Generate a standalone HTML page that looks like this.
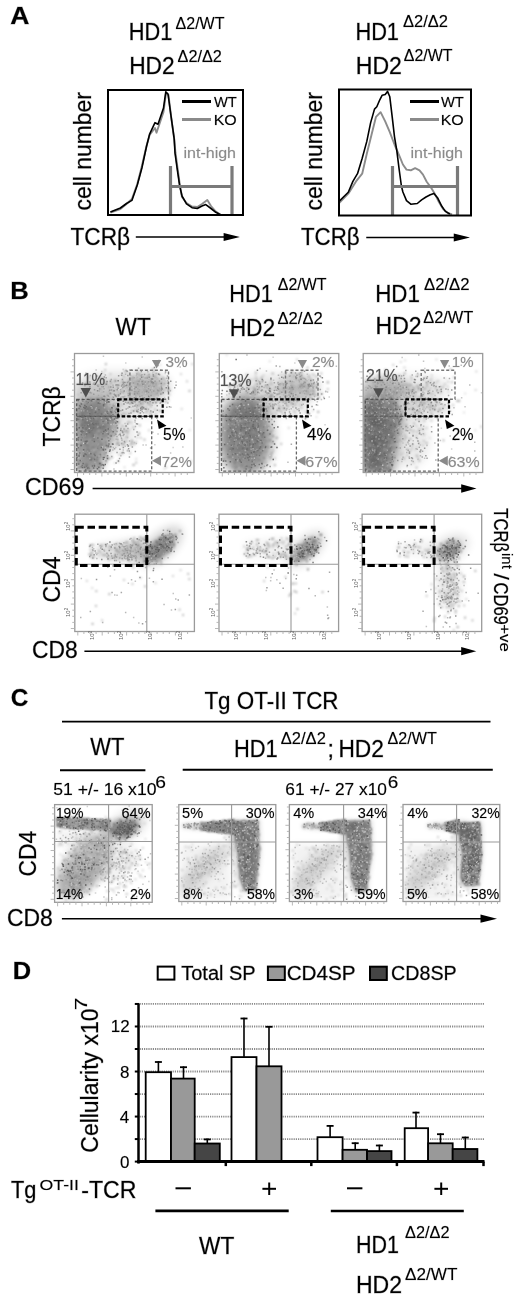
<!DOCTYPE html>
<html><head><meta charset="utf-8"><style>
html,body{margin:0;padding:0;background:#fff;}
svg{display:block;}
text{font-family:"Liberation Sans",sans-serif;stroke-opacity:0.3;stroke-width:0.8px;}
</style></head><body>
<svg width="520" height="1305" viewBox="0 0 520 1305">
<rect width="520" height="1305" fill="#fff"/>
<filter id="gb" x="0" y="0" width="100%" height="100%"><feGaussianBlur stdDeviation="0.35"/></filter>
<g filter="url(#gb)">
<rect width="520" height="1305" fill="#fff"/>
<defs>
<filter id="b0" x="-5%" y="-5%" width="110%" height="110%"><feGaussianBlur stdDeviation="0.8"/></filter>
<filter id="b1" x="-50%" y="-50%" width="200%" height="200%"><feGaussianBlur stdDeviation="1.2"/></filter>
<filter id="b2" x="-50%" y="-50%" width="200%" height="200%"><feGaussianBlur stdDeviation="2.5"/></filter>
<filter id="b3" x="-50%" y="-50%" width="200%" height="200%"><feGaussianBlur stdDeviation="4"/></filter>
<filter id="b4" x="-50%" y="-50%" width="200%" height="200%"><feGaussianBlur stdDeviation="6"/></filter>
</defs>
<clipPath id="c1"><rect x="74.5" y="353.5" width="119.5" height="119"/></clipPath>
<g clip-path="url(#c1)">
<path d="M76 399L106 399L116 410L116 428L108 450L100 472L76 472z" fill="#000" opacity="0.36" filter="url(#b3)"/>
<ellipse cx="95" cy="392" rx="22" ry="9" fill="#000" opacity="0.1" filter="url(#b3)"/>
<ellipse cx="92" cy="418" rx="18" ry="16" fill="#000" opacity="0.2" filter="url(#b3)"/>
<ellipse cx="88" cy="445" rx="12" ry="26" fill="#000" opacity="0.1" filter="url(#b3)"/>
<ellipse cx="120" cy="432" rx="16" ry="22" fill="#000" opacity="0.08" filter="url(#b3)"/>
<ellipse cx="118" cy="389" rx="46" ry="16" fill="#000" opacity="0.14" filter="url(#b4)"/>
<ellipse cx="148" cy="386" rx="22" ry="15" fill="#000" opacity="0.16" filter="url(#b3)"/>
<ellipse cx="140" cy="408" rx="26" ry="9" fill="#000" opacity="0.07" filter="url(#b3)"/>
<g filter="url(#b0)">
<path d="M90.7 391.7h1.7M163.5 468.7h1.7M159.6 364.8h1.7M141.2 405.4h1.7M188.8 430.1h1.7M123.7 467.3h1.7M135.4 458.8h1.7M98.9 383.1h1.7" stroke="#d2d2d2" stroke-width="1.7" fill="none"/>
<path d="M123.9 437.9h1.7M103 453.1h1.7M93 450.1h1.7M190.1 461.1h1.7M110.4 432.4h1.7M137.9 434.4h1.7M113.7 463h1.7M180.8 408.9h1.7M133.6 396.9h1.7M148.1 430.4h1.7M115.7 443.8h1.7M167.8 400.4h1.7" stroke="#c8c8c8" stroke-width="1.7" fill="none"/>
<path d="M120 403.4h1.7M126.8 432.6h1.7M126.4 434.5h1.7M116.1 437h1.7M117.3 441.3h1.7M115.6 411h1.7M128.3 429.8h1.7M111 432.8h1.7M102.5 373.3h1.7M103.3 405.5h1.7M126.8 399.1h1.7M101.1 380.1h1.7M107.8 400.7h1.7M110.6 400.3h1.7M114.7 408.4h1.7M121.1 380.1h1.7M130.2 391.9h1.7M141.3 399.8h1.7M113.8 394.6h1.7M117 380.9h1.7M104.7 389h1.7M87.7 377.6h1.7M84.6 376.3h1.7M109.4 380.8h1.7M132.1 390.3h1.7M111.1 386.7h1.7M110.4 394.6h1.7M121.1 374.1h1.7M85.8 388.3h1.7M123.8 386.5h1.7M131.5 389.8h1.7M154.4 396.9h1.7M113.9 391.7h1.7M122.6 390.2h1.7M89.1 388.9h1.7M126.9 386.5h1.7M134 383.3h1.7M160.2 381.2h1.7M180.2 374.1h1.7M132.2 378.4h1.7M133.5 404.4h1.7M144.2 389.7h1.7M140.3 387.5h1.7M147.9 393.2h1.7M151.6 392.1h1.7M148.4 383.8h1.7M137.4 411.7h1.7M142.3 406.5h1.7" stroke="#c4c4c4" stroke-width="1.7" fill="none"/>
<path d="M104.8 421.4h1.7M127.8 413h1.7M118.7 415.6h1.7M165.4 467.3h1.7M191.4 364.1h1.7M118.6 454.7h1.7M82.2 407.6h1.7M95.2 374.3h1.7" stroke="#bdbdbd" stroke-width="1.7" fill="none"/>
<path d="M125.4 413h1.7M121.6 440.2h1.7M129.4 453.1h1.7M115.2 432.5h1.7M124.9 427.2h1.7M112.7 435.3h1.7M114.7 430.4h1.7M117.8 422h1.7M119.4 430.9h1.7M112.6 434.9h1.7M97.3 431.3h1.7M106.3 391.5h1.7M101.1 383.9h1.7M102.1 401.9h1.7M116.9 393.1h1.7M168.5 394.7h1.7M129.4 396.1h1.7M136.6 404.7h1.7M118 392.2h1.7M129.4 378.5h1.7M118.9 383.5h1.7M169 390.1h1.7M99.8 392.9h1.7M139.9 393.4h1.7M109.6 374.1h1.7M92.1 399.6h1.7M148.4 382.8h1.7M132.3 376.5h1.7M186.2 381.4h1.7M146.5 391.5h1.7M103.7 382.5h1.7M139.3 388.3h1.7M89.6 396.7h1.7M103.6 383.2h1.7M129 391.9h1.7M153.2 397.9h1.7M139.1 383.3h1.7M126.9 391.4h1.7M160.4 381.4h1.7M152 377.4h1.7M160.6 402.1h1.7M133.1 394.5h1.7M140.2 394.8h1.7M151.7 402h1.7M147.7 386h1.7M131.8 384.4h1.7M145.3 389.7h1.7M147.5 381.3h1.7M146.6 388.4h1.7M143 393.5h1.7M156.4 384.6h1.7M128.2 390.5h1.7M149.7 378.4h1.7M148.3 376.9h1.7M148 403.8h1.7M139.6 405.2h1.7M120.9 405.2h1.7M159.4 400.1h1.7M138.6 413.4h1.7" stroke="#b8b8b8" stroke-width="1.7" fill="none"/>
<path d="M135.3 442h1.7M130.7 422.6h1.7M136.4 437.5h1.7M139.9 437.9h1.7M119.4 443.7h1.7M108.6 444.1h1.7M131.2 398.7h1.7M98.9 377.1h1.7M85.4 382.8h1.7M121.1 381.6h1.7M99.1 385.8h1.7M102.6 378.4h1.7M127.2 372.3h1.7M88.9 376.9h1.7M107.4 387.7h1.7M77 394.7h1.7M124 370.7h1.7M126.2 382.4h1.7M135.5 393.4h1.7M134.3 390.4h1.7M138 381.1h1.7M148.8 391.1h1.7M140.8 380.5h1.7M134.4 410h1.7M141.2 404.3h1.7M134.2 409h1.7M133.2 411.6h1.7" stroke="#b5b5b5" stroke-width="1.7" fill="none"/>
<path d="M124.8 415.6h1.7M129.9 443.8h1.7M122 443h1.7M123.7 432.2h1.7M126.3 430.9h1.7M135.4 462.7h1.7M155 401.3h1.7M122.7 393.1h1.7M118.4 393.4h1.7M108 387.3h1.7M143 390.3h1.7M138.6 399.8h1.7M135.2 381.8h1.7M147.4 393.3h1.7M150.7 383.7h1.7M142.1 393.3h1.7M148.3 398.7h1.7M148.4 396.4h1.7M152.8 396.3h1.7M167.6 389.7h1.7M156.7 400.4h1.7M137.2 409.7h1.7M165.6 402.3h1.7M118.1 407h1.7M137.4 405.1h1.7M154 409.6h1.7M139 403.2h1.7" stroke="#aaaaaa" stroke-width="1.7" fill="none"/>
<path d="M77.6 430.7h1.7M82.1 407.6h1.7M95.6 434.3h1.7M108.4 436.1h1.7M101.7 435.9h1.7M95 437.9h1.7M79.8 428.2h1.7M96.1 448.9h1.7M94.9 418.6h1.7M102.5 465.7h1.7M103.1 421.2h1.7M81.4 417.4h1.7M89.1 440.4h1.7M76.2 464.8h1.7M93.8 458.9h1.7M95.4 410.9h1.7M96.6 416.2h1.7M78.8 424.6h1.7M112.7 439.5h1.7M100.4 463.4h1.7M107.2 402.5h1.7M93.1 416.3h1.7M100 421.5h1.7M77.2 402h1.7M80.7 401.5h1.7M76.2 434.8h1.7M87.9 414.7h1.7M108.5 441.3h1.7" stroke="#aaa" stroke-width="1.7" fill="none"/>
<path d="M128 421.8h1.7M121.9 445.1h1.7M109.3 417.2h1.7M116.3 439.1h1.7M117.2 442.1h1.7M121.8 413.7h1.7M130.6 444.8h1.7M127 423h1.7M101.8 439h1.7M120.9 431.9h1.7M131.2 400.7h1.7M143.8 386.4h1.7M90.1 398.2h1.7M98.1 385.7h1.7M114.2 381.8h1.7M122 383h1.7M104.4 370h1.7M149.7 394h1.7M138.2 406.3h1.7M128.9 381.1h1.7M115.2 390.1h1.7M104.9 385.5h1.7M127.5 385h1.7M146.6 403.6h1.7M101.6 396.8h1.7M106.6 394h1.7M122.5 398h1.7M103.9 381.7h1.7M105.2 398.1h1.7M128.4 385.6h1.7M129 386.3h1.7M163.8 390.2h1.7M168 389.8h1.7M145.7 382.6h1.7M160.4 382.5h1.7M128.7 387h1.7M139 385.3h1.7M151.9 379.5h1.7M156.7 373.9h1.7M161.7 378.1h1.7M156.9 394.1h1.7M145 384.9h1.7M153.5 375.1h1.7M139.5 390.7h1.7M154.8 402.2h1.7M153 371.7h1.7M123 413.7h1.7" stroke="#a8a8a8" stroke-width="1.7" fill="none"/>
<path d="M117.4 461.3h1.7M121.8 426.3h1.7M109.8 432.9h1.7M117.4 422.7h1.7M131 440.5h1.7M138.9 425.3h1.7M131.3 442.2h1.7M126.8 432.3h1.7M108.3 458.6h1.7M132.7 427.4h1.7M123.3 443.8h1.7M123.8 430.2h1.7M123.7 431.2h1.7M133.5 443.9h1.7M111.1 457.5h1.7M143.6 439.6h1.7M125.5 441.2h1.7M130.5 379.3h1.7M142.7 382.2h1.7M141.2 381.4h1.7M141.7 386.5h1.7M127.9 396.6h1.7M139.2 374.9h1.7M105.9 401h1.7M164.4 400.8h1.7M110 383.1h1.7M133.3 394.2h1.7M188.6 390.9h1.7M105 364.1h1.7M98.3 378.9h1.7M121.5 390.6h1.7M124.7 371.8h1.7M109.3 393.9h1.7M103.2 384.2h1.7M87.8 388h1.7M136.8 380.3h1.7M108.3 386.8h1.7M146.5 377.3h1.7M122.9 376.3h1.7M109.9 382h1.7M90.2 393h1.7M115.2 395.9h1.7M114 403.1h1.7M112 390.4h1.7M116.9 399.1h1.7M142.2 401.1h1.7M101 378.7h1.7M143.8 389.6h1.7M95.2 402.5h1.7M117.1 385.7h1.7M147.9 375.1h1.7M145.1 399.6h1.7M156.2 382.4h1.7M145.4 392.9h1.7M136.9 380.4h1.7M157.7 393.5h1.7M150.9 388.8h1.7M137.6 385.7h1.7M151.6 393.4h1.7M151.5 383.9h1.7M151.1 385.8h1.7M162.9 378.8h1.7M161 383.7h1.7M155.4 389.2h1.7M137.5 374.1h1.7M156.5 378.9h1.7M128.5 402h1.7M148 383.9h1.7M163.6 384.5h1.7M139.2 384.8h1.7M164.7 381.3h1.7M135 384.1h1.7M136.6 371.5h1.7M154.6 391.2h1.7M158.3 389.2h1.7M154.9 414.6h1.7M149.9 406.7h1.7M131 410.9h1.7M146.8 410.1h1.7M149.4 414.4h1.7" stroke="#9a9a9a" stroke-width="1.7" fill="none"/>
<path d="M82.4 434.7h1.7M95.9 447.5h1.7M79.4 431.8h1.7M90.3 402.8h1.7M101.8 409.8h1.7M79.6 447.2h1.7M90.7 439.1h1.7M110.7 414.4h1.7M98 400.4h1.7M97.5 449.6h1.7M99.5 467.9h1.7M85.2 468.5h1.7M99.3 431.2h1.7M79.5 461.5h1.7M96.8 459.9h1.7M95.9 435.7h1.7M100.6 437.6h1.7M97.2 460h1.7M85.7 401.3h1.7M104.2 449.5h1.7M91.7 468.8h1.7M92.8 431.5h1.7M77.4 450.8h1.7M92.4 466.7h1.7M103.2 454.8h1.7M83.1 399.2h1.7M101.5 422.9h1.7M87.1 405.1h1.7M86.4 416.9h1.7M85.1 425.9h1.7M93 460.8h1.7M114.5 411.1h1.7M91.1 454.8h1.7M94.6 411.9h1.7M77.4 409.9h1.7M99.6 424.6h1.7M99.3 430.8h1.7M109.1 437.2h1.7M79.3 465.5h1.7M102.5 420h1.7M80.2 406.1h1.7M98.6 414.8h1.7M112.2 405.6h1.7M110.4 411.4h1.7M98.3 454.1h1.7M82.5 460.5h1.7M83.1 431h1.7" stroke="#999" stroke-width="1.7" fill="none"/>
<path d="M121.2 453.5h1.7M138.2 433.4h1.7M125.9 437.2h1.7M132.7 464.9h1.7M116.7 416h1.7M116.9 444.4h1.7M106.5 425h1.7M116.4 443.6h1.7M111.2 399.5h1.7M131.9 377.8h1.7M114.2 380.3h1.7M143.7 385.7h1.7M121.6 398.9h1.7M116.5 386.5h1.7M85.4 390.6h1.7M141.9 403.7h1.7M100.3 389h1.7M135.6 392.1h1.7M130.2 403h1.7M144.2 391.5h1.7M154.5 383.4h1.7M145.5 381.9h1.7M143.4 384.7h1.7M160.9 392.4h1.7M154.9 394.2h1.7M152.4 369.4h1.7M155.1 385.6h1.7M128.9 390h1.7M130.1 398.4h1.7M137.6 394.7h1.7M132.8 381.8h1.7M154.5 377.1h1.7M131.1 400.2h1.7M159.2 410.9h1.7M150.2 411.8h1.7M145.4 407.5h1.7M149.1 403.7h1.7M145.5 412.3h1.7M124.2 399.6h1.7" stroke="#8a8a8a" stroke-width="1.7" fill="none"/>
<path d="M103.3 404.3h1.7M98.5 425.7h1.7M89.2 441.7h1.7M112.8 421.9h1.7M78.5 450.2h1.7M85.3 415.6h1.7M84.3 413.9h1.7M81.3 410h1.7M79.1 447.9h1.7M103.7 409.4h1.7M82.3 466.1h1.7M98.1 416.4h1.7M78.1 413.7h1.7M86.3 469.5h1.7M107.5 447h1.7M99.5 444.8h1.7M102.3 448.7h1.7M103.7 403.8h1.7M106.9 417.4h1.7M78.5 418.6h1.7M113.5 413.5h1.7M84.8 468h1.7M81.9 424.1h1.7M92.3 415.3h1.7M107.3 401.3h1.7M90.2 418.9h1.7M92.2 417.3h1.7M89.4 425.4h1.7M89.7 470.6h1.7M102.1 448.2h1.7M111.3 420.4h1.7M100.3 422.8h1.7M77.7 420.4h1.7M78.7 406.4h1.7M93.9 447.1h1.7M95.9 406.8h1.7M78.8 462.3h1.7M80.5 414h1.7M76.1 413.7h1.7M90.6 459.7h1.7M105.3 456.4h1.7M91.9 463.5h1.7" stroke="#858585" stroke-width="1.7" fill="none"/>
<path d="M89.6 410h1.7M81.2 415.3h1.7M110.5 419.8h1.7M77.1 462.8h1.7M77 468.4h1.7M89.8 415.3h1.7M89.7 436.8h1.7M99.3 456.3h1.7M86.4 419.2h1.7M96.1 467.7h1.7M84 433.7h1.7M87.1 469.2h1.7M96.6 399.2h1.7M99.8 399.9h1.7M76.7 432.5h1.7M96.4 400.8h1.7M86.5 418.4h1.7M97.5 412.9h1.7M96.9 415.1h1.7M80.6 410.3h1.7M95.2 439.3h1.7M98 441.6h1.7M116.1 408h1.7M91 459h1.7M99.8 426.2h1.7M81 412.8h1.7M76.6 439.3h1.7M96.3 402.9h1.7M94.8 431h1.7M109.5 418.3h1.7M101.9 430.6h1.7M97.5 464.4h1.7M97.3 445.8h1.7M107.3 433h1.7M105.1 445.3h1.7M76.9 417.7h1.7M77.3 429.1h1.7M107.6 446.2h1.7" stroke="#777" stroke-width="1.7" fill="none"/>
<path d="M78.4 436h1.7M100.2 428h1.7M95 420.9h1.7M98.1 462.9h1.7M105.2 442.4h1.7M76.9 432.7h1.7M84.8 410.8h1.7M80.3 425.5h1.7M86.6 424.4h1.7M98.8 401h1.7M98.2 470.4h1.7M85.5 436.8h1.7M111.3 434h1.7M90 457.5h1.7M86.9 429.6h1.7M90.9 432.4h1.7M92.7 434.6h1.7M84.2 422.3h1.7M87.4 408.5h1.7M99.2 466.6h1.7M87.3 408.4h1.7M88.3 432.5h1.7M106.4 446h1.7M106.8 458.3h1.7M100.5 464.2h1.7M80.4 460h1.7M94.9 421h1.7M84.7 465.1h1.7M99.9 463.8h1.7M97.9 448.8h1.7M88.9 400.6h1.7M97.2 414h1.7M96.8 412.7h1.7M110.5 430.6h1.7M77.5 403.6h1.7M95.9 458.8h1.7M81.9 413.9h1.7M91 429.4h1.7M79.7 444.4h1.7M91.6 435.8h1.7M110.6 410.7h1.7M109 415.2h1.7M97.3 422.3h1.7M80.8 437.7h1.7M102.5 427.8h1.7M89.1 399.1h1.7M76.3 460.6h1.7M107.2 432h1.7M87.1 445.9h1.7M105.3 461.6h1.7M94.4 451.9h1.7M90.5 409.4h1.7M107.8 414h1.7M105.4 435.4h1.7M103.8 453.2h1.7" stroke="#707070" stroke-width="1.7" fill="none"/>
<path d="M92.2 447.8h1.7M87.7 429.3h1.7M104.4 402.9h1.7M76 410h1.7M86.9 449.6h1.7M114.3 431.4h1.7M102.2 436.4h1.7M79 467.5h1.7M89.1 421.3h1.7M81.6 425.3h1.7M104.4 420.2h1.7M97.7 432.9h1.7M85.7 464.5h1.7M114.9 408.3h1.7M100.7 399h1.7M103.9 426.6h1.7M116.5 414.1h1.7M86.9 455.8h1.7M101 444.3h1.7M92.6 439.2h1.7M91.3 413.4h1.7M114.9 427.3h1.7M97.8 427h1.7M110.3 409.5h1.7M80.5 425.1h1.7M86.2 409.9h1.7M113 423h1.7M86 465.3h1.7M95.7 460.3h1.7M84.9 444.5h1.7M91.3 458.7h1.7M87.9 451.3h1.7M113.4 405.3h1.7" stroke="#6a6a6a" stroke-width="1.7" fill="none"/>
</g>
<path d="M147 410h1.5M140 399.5h1.5M164.5 373.5h1.5M125 363h1.5M172.4 447.5h1.5M101.1 371.4h1.5M82.9 443.2h1.5M83.3 398.3h1.5M158.3 360.3h1.5M190.5 418.1h1.5M122.4 369.4h1.5M163.8 397.6h1.5M130.6 407.5h1.5M109.4 419h1.5M154.1 444.7h1.5M145.7 402.6h1.5" stroke="#d2d2d2" stroke-width="1.5" fill="none"/>
<path d="M142.4 445.1h1.5M105.7 420.4h1.5M126.6 451h1.5M95.4 370h1.5M158.8 422.9h1.5M145.3 383.6h1.5M156 378.8h1.5M113.2 469.1h1.5M179.5 367h1.5M114.2 418.1h1.5M157.3 434h1.5M145.3 445h1.5M152 372.9h1.5M141.5 357h1.5M169.9 453.1h1.5M84.8 383.1h1.5M182.1 447h1.5M102.7 356.3h1.5" stroke="#c8c8c8" stroke-width="1.5" fill="none"/>
<path d="M126.8 450.3h1.5M126.8 437.5h1.5M133.5 442.5h1.5M122.5 450.1h1.5M152.1 432.3h1.5M133.7 442.8h1.5M101.6 446.9h1.5M123.4 453.1h1.5M135.6 443.5h1.5M124.3 423.6h1.5M124.5 446.2h1.5M135.7 410.7h1.5M120.6 437.4h1.5M110.3 424.5h1.5M106 432h1.5M115 447.5h1.5M134.3 421.9h1.5M126.2 391.6h1.5M133 387.4h1.5M99.4 384.4h1.5M137.5 396.6h1.5M100.6 387.1h1.5M101.8 379.2h1.5M109.6 397.4h1.5M129.9 382.6h1.5M117.1 391.2h1.5M124.2 396.3h1.5M110.3 379.9h1.5M99.5 380.3h1.5M128.5 399.6h1.5M135 404.6h1.5M126.2 383.1h1.5M148.4 395.7h1.5M127.7 388.3h1.5M141.7 391.4h1.5M142.6 376.4h1.5M97.4 384.4h1.5M109.1 391.7h1.5M129.3 383.7h1.5M170.2 407.3h1.5M100.3 386.5h1.5M100 385.1h1.5M124.9 388.8h1.5M111.3 390.8h1.5M104.8 402.7h1.5M90.4 406.3h1.5M131 399.8h1.5M140.4 408.6h1.5M129.9 386.4h1.5M117.8 396.1h1.5M106 386.8h1.5M113.9 404.1h1.5M129.6 384.8h1.5M121.1 388.8h1.5M151.9 388h1.5M129.8 381.7h1.5M156.7 379.7h1.5M152.5 378h1.5M147.7 400.8h1.5M124.2 386.8h1.5M130.2 375.5h1.5M161.6 391h1.5M129.8 379.4h1.5M144.8 393.3h1.5M175.3 381.9h1.5M126.7 385.8h1.5M136.7 405.6h1.5M136 409.3h1.5M151.3 405.2h1.5" stroke="#c4c4c4" stroke-width="1.5" fill="none"/>
<path d="M107.2 403h1.5M120.1 455.8h1.5M105.3 451.3h1.5M127.7 394h1.5M159.1 398.7h1.5M112.1 450.1h1.5M88.5 428.4h1.5M80 460.3h1.5" stroke="#bdbdbd" stroke-width="1.5" fill="none"/>
<path d="M133 429.5h1.5M134.3 420.3h1.5M123.1 434.6h1.5M125.8 430.8h1.5M113.1 424.2h1.5M121.2 440.2h1.5M115.4 434.3h1.5M116.3 410.5h1.5M104.7 447.5h1.5M112.6 447.6h1.5M128.8 441.1h1.5M118.1 434.9h1.5M150.3 388.5h1.5M140.6 391.5h1.5M122.6 381.4h1.5M103.5 397.1h1.5M112.3 391h1.5M121.5 396.7h1.5M100.6 395.1h1.5M118.5 394.9h1.5M118.7 401.4h1.5M118.4 406.6h1.5M98.9 399.3h1.5M161 393.8h1.5M104.6 375.1h1.5M123.9 396.5h1.5M122.3 392.1h1.5M148.4 383.8h1.5M89.6 375.6h1.5M143 385.4h1.5M108.8 400.4h1.5M130.7 397.4h1.5M101.4 392.3h1.5M103.6 379.7h1.5M156.2 379.1h1.5M111.6 396.9h1.5M141.1 395.3h1.5M128.9 389.6h1.5M137.8 368.3h1.5M98.1 384.8h1.5M110 404.9h1.5M155.4 373.6h1.5M120 397.4h1.5M87.3 389.4h1.5M169.6 390.8h1.5M142.7 387.6h1.5M156.8 391.9h1.5M121 414.8h1.5M165.8 378.3h1.5M106.7 384.4h1.5M149.5 381.9h1.5M145.8 384.1h1.5M139.7 382.7h1.5M126.3 387.5h1.5M153.1 388.2h1.5M144.9 402.2h1.5M146.8 388.8h1.5M134.5 386.2h1.5M132.9 380.9h1.5M135.7 378h1.5M145.3 382h1.5M150.5 391.2h1.5M148.1 375h1.5M163.9 383.5h1.5M152.3 378.6h1.5M158 384.1h1.5M122.2 392.7h1.5M135.7 375.8h1.5M147.2 391.7h1.5M131.1 393.3h1.5M155.2 390.3h1.5M136.8 377.2h1.5M142.1 392.5h1.5M151.5 379.3h1.5M157.5 395.4h1.5M147.1 371.7h1.5M142.8 412.8h1.5M156 418.3h1.5M135.1 404.8h1.5M138 401.9h1.5M143.8 400.8h1.5M167.1 403.1h1.5M127.1 408.3h1.5" stroke="#b8b8b8" stroke-width="1.5" fill="none"/>
<path d="M121.3 452.8h1.5M111.5 429.5h1.5M117 439.6h1.5M134.4 436.7h1.5M124 442.5h1.5M115.5 439.2h1.5M134.7 426.5h1.5M108.2 391.5h1.5M110.8 393.4h1.5M112.3 385.3h1.5M117.3 398.7h1.5M88.4 398.3h1.5M152.1 392.8h1.5M127.4 385.7h1.5M123.5 385.1h1.5M108.7 396.9h1.5M146.4 392h1.5M86.8 394.1h1.5M135.3 393.1h1.5M130.8 401.7h1.5M108 387h1.5M141.8 381.5h1.5M144 388.2h1.5M127.5 400.8h1.5M85.2 373.2h1.5M116.2 403.3h1.5M134.4 402.4h1.5M129.1 403.7h1.5M139 382.3h1.5M157 388.1h1.5M148 376.9h1.5M152.4 381.4h1.5M150.5 385.1h1.5M124.8 374.2h1.5M137.7 398.9h1.5M158.7 387.5h1.5M158.5 383.1h1.5M160.1 370h1.5M153.1 384.7h1.5M166.8 383.3h1.5M167 380.8h1.5M151.5 391.6h1.5M159.1 391.8h1.5M142.4 377h1.5M148.7 379.6h1.5M127.5 399.5h1.5M154.6 389.8h1.5M148.1 379.8h1.5M148.4 374.4h1.5M126.3 403.1h1.5M144.3 408.8h1.5M130.9 403.2h1.5M136.1 407.1h1.5M147.7 409.2h1.5" stroke="#b5b5b5" stroke-width="1.5" fill="none"/>
<path d="M120.1 410.8h1.5M135.1 417.9h1.5M149.9 447.9h1.5M108.3 436.5h1.5M120.8 438.5h1.5M111 456.4h1.5M112.1 435.7h1.5M118.4 445.3h1.5M114.3 433.5h1.5M110.2 433.2h1.5M123.3 429.1h1.5M128.7 456.9h1.5M136 392.2h1.5M125.4 370.4h1.5M133.4 377.8h1.5M106.6 395.2h1.5M120.2 392.1h1.5M118 385.2h1.5M138.4 393.5h1.5M133.6 391.4h1.5M107 402.6h1.5M84.2 385.7h1.5M131.3 390.5h1.5M92.7 384.3h1.5M119.8 389.8h1.5M93.4 382.9h1.5M123.3 391.4h1.5M158.9 388.9h1.5M140.5 375.7h1.5M157.3 365.4h1.5M145.8 387.3h1.5M152.4 384.5h1.5M141.6 392h1.5M150.4 398.8h1.5M141 383.3h1.5M147 383.3h1.5M149.4 385.5h1.5M144.6 389.5h1.5M167.3 385.8h1.5M158.8 374.8h1.5M157.7 373.9h1.5M138.5 380.8h1.5M144.1 390.6h1.5M154.8 384.2h1.5M130.5 370h1.5M136.3 391.7h1.5M132.2 406.4h1.5M159.4 403.2h1.5M124.8 402.2h1.5M140 403.6h1.5M137.6 409.6h1.5" stroke="#aaaaaa" stroke-width="1.5" fill="none"/>
<path d="M89 458.6h1.5M100.7 418.2h1.5M78.6 403.9h1.5M91.3 408h1.5M98.4 455.9h1.5M94.2 462.6h1.5M86.6 420.4h1.5M106.5 439.6h1.5M111.3 409h1.5M82.5 451.3h1.5M76.8 423.2h1.5M80.4 418.4h1.5M80.6 410.8h1.5M106.8 439.2h1.5M87.8 416.7h1.5M95.6 407.7h1.5M82 437.3h1.5M76.1 453.8h1.5M113.9 420.2h1.5M106.8 431.9h1.5M88 402.6h1.5M88.5 452.9h1.5M94.9 409.2h1.5M93.4 437.3h1.5M113.6 433.5h1.5M113.1 433.7h1.5M82 402.8h1.5M91.7 423.2h1.5M89.3 419.1h1.5M76.2 454.2h1.5M108.9 404.8h1.5M85.8 429.4h1.5M103.9 407.8h1.5M115.1 426.2h1.5M86.7 442.8h1.5M76.5 422.9h1.5M104.5 412.5h1.5M106.6 413.9h1.5M97.9 466.6h1.5M115.9 408.9h1.5M84.1 470.7h1.5M107.8 410.6h1.5M84.7 418.2h1.5M105.2 460.7h1.5M78.8 442.1h1.5M79.4 456.5h1.5M102.4 425h1.5M113.9 435.6h1.5M85.8 432.6h1.5" stroke="#aaa" stroke-width="1.5" fill="none"/>
<path d="M128.3 413.4h1.5M127.2 428.5h1.5M116.2 436.5h1.5M115 430.3h1.5M113.8 448.7h1.5M122.4 435.5h1.5M118.8 458.6h1.5M126.9 424h1.5M116.3 452.4h1.5M120.2 428.6h1.5M127.4 446h1.5M123.1 434.4h1.5M137.2 435.3h1.5M120.9 443.5h1.5M131.6 447h1.5M103.3 388.8h1.5M101.1 386.7h1.5M130.1 382.7h1.5M134.1 386.9h1.5M136.5 381.6h1.5M141.5 411.4h1.5M128.7 390.9h1.5M127.7 381.5h1.5M150.8 391.9h1.5M135.1 396.1h1.5M142.2 399.4h1.5M149.6 381.3h1.5M131.1 390.3h1.5M119.4 399.9h1.5M115.1 394.9h1.5M110.6 379.5h1.5M161.6 389.3h1.5M90.6 393.1h1.5M175.3 385.3h1.5M116.1 384.8h1.5M143.7 400.9h1.5M123.3 384.9h1.5M152.4 384.3h1.5M141.2 395.7h1.5M138.7 389.7h1.5M97.8 395.5h1.5M81.8 400.5h1.5M127.6 393.4h1.5M122.8 396.9h1.5M114.7 381h1.5M99.8 402.1h1.5M129.3 387.2h1.5M109.4 392.9h1.5M98.5 391h1.5M96.5 385.3h1.5M102.9 391.7h1.5M106.1 383h1.5M105.4 377.8h1.5M136.7 405.5h1.5M137.1 388.8h1.5M142.3 383.2h1.5M151.2 382.3h1.5M146.9 402.8h1.5M146.1 383.9h1.5M157.1 391.8h1.5M174 387.8h1.5M144.1 387.8h1.5M141.2 374.8h1.5M144.1 387.8h1.5M136.1 374h1.5M160.6 386.3h1.5M144.4 378h1.5M159.9 402.6h1.5M167.4 391.1h1.5M142.4 381.1h1.5M146.9 390.5h1.5M156.4 393.2h1.5M145.5 390.1h1.5M132.1 399.1h1.5M142.2 381.6h1.5M166.7 376.1h1.5M128.7 406.9h1.5M141 409.6h1.5M155.2 402.8h1.5M144.9 409h1.5M150 410.9h1.5M125.5 409h1.5" stroke="#a8a8a8" stroke-width="1.5" fill="none"/>
<path d="M119.9 435.8h1.5M119.2 449.2h1.5M105.7 422h1.5M122 432.4h1.5M115.5 421.3h1.5M114.9 434.2h1.5M100.3 449.8h1.5M128.5 451.1h1.5M136.7 424h1.5M135.8 423.7h1.5M122.6 447.4h1.5M115.3 463.1h1.5M122.3 452.4h1.5M123.7 441.6h1.5M107.8 446.9h1.5M109.1 435.5h1.5M108.9 431.8h1.5M134.6 451.6h1.5M127.6 446.1h1.5M126.7 444.7h1.5M127.9 448.8h1.5M136.3 432.1h1.5M121.7 431.3h1.5M117.3 388.3h1.5M89.1 382h1.5M147.7 388.8h1.5M139.2 401.8h1.5M120.8 385.9h1.5M156.9 390.2h1.5M109.6 393.4h1.5M122.5 382.5h1.5M139.1 396.4h1.5M115.3 385.1h1.5M112.7 406.1h1.5M128.8 406.9h1.5M98.9 389h1.5M119.7 393.7h1.5M103.6 376.9h1.5M104.1 396.5h1.5M109.6 381.3h1.5M161.1 389.1h1.5M112.5 387.2h1.5M150.5 381.3h1.5M126.8 382.5h1.5M110.7 389.9h1.5M144.8 400.1h1.5M80.4 392.7h1.5M112.7 397.3h1.5M93.8 389.7h1.5M117.8 395.8h1.5M130.4 386.5h1.5M97.3 386.2h1.5M140.6 371.5h1.5M127.7 395.5h1.5M122.1 387.6h1.5M108.9 390.2h1.5M89.2 386.8h1.5M117.7 399.5h1.5M102.6 386.8h1.5M145.4 409.3h1.5M81.8 382.9h1.5M120.9 375.3h1.5M147.8 392.3h1.5M121.6 384.8h1.5M117.6 395h1.5M122.6 383.5h1.5M116.5 389.8h1.5M115.4 396.2h1.5M101 398.3h1.5M107.5 395.9h1.5M113.5 394.2h1.5M110 387.1h1.5M121.7 379.5h1.5M139.6 379.1h1.5M148 386.2h1.5M132.7 383.1h1.5M117.9 375.8h1.5M93 394.2h1.5M121.3 373.3h1.5M113.1 399.9h1.5M85.7 389.1h1.5M123.3 386.6h1.5M133.9 388.8h1.5M89.4 392.5h1.5M126.4 371.2h1.5M128.9 389.7h1.5M117.1 384.9h1.5M134.8 401h1.5M164.8 371.9h1.5M127.1 375.6h1.5M150.3 381.1h1.5M137.1 384.4h1.5M143.6 397.8h1.5M152.7 376.2h1.5M123.5 391.1h1.5M145.9 391.1h1.5M134.2 391.8h1.5M151.4 382.3h1.5M136.6 393.6h1.5M150.3 395.6h1.5M158.1 390.8h1.5M146.4 377.9h1.5M150.6 382.5h1.5M133.4 401.4h1.5M156.3 398.3h1.5M144.6 382h1.5M151.9 383.3h1.5M149.6 389.9h1.5M149.4 401.6h1.5M125.1 385.8h1.5M152.9 391h1.5M147.8 381.8h1.5M138.2 381.6h1.5M154.3 381.3h1.5M152.5 374.7h1.5M153.3 386.4h1.5M160 394.1h1.5M137.9 391.6h1.5M158.7 381h1.5M130.8 390.2h1.5M170 381.3h1.5M137 383.8h1.5M143.8 374.5h1.5M148.5 377.3h1.5M132.3 400.6h1.5M160.5 390.1h1.5M144.9 400.7h1.5M168.7 406.8h1.5M142.3 408.5h1.5M156.6 410.3h1.5M140.7 407.2h1.5M128.5 406.7h1.5M140.3 407.7h1.5M141.8 409.1h1.5M127.5 402.7h1.5M144.3 416.2h1.5M156.5 405.8h1.5M134.2 406h1.5M152.2 402.7h1.5M144.5 408.9h1.5M114 411.3h1.5M139.6 413h1.5M166.1 407.3h1.5M136.2 411h1.5M139.9 410.2h1.5M137.1 411.8h1.5M130.2 412.9h1.5M150.9 415.3h1.5M141.5 418.6h1.5M132.9 411h1.5M111.3 409.1h1.5" stroke="#9a9a9a" stroke-width="1.5" fill="none"/>
<path d="M92.4 462.6h1.5M91.1 463.5h1.5M116.2 410h1.5M97.7 444.1h1.5M110.8 410.8h1.5M116.2 431.6h1.5M116.1 425.6h1.5M83.5 456.6h1.5M82.1 459.3h1.5M81.5 400h1.5M97.1 437.8h1.5M82.8 430.5h1.5M100 450.1h1.5M79.8 403.2h1.5M78.8 462h1.5M86.5 400.1h1.5M110.4 430.5h1.5M86.7 410.9h1.5M84.4 435.8h1.5M77.8 460h1.5M79.1 418.4h1.5M106.6 414h1.5M96.7 426.9h1.5M80.3 459.9h1.5M83 410.8h1.5M86 417.9h1.5M97.1 445h1.5M116.8 417.1h1.5M77.7 456.1h1.5M101.2 399.8h1.5M85.9 417h1.5M93.6 417.8h1.5M90.2 429.7h1.5M104.7 413.5h1.5M87.8 424.7h1.5M78.1 433.6h1.5M87 451.3h1.5M94.1 435h1.5M80 435.4h1.5M103.4 413.9h1.5M109.4 439h1.5M88.9 468.6h1.5M93.1 463.4h1.5M111.2 407.6h1.5M97.4 402h1.5M97.2 426.6h1.5M97.1 466.2h1.5M77.5 412.3h1.5M82.8 467.4h1.5M102.7 425.3h1.5M76.1 424.9h1.5M76.5 439.2h1.5M105.3 452.8h1.5M90.6 450.4h1.5M90.6 422.8h1.5M113.2 416.4h1.5" stroke="#999" stroke-width="1.5" fill="none"/>
<path d="M121.8 409.9h1.5M108 427.3h1.5M112.2 444.3h1.5M107.3 437.7h1.5M117.7 460.9h1.5M119.3 434.3h1.5M125.3 426h1.5M120 430.2h1.5M165.5 387.8h1.5M105.5 384.3h1.5M151.7 379.1h1.5M114.5 395.5h1.5M77.1 400.4h1.5M125.8 385.3h1.5M113.3 390.8h1.5M148 396.2h1.5M124.1 382.4h1.5M103.3 396.3h1.5M96.8 390.7h1.5M131.2 402.6h1.5M106.3 381.6h1.5M117.4 380.7h1.5M133.6 397.7h1.5M103.8 403.6h1.5M96 376h1.5M123.2 404.1h1.5M153.7 367.5h1.5M145.9 391.4h1.5M142.1 384.3h1.5M160.8 388h1.5M148.6 398.6h1.5M135.3 387.2h1.5M162.5 392.7h1.5M158 374.3h1.5M135.2 397.9h1.5M141.4 381.6h1.5M160.5 383.5h1.5M151.1 382h1.5M160.7 378.9h1.5M133.9 394h1.5M150.7 379.1h1.5M152.7 382.8h1.5M140.9 377.2h1.5M141.1 399.7h1.5M141.7 407h1.5M132 403.3h1.5M160.6 400.2h1.5M122.6 401.2h1.5M136.2 411.6h1.5M142.9 407.5h1.5M142 398.2h1.5M139.9 408.6h1.5M152.5 412.1h1.5" stroke="#8a8a8a" stroke-width="1.5" fill="none"/>
<path d="M112.1 420.1h1.5M83.6 441.5h1.5M78.5 414h1.5M100.4 432.3h1.5M78.5 455.1h1.5M91.5 440.3h1.5M80.3 445.3h1.5M100.5 465h1.5M83.2 433.6h1.5M99.6 454.5h1.5M77.7 455.9h1.5M110.4 417.9h1.5M97 412h1.5M76.2 418.3h1.5M117.4 409.9h1.5M81.9 437.2h1.5M107.2 421.2h1.5M89.3 460.3h1.5M88 467.3h1.5M103.6 421h1.5M78.6 419.3h1.5M96.9 448.2h1.5M85.5 401.5h1.5M88.4 468.5h1.5M93.3 458.3h1.5M114.6 417.8h1.5M115 412.4h1.5M86.4 403.7h1.5M77.4 439.3h1.5M105.8 431.6h1.5M110 446.7h1.5M77 444.2h1.5M81.4 430.4h1.5M106.8 455.8h1.5M86.4 465h1.5M89 420.9h1.5M85.8 401.8h1.5M116.5 414.8h1.5M82.1 401h1.5M80.5 466.8h1.5M91.5 422.4h1.5M96.6 457.2h1.5M83.7 435.1h1.5" stroke="#858585" stroke-width="1.5" fill="none"/>
<path d="M78.9 405.6h1.5M102.4 468.2h1.5M102.8 426.2h1.5M99 403.6h1.5M104.6 430.2h1.5M86.3 440.9h1.5M93.6 454.3h1.5M77.6 447.8h1.5M108.1 440.8h1.5M81.4 417.1h1.5M85.8 434.4h1.5M92.5 428.1h1.5M90.9 401.1h1.5M107.5 433.9h1.5M106.4 411.4h1.5M81.5 465.4h1.5M97.7 423.8h1.5M106.3 400.4h1.5M107.9 420.2h1.5M92.5 436h1.5M90.4 459.8h1.5M105.7 445.4h1.5M79 453.1h1.5M82.6 431.5h1.5M88.8 416h1.5M92.4 422.8h1.5M104.7 449.6h1.5M91.6 427.7h1.5M91.1 430.2h1.5M87.6 402.5h1.5M106.2 402.6h1.5M99.4 427.8h1.5M112.2 414.8h1.5M87.4 417.1h1.5M85.8 466.2h1.5M110.4 415.8h1.5M84.1 425.6h1.5M85.8 433.7h1.5M97.3 415.9h1.5M93.2 419.7h1.5M85.2 428.2h1.5M77.7 440.1h1.5M79.9 431.3h1.5M80 445.6h1.5M76.5 446.1h1.5M78.5 455.9h1.5M89.4 429.9h1.5M84.7 418.2h1.5M81.3 432.7h1.5" stroke="#777" stroke-width="1.5" fill="none"/>
<path d="M93.8 459.4h1.5M83.4 415.9h1.5M76.2 429.6h1.5M79.6 406.5h1.5M90.4 418.3h1.5M98.2 409.7h1.5M87 425.8h1.5M83 455.4h1.5M77.2 419.4h1.5M102.2 464.7h1.5M116.8 427.9h1.5M92.9 468.1h1.5M86.1 441.8h1.5M80.5 439.9h1.5M115.6 418h1.5M79 416.6h1.5M78.7 470.9h1.5M95.1 423.8h1.5M90.6 400.3h1.5M78.3 408.5h1.5M79.5 460.4h1.5M89 425h1.5M76 426.9h1.5M77.8 400.6h1.5M97.1 438.1h1.5M108.2 444h1.5M82.2 417.5h1.5M84.8 441.4h1.5M110.4 436.1h1.5M107.6 446h1.5M95.8 424.1h1.5M117 418h1.5M90.4 405.6h1.5M102.7 450h1.5M88.7 432.6h1.5M85.3 454.5h1.5M85.4 429.4h1.5M115.1 423h1.5M83.8 467.3h1.5M91.7 466.1h1.5M107 413.5h1.5M112.4 431.8h1.5M102.9 465.4h1.5M82.1 419.7h1.5M80.6 434.8h1.5M110.8 412.4h1.5M81.2 417h1.5M102.3 421.4h1.5M95.2 412.1h1.5M106.7 458.5h1.5M81.5 415.6h1.5M100.7 413.9h1.5M102.2 433.7h1.5M77.8 437.8h1.5M115.5 409.4h1.5M84.4 443.4h1.5M78 463.9h1.5M108.9 451.2h1.5M90.1 453.7h1.5M105.9 418.4h1.5M107.3 422.9h1.5M102.6 459.2h1.5M111.8 444.1h1.5M94.3 455.4h1.5M80.6 445.5h1.5M92.9 427.8h1.5" stroke="#707070" stroke-width="1.5" fill="none"/>
<path d="M109.4 450h1.5M106.6 420h1.5M83.1 407.5h1.5M99.1 463.5h1.5M103.4 457.4h1.5M98.1 467.2h1.5M93.7 466h1.5M94.5 412.4h1.5M76.2 457.3h1.5M81.1 431.3h1.5M93.7 465.5h1.5M104.9 430h1.5M102.6 457.5h1.5M93 424.4h1.5M103 404.7h1.5M116 408.7h1.5M76.2 434.9h1.5M111.2 407.8h1.5M84.1 405.6h1.5M107.5 429.1h1.5M91.8 423.7h1.5M80.7 404.1h1.5M116.7 421.8h1.5M82.1 427.7h1.5M84.9 470.1h1.5M78.5 427.7h1.5M108.2 402h1.5M84.3 454h1.5M82.4 463.5h1.5M89.1 413.8h1.5M102.8 405.7h1.5M82.9 449.8h1.5M84.3 408.2h1.5M107.8 401.8h1.5M101.2 439.2h1.5M93.6 441.5h1.5M102.7 405h1.5M97.5 403h1.5M96.7 468.8h1.5M113.7 419.1h1.5M104.5 464.4h1.5M83.1 456.3h1.5M110.4 417.5h1.5M100.6 447.4h1.5M103.4 400.6h1.5M85.4 441.6h1.5M81.7 467.4h1.5M92.9 418.3h1.5M103.1 431.4h1.5M110.2 411.7h1.5M85.5 406.7h1.5M86.9 416.2h1.5M102.5 449.6h1.5M86.9 467.9h1.5" stroke="#6a6a6a" stroke-width="1.5" fill="none"/>
</g>
<rect x="74.5" y="353.5" width="119.5" height="119" fill="none" stroke="#9a9a9a" stroke-width="1.3"/>
<path d="M74.5 469.5h-4M74.5 463.4h-2.5M74.5 457.3h-2.5M74.5 451.2h-2.5M74.5 445.1h-4M74.5 439h-2.5M74.5 432.9h-2.5M74.5 426.8h-2.5M74.5 420.7h-4M74.5 414.6h-2.5M74.5 408.5h-2.5M74.5 402.4h-2.5M74.5 396.3h-4M74.5 390.2h-2.5M74.5 384.1h-2.5M74.5 378h-2.5M74.5 371.9h-4M74.5 365.8h-2.5M74.5 359.7h-2.5M77.5 472.5v4M83.6 472.5v2.5M89.7 472.5v2.5M95.8 472.5v2.5M101.9 472.5v4M108 472.5v2.5M114.1 472.5v2.5M120.2 472.5v2.5M126.3 472.5v4M132.4 472.5v2.5M138.5 472.5v2.5M144.6 472.5v2.5M150.7 472.5v4M156.8 472.5v2.5M162.9 472.5v2.5M169 472.5v2.5M175.1 472.5v4M181.2 472.5v2.5M187.3 472.5v2.5" stroke="#b0b0b0" stroke-width="0.9" fill="none"/>
<rect x="129.9" y="370.2" width="38.6" height="29.1" fill="none" stroke="#777" stroke-width="1.4" stroke-dasharray="3 2"/>
<rect x="76.7" y="399.3" width="41.5" height="17" fill="none" stroke="#555" stroke-width="1.3" stroke-dasharray="3 2"/>
<rect x="76.7" y="416.3" width="75" height="54.9" fill="none" stroke="#666" stroke-width="1.3" stroke-dasharray="3 2"/>
<rect x="118.2" y="399.3" width="44.5" height="17" fill="none" stroke="#000" stroke-width="2.2" stroke-dasharray="3.5 2"/>
<text x="75.58" y="384.6" font-size="16" style="stroke-width:0.45px" fill="#505050" stroke="#505050" textLength="29.55" lengthAdjust="spacingAndGlyphs">11%</text>
<path d="M80.58 388.05L91.02 388.05L85.8 397.55z" fill="#505050"/>
<text x="165.42" y="366.7" font-size="14" style="stroke-width:0.45px" fill="#8a8a8a" stroke="#8a8a8a" textLength="22.13" lengthAdjust="spacingAndGlyphs">3%</text>
<path d="M151.92 359.95L161.28 359.95L156.6 368.45z" fill="#8a8a8a"/>
<text x="163.08" y="440.3" font-size="16" style="stroke-width:0.45px" fill="#000" stroke="#000" textLength="22.48" lengthAdjust="spacingAndGlyphs">5%</text>
<path d="M157 419.55L158.8 429L166.45 425.85z" fill="#000"/>
<text x="161.73" y="466.5" font-size="14" style="stroke-width:0.45px" fill="#8a8a8a" stroke="#8a8a8a" textLength="30.11" lengthAdjust="spacingAndGlyphs">72%</text>
<path d="M161 455.85L161 465.75L152 460.8z" fill="#8a8a8a"/>
<clipPath id="c2"><rect x="219.3" y="353.5" width="119.5" height="119"/></clipPath>
<g clip-path="url(#c2)">
<ellipse cx="246" cy="436" rx="26" ry="40" fill="#000" opacity="0.44" filter="url(#b4)"/>
<ellipse cx="248" cy="432" rx="15" ry="24" fill="#000" opacity="0.12" filter="url(#b3)"/>
<path d="M221 399L262 399L270 416L221 416z" fill="#000" opacity="0.12" filter="url(#b3)"/>
<ellipse cx="228" cy="440" rx="8" ry="32" fill="#000" opacity="0.08" filter="url(#b3)"/>
<ellipse cx="272" cy="390" rx="44" ry="15" fill="#000" opacity="0.12" filter="url(#b4)"/>
<ellipse cx="300" cy="387" rx="20" ry="14" fill="#000" opacity="0.14" filter="url(#b3)"/>
<ellipse cx="285" cy="408" rx="25" ry="9" fill="#000" opacity="0.07" filter="url(#b3)"/>
<g filter="url(#b0)">
<path d="M225.8 354.9h1.7M275.1 447.2h1.7M268.8 361.3h1.7M315.7 417h1.7M237.2 422.6h1.7M274.9 387.9h1.7M262.9 411.8h1.7M327.2 365.5h1.7M312.1 410.6h1.7M227.5 396.1h1.7M301.2 366.9h1.7M266 394.5h1.7" stroke="#d2d2d2" stroke-width="1.7" fill="none"/>
<path d="M267.5 403.1h1.7M262.8 375.3h1.7M226.5 377.3h1.7M254.8 375.7h1.7M305.1 411.7h1.7M239.8 432.9h1.7M287.9 427.8h1.7M250.1 395.8h1.7M275.1 397h1.7M300.6 374.5h1.7" stroke="#c8c8c8" stroke-width="1.7" fill="none"/>
<path d="M255.1 390.1h1.7M252.9 379.4h1.7M297.9 394.4h1.7M239.3 401.5h1.7M260.1 379.1h1.7M263.1 391.4h1.7M249.3 381.6h1.7M270.3 394.6h1.7M254.3 386h1.7M256.9 391h1.7M255.6 408.5h1.7M236.3 376.7h1.7M245.5 391.8h1.7M295.4 394.8h1.7M275.6 396.9h1.7M261.2 376.9h1.7M268.5 397.1h1.7M269.3 393.2h1.7M267.4 393.5h1.7M289.6 379h1.7M269.9 381.3h1.7M279.8 381.2h1.7M272.6 403.8h1.7M300.3 388.2h1.7M299.8 378.8h1.7M312.7 384.4h1.7M289.9 390.3h1.7M312.3 389h1.7M299.5 380.5h1.7M309.7 381.3h1.7M289.7 415.1h1.7M295.3 416h1.7M290.9 404.3h1.7M306.5 411h1.7M303.7 399.4h1.7M294.3 412.9h1.7M272.8 411.3h1.7M261.3 412.9h1.7M276 410.6h1.7" stroke="#c4c4c4" stroke-width="1.7" fill="none"/>
<path d="M308.9 384h1.7M304 387.4h1.7M327.6 364.8h1.7M238.5 394.3h1.7M258.6 436h1.7M246.4 442.5h1.7M274.2 458.4h1.7M267.2 417h1.7M225.7 457.2h1.7M246 387h1.7M266 429.5h1.7" stroke="#bdbdbd" stroke-width="1.7" fill="none"/>
<path d="M260.5 395.5h1.7M245.4 395.6h1.7M264.8 385.9h1.7M285.1 402.2h1.7M288.8 399.1h1.7M268.3 388.3h1.7M250.4 397.3h1.7M306.8 393.1h1.7M286.7 400h1.7M286.4 377.7h1.7M305.3 383.3h1.7M279.9 392.3h1.7M268.6 390.1h1.7M278.8 385.4h1.7M286 388.3h1.7M265.4 395.8h1.7M261.6 387.5h1.7M260.6 404.4h1.7M270.2 402.1h1.7M270.4 382.8h1.7M261.4 381.9h1.7M295.6 375.4h1.7M256 384h1.7M295 397.7h1.7M280.4 374.7h1.7M254.9 384.3h1.7M286.8 388.2h1.7M281.3 391.2h1.7M249.2 379.8h1.7M256.6 398.4h1.7M291.3 377.1h1.7M309.1 394h1.7M293.1 374.7h1.7M313.1 391h1.7M292.9 386.2h1.7M283.8 386.8h1.7M298.3 396.9h1.7M299.7 387.5h1.7M296.2 359.5h1.7M290.3 390.7h1.7M293.1 376.8h1.7M308.3 375.6h1.7M295.8 380.3h1.7M264.1 407.1h1.7M278.1 399.3h1.7M290.9 404.6h1.7M267.6 397.7h1.7" stroke="#b8b8b8" stroke-width="1.7" fill="none"/>
<path d="M243.6 380.8h1.7M279.7 391.6h1.7M280.4 394.6h1.7M312 394.5h1.7M229 385.4h1.7M229.2 392.3h1.7M306.9 389.1h1.7M270.9 397.9h1.7M307.5 393.3h1.7M301 392.4h1.7M326.8 381.9h1.7M301.8 377.6h1.7M299.1 379.5h1.7M306.1 412.5h1.7M305.2 384.4h1.7M299.4 405.1h1.7M283.9 409.3h1.7M294.6 403.7h1.7M294 405.7h1.7M272 407.8h1.7" stroke="#b5b5b5" stroke-width="1.7" fill="none"/>
<path d="M280.9 384.1h1.7M271.1 384.7h1.7M310.3 383h1.7M268 384.6h1.7M260.8 378.3h1.7M258.3 385.8h1.7M282 401.8h1.7M327 389.2h1.7M270.7 389h1.7M260.9 400.1h1.7M277.9 391.4h1.7M264.6 385.9h1.7M247.1 384h1.7M281.4 397.8h1.7M312.7 390.9h1.7M289.9 382.6h1.7M320.5 373.3h1.7M284.4 409h1.7M305.2 387.4h1.7M290.5 402.8h1.7M291 371.8h1.7M281 388.5h1.7M298.4 385.9h1.7M303.3 385.8h1.7M316 386.8h1.7M287 407h1.7M282.3 414h1.7M283 400.1h1.7M268.5 411.3h1.7M283.2 409.2h1.7M300.5 408h1.7" stroke="#aaaaaa" stroke-width="1.7" fill="none"/>
<path d="M233.4 423.7h1.7M237.8 441.3h1.7M235.5 445.7h1.7M272.4 450.6h1.7M252.7 422.1h1.7M256.1 424.8h1.7M259.5 461.9h1.7M240.2 442h1.7M259 444.5h1.7M264.9 410h1.7M239.8 401.4h1.7M240.1 415.7h1.7M223.7 430.3h1.7M228 454.4h1.7M247.9 406h1.7M246.9 451h1.7M264.5 427.9h1.7M257.7 423.2h1.7M237.7 456.9h1.7M229.7 433.1h1.7M258 451.4h1.7M229.1 444.9h1.7M251.5 441.2h1.7M221 419.8h1.7M242.8 434.4h1.7M261.4 417.8h1.7M227.7 431h1.7M264.8 454.7h1.7M238 418.3h1.7M259.4 455.9h1.7M239.5 420.8h1.7M243.1 434.1h1.7M260.1 438h1.7M261.6 447.3h1.7M246.6 417.6h1.7M252.5 422.2h1.7M246.3 445.4h1.7M257.1 400h1.7M252.2 440.3h1.7M280.4 443.8h1.7M227.3 426.6h1.7M260 428.3h1.7" stroke="#aaa" stroke-width="1.7" fill="none"/>
<path d="M258.9 382.8h1.7M228.7 386.9h1.7M304.8 385.3h1.7M279.8 394h1.7M254.4 389h1.7M315.2 385.7h1.7M293 376.2h1.7M262.4 390.9h1.7M283.5 385.6h1.7M296.6 386.6h1.7M248.5 387.5h1.7M283.2 390.2h1.7M258.9 389.1h1.7M269.3 389.6h1.7M265.9 387.5h1.7M304.1 380.5h1.7M278.7 399.8h1.7M283.8 374.5h1.7M255.3 393.7h1.7M245.9 374.7h1.7M254.9 391h1.7M245.9 393.1h1.7M255.6 378.3h1.7M278.6 400.5h1.7M234 388.4h1.7M250.9 420.6h1.7M305.5 386.9h1.7M307.9 377.2h1.7M299.5 378.5h1.7M292.7 389.5h1.7M290.8 371.4h1.7M306.7 367.6h1.7M295.6 388.8h1.7M293.5 411h1.7M277.7 405h1.7M267.2 398.2h1.7M275 417.1h1.7M264.6 414.1h1.7M265.6 414.4h1.7" stroke="#a8a8a8" stroke-width="1.7" fill="none"/>
<path d="M278.5 388.8h1.7M233.1 385h1.7M271.8 396.2h1.7M283.4 390.7h1.7M301.8 397h1.7M315.5 395.1h1.7M250.6 398.5h1.7M252.4 387.7h1.7M254.4 392.4h1.7M289.5 388.2h1.7M308.1 393.4h1.7M291.3 402.9h1.7M255.2 403.9h1.7M260.2 399.1h1.7M271.1 396.2h1.7M277.3 409.2h1.7M242.6 404.2h1.7M260.3 409.3h1.7M309.6 397.4h1.7M272.4 406.4h1.7M271.1 394.3h1.7M308.7 397.9h1.7M290.1 387.8h1.7M300.6 373.4h1.7M282.5 407.9h1.7M266.4 387.8h1.7M300.6 379.6h1.7M298.5 390.3h1.7M295.9 379.5h1.7M255 372.6h1.7M288.5 400.8h1.7M300.3 378.6h1.7M257.6 398.2h1.7M304.2 382.2h1.7M264.7 394.8h1.7M256.3 380.6h1.7M307.1 393.2h1.7M290.3 392h1.7M313.2 394.9h1.7M305.6 391.6h1.7M320.9 393.8h1.7M309.9 379.5h1.7M290.2 393.6h1.7M290.5 382.5h1.7M305.3 394.9h1.7M300 376.2h1.7M312.7 392.7h1.7M283.2 388.3h1.7M288.7 389.5h1.7M307.5 389.1h1.7M301 391.7h1.7M306.6 391.3h1.7M327 382.6h1.7M315.5 376.3h1.7M299.8 387.2h1.7M287.3 388.4h1.7M284.6 398.5h1.7M312.5 374.5h1.7M267.9 407.9h1.7M280.5 411.7h1.7M279 407.2h1.7M278.6 410.3h1.7M275.2 413.6h1.7M307.9 413.8h1.7M271.3 414.4h1.7M305.5 417.7h1.7M286.7 405.3h1.7M280.9 399.3h1.7" stroke="#9a9a9a" stroke-width="1.7" fill="none"/>
<path d="M237.7 444.5h1.7M267.9 441.1h1.7M248.7 427.6h1.7M253.5 432.6h1.7M264.7 462.5h1.7M236.1 465.5h1.7M240.4 439.1h1.7M263.9 426.2h1.7M234.4 443.3h1.7M248.8 409.6h1.7M250.8 449.6h1.7M243.4 460.5h1.7M265.6 451.1h1.7M232.6 414.9h1.7M235.1 414.3h1.7M242.2 420.4h1.7M244.7 421.9h1.7M238.3 434.8h1.7M250.3 424.7h1.7M241.1 421.9h1.7M256.7 466.9h1.7M249.9 442.7h1.7M262.8 458.3h1.7M234.8 442.4h1.7M258.1 423.6h1.7M245.3 428.7h1.7M243.4 434.1h1.7M243.7 463.8h1.7M269.8 397.5h1.7M235 431.6h1.7M227.9 426.6h1.7M242 411.7h1.7M235.4 418h1.7M267.5 441.5h1.7M249 459.2h1.7M274 465.1h1.7M240.7 400.5h1.7M253.6 400.2h1.7M238.3 453h1.7M252.6 432.1h1.7M271.6 429.8h1.7M247.3 432.9h1.7M238.5 431h1.7M263.9 452.1h1.7M260.9 430.8h1.7M244.3 411.1h1.7M245.3 428.2h1.7" stroke="#999" stroke-width="1.7" fill="none"/>
<path d="M267.5 407.1h1.7M261.8 396.9h1.7M252.7 394.5h1.7M246.2 406.7h1.7M279.3 384.6h1.7M269 395.7h1.7M271.8 373.5h1.7M235.4 382.4h1.7M300.1 384.7h1.7M291 372.8h1.7M274.5 387.9h1.7M254.8 388.5h1.7M302.1 385.4h1.7M318 397.6h1.7M291.4 390h1.7M291.8 385.9h1.7M311.6 390.4h1.7M296.5 396.8h1.7M287.4 392.3h1.7M300.3 384.1h1.7M284.1 393.5h1.7M301.6 386.4h1.7M296.7 374.3h1.7M288.6 375.4h1.7M317.4 411.8h1.7M285.5 401.1h1.7" stroke="#8a8a8a" stroke-width="1.7" fill="none"/>
<path d="M264.3 421.3h1.7M271.8 442.4h1.7M264.5 428.8h1.7M249.7 432.2h1.7M275.8 437.8h1.7M241.7 437.9h1.7M231.5 418h1.7M233.3 438.6h1.7M228.3 419.7h1.7M243.2 426h1.7M247.2 400.1h1.7M237.9 422h1.7M252.7 457.4h1.7M238.9 434.4h1.7M232.2 466.7h1.7M236 457.9h1.7M265.1 441h1.7M261.4 461.9h1.7M254.6 403h1.7M245.4 433.6h1.7M249.3 426.7h1.7M269 398h1.7M224.2 444.9h1.7M270.8 453.2h1.7M249.4 467.7h1.7M246.8 390.1h1.7M238 444.5h1.7M230.7 430.3h1.7M255.1 424.1h1.7M262.1 445.1h1.7M254.6 418.2h1.7M232.4 440h1.7M261 408.4h1.7M269.8 458.5h1.7M249.6 452.2h1.7M259.4 451.4h1.7M237.1 443.1h1.7M235.7 411.3h1.7M259.5 446.9h1.7M256.9 433.8h1.7M245.7 456.6h1.7" stroke="#858585" stroke-width="1.7" fill="none"/>
<path d="M228.3 450.4h1.7M258.5 447.7h1.7M269.8 432.4h1.7M240.9 465.4h1.7M242.2 435.8h1.7M255.9 430.6h1.7M262.3 404.5h1.7M229.3 419.1h1.7M220.4 453.5h1.7M234.1 416.3h1.7M244.3 468.4h1.7M253.1 434.5h1.7M245.5 438.1h1.7M241.8 430h1.7M235 416.2h1.7M239.8 443.3h1.7M234.4 469.6h1.7M240.5 400.3h1.7M231.4 436.3h1.7M259.7 434.5h1.7M220.9 432h1.7M241.9 436.9h1.7M250.1 448.1h1.7M252.8 438.8h1.7M230.4 432.1h1.7M231.1 449.8h1.7M255.7 421.4h1.7M252.7 426.3h1.7M255.2 442.1h1.7M253.3 457h1.7M257.1 417.3h1.7M243.2 422.8h1.7M267.2 447.1h1.7M231.5 413.8h1.7M261.8 467.5h1.7M261 447.2h1.7M235.7 425.8h1.7M256.2 451.6h1.7M239.7 424.9h1.7M231.5 424.4h1.7M267.7 426.9h1.7M242.6 414.2h1.7M269.3 439.9h1.7M234.6 460.4h1.7" stroke="#777" stroke-width="1.7" fill="none"/>
<path d="M221.8 414.5h1.7M238.4 437h1.7M249 444.7h1.7M243.5 422.8h1.7M250.9 441.5h1.7M261.5 436.4h1.7M221.1 448.3h1.7M271.9 436.2h1.7M243.6 442.8h1.7M248.4 466.9h1.7M242.6 448.5h1.7M263 458h1.7M232.8 404.9h1.7M247.7 449.4h1.7M234.3 416.9h1.7M254.5 452.5h1.7M237.2 431.3h1.7M227 456.9h1.7M237.5 470.9h1.7M237.9 440.2h1.7M240 428.7h1.7M242 412.1h1.7M246.5 434.2h1.7M232.1 448.4h1.7M248 421.1h1.7M249.4 429.3h1.7M254.3 430.4h1.7M256.1 419.1h1.7M244.4 455.7h1.7M222.5 399.8h1.7M227.3 430.9h1.7M224.9 419h1.7M268.2 434.5h1.7M250.5 427.5h1.7M247.4 435.9h1.7" stroke="#707070" stroke-width="1.7" fill="none"/>
<path d="M249.4 415.4h1.7M252.4 410.4h1.7M269.7 455.9h1.7M235.1 466.8h1.7M233.9 463.1h1.7M239.3 423h1.7M252.4 459.8h1.7M223 459.2h1.7M252.7 458.1h1.7M244.3 414.6h1.7M258.3 460.4h1.7M242 439.2h1.7M237.6 449.9h1.7M253.6 390.4h1.7M240 416.1h1.7M241.3 458.5h1.7M251.2 415.4h1.7M220.4 416.1h1.7M230.3 448.8h1.7M247.6 432.1h1.7M245.7 442.7h1.7M238.9 439.4h1.7M233.5 410.3h1.7M248.6 450.3h1.7M229.1 456.6h1.7M255.7 418.8h1.7M255.5 436.2h1.7M255.9 441.8h1.7M238.1 438.1h1.7M241.7 448.2h1.7M233.4 415.1h1.7M238 454.7h1.7M260.9 435.8h1.7M259.1 453.2h1.7M256.6 449.8h1.7" stroke="#6a6a6a" stroke-width="1.7" fill="none"/>
</g>
<path d="M270.5 424.9h1.5M226 395h1.5M324.3 424.8h1.5M309.4 399.8h1.5M301.9 461.4h1.5M315.9 384h1.5M272.4 357.2h1.5M294.1 363.1h1.5M272.5 459.1h1.5M316.9 405.2h1.5M269.2 455.4h1.5M329.8 435.9h1.5M328.5 397.1h1.5" stroke="#d2d2d2" stroke-width="1.5" fill="none"/>
<path d="M316.6 401.7h1.5M253.6 458.3h1.5M261.7 413.4h1.5M247.6 404.6h1.5M265.6 420.1h1.5M323.9 361.3h1.5M258 435.6h1.5M304.4 462.1h1.5M251.7 398.9h1.5M322.9 397.2h1.5M284.1 385.6h1.5" stroke="#c8c8c8" stroke-width="1.5" fill="none"/>
<path d="M282.7 377.6h1.5M236.6 386h1.5M277.5 403.3h1.5M320.7 399.4h1.5M287.3 385.1h1.5M288.7 384.9h1.5M247.4 388.4h1.5M270.5 399.5h1.5M272.8 380.3h1.5M239.1 405.7h1.5M250.2 399.3h1.5M277.1 383.7h1.5M249.3 395.2h1.5M257.8 380.7h1.5M326.8 391.9h1.5M259.3 368.4h1.5M262.7 403.2h1.5M320.1 376.9h1.5M262.1 381.6h1.5M281.3 385.7h1.5M275.5 395h1.5M287.6 381.2h1.5M258.5 389.6h1.5M295.4 396.1h1.5M258.8 404h1.5M228.6 393.8h1.5M265.4 385.2h1.5M294.2 382.8h1.5M243 398.1h1.5M260.5 403.5h1.5M262.5 380.6h1.5M240.1 383.4h1.5M246 390.1h1.5M286.8 393.3h1.5M283.4 384.8h1.5M278.7 378.3h1.5M268.3 387.1h1.5M307.9 379.7h1.5M274.9 400.3h1.5M267.3 385.8h1.5M292.5 387.7h1.5M265.7 370.9h1.5M298.7 387.5h1.5M306.6 374.2h1.5M304 395.2h1.5M307.3 387.7h1.5M303 380.4h1.5M301.2 372.1h1.5M296.9 375.3h1.5M325 391.5h1.5M293.4 379.4h1.5M288.9 397.4h1.5M291.2 398.5h1.5M287.6 391.3h1.5M280.9 371.9h1.5M301.3 379.5h1.5M307.6 382.2h1.5M288.6 398.1h1.5M265.2 404.6h1.5M288.5 409.5h1.5M286.2 401.1h1.5" stroke="#c4c4c4" stroke-width="1.5" fill="none"/>
<path d="M246.2 355h1.5M308.7 413.5h1.5M287.4 381.1h1.5M285.5 418.4h1.5M268.2 428h1.5M324.9 391.5h1.5M287.2 462.2h1.5M232.4 429.6h1.5M251.5 439.6h1.5M335.6 366.2h1.5M224.1 430.6h1.5M250.6 416.6h1.5M260.6 419.3h1.5" stroke="#bdbdbd" stroke-width="1.5" fill="none"/>
<path d="M264.7 385.6h1.5M262 380.3h1.5M267.6 400.8h1.5M309.8 390.9h1.5M282.5 402.1h1.5M289.7 375.7h1.5M265.3 385h1.5M279.3 391.2h1.5M261.6 381.4h1.5M276.6 390.2h1.5M249.2 383.4h1.5M279.6 397.6h1.5M237 388.7h1.5M258.4 393.1h1.5M263.3 387.4h1.5M256.6 393.7h1.5M256.5 384h1.5M252.2 391.5h1.5M308.1 399.2h1.5M285.4 395.8h1.5M282.7 395.1h1.5M294.9 392.8h1.5M302.5 404.2h1.5M297.1 400.9h1.5M288.6 390.7h1.5M279.3 392.9h1.5M266.8 394.6h1.5M286.6 390.3h1.5M259.2 382.3h1.5M288.3 387.5h1.5M294 386.4h1.5M300.3 378.3h1.5M300.7 390.1h1.5M295.3 398.6h1.5M302.9 385.1h1.5M313.8 396.6h1.5M292.5 396.5h1.5M283.1 400.5h1.5M298.5 373.3h1.5M293.1 381.9h1.5M306.2 380.8h1.5M316.5 384.6h1.5M295.6 387.3h1.5M288.6 388.4h1.5M293.2 391.9h1.5M288 387h1.5M279.1 366.6h1.5M299.8 387.7h1.5M290.5 408.7h1.5M292.2 406.9h1.5M285.7 410.1h1.5M285.8 405.5h1.5M310.3 415.8h1.5M276.3 410.5h1.5M301.3 417.4h1.5M275.5 404.5h1.5M279 408.7h1.5M292.2 416h1.5M275.1 399.8h1.5M268.3 403.8h1.5" stroke="#b8b8b8" stroke-width="1.5" fill="none"/>
<path d="M311.4 398.6h1.5M265.7 403.3h1.5M237.2 406.5h1.5M304 398.3h1.5M267.9 393.3h1.5M258.2 388h1.5M296.3 401.4h1.5M297.6 399h1.5M238 391.5h1.5M285.4 403h1.5M313 386.2h1.5M229.6 389.3h1.5M286.5 396.1h1.5M285.8 372.2h1.5M305.8 388.9h1.5M292.7 394.5h1.5M289 387.5h1.5M298.8 376.9h1.5M302.1 392.7h1.5M290 381.8h1.5M294.5 387.4h1.5M277.7 375.2h1.5M291.2 393.6h1.5M281.4 383.5h1.5M285 372.7h1.5M285.5 381.9h1.5M299 393.3h1.5M288.7 394h1.5M295 391h1.5M305.2 386.6h1.5M307.1 393.1h1.5M289.4 395.1h1.5M271.9 404.3h1.5M302.9 416.8h1.5M282.4 405.5h1.5M296.4 409.6h1.5M312.9 409.4h1.5M298.1 409.1h1.5M304.7 418.7h1.5M286.1 408.7h1.5M274.8 401.1h1.5M278.7 402.3h1.5M285.6 404h1.5" stroke="#b5b5b5" stroke-width="1.5" fill="none"/>
<path d="M254.5 394.6h1.5M285.6 388.3h1.5M271.7 406.6h1.5M221.1 371.8h1.5M258.6 386.9h1.5M235.1 401.6h1.5M288.9 376.3h1.5M275.5 390.3h1.5M286.6 383.3h1.5M292.8 389.2h1.5M274.4 404h1.5M302.7 391.3h1.5M239.5 390.4h1.5M279.4 383.8h1.5M277.3 382.4h1.5M288.7 388.9h1.5M276.3 394.1h1.5M272.1 400.7h1.5M243 388.9h1.5M269.7 391.8h1.5M315.8 388h1.5M298.2 400.6h1.5M293 387.6h1.5M294.1 397.5h1.5M299.8 372.8h1.5M300.3 387.9h1.5M298.3 380.3h1.5M312.6 388.1h1.5M282.7 385h1.5M291.7 393.9h1.5M298 388h1.5M304.9 379.5h1.5M294 398.5h1.5M298.6 374.4h1.5M298.7 381.7h1.5M302.4 378.2h1.5M284.5 414h1.5M280.5 416.2h1.5M258.5 411.5h1.5M292.3 403.9h1.5M271.9 404.7h1.5M301 405h1.5M288.8 412.1h1.5" stroke="#aaaaaa" stroke-width="1.5" fill="none"/>
<path d="M233.8 440.3h1.5M247.8 429.6h1.5M241.2 438.5h1.5M236.3 420.8h1.5M230.1 437.5h1.5M237.4 448h1.5M231.3 445.8h1.5M223.2 442.5h1.5M255 427.9h1.5M254.5 464.7h1.5M239 443.3h1.5M256.2 449.5h1.5M256.1 421h1.5M290.6 444.3h1.5M243.2 405.3h1.5M232.1 457.3h1.5M234.7 419h1.5M258.2 434.9h1.5M245.6 430.5h1.5M244.5 450.5h1.5M228.2 436.1h1.5M238.4 467.9h1.5M259.7 441.5h1.5M238.4 425.1h1.5M242.8 443h1.5M236.8 454.7h1.5M251.1 458.4h1.5M264.7 425.4h1.5M245 444.3h1.5M236.8 460.7h1.5M252.4 448.4h1.5M260.1 431.8h1.5M258.4 409.3h1.5M244.3 419.5h1.5M231.9 419.3h1.5M256.6 427h1.5M235.6 406.6h1.5M236.7 408.3h1.5M227.7 424.2h1.5M262.9 449.3h1.5M239 421h1.5M252.7 452.6h1.5M252.7 455.5h1.5M245.9 420h1.5M226.9 443.8h1.5M257.2 440.6h1.5M238.9 433.4h1.5M263.7 421.6h1.5M257.4 430.3h1.5M271 419.5h1.5M246.3 387.7h1.5M257.3 438.6h1.5M257.4 428.8h1.5M233 418.2h1.5M248.4 428.4h1.5M253.7 413.6h1.5M263.8 466.3h1.5M230.1 435.5h1.5M252.2 420.5h1.5M237.1 388.6h1.5M225 421.3h1.5M249.7 412.2h1.5M239.8 413.6h1.5M250.4 449h1.5M250.3 446h1.5M233.4 431h1.5M238.7 437.1h1.5M222.4 418.7h1.5" stroke="#aaa" stroke-width="1.5" fill="none"/>
<path d="M319.6 389.5h1.5M282.9 384.1h1.5M288.3 395.2h1.5M275.5 366.1h1.5M282.7 378h1.5M296 377.7h1.5M254.4 418.1h1.5M303.8 393.4h1.5M242.9 397.5h1.5M239.5 384.9h1.5M258.7 382.1h1.5M277 394.6h1.5M291.6 381.4h1.5M256.4 386.6h1.5M288.3 401.4h1.5M229 391.3h1.5M243.6 397.3h1.5M228.4 385.4h1.5M274.9 387h1.5M238.5 384.5h1.5M273.6 382.7h1.5M255.6 406.3h1.5M241.2 389.4h1.5M236.1 392.2h1.5M292.1 397.1h1.5M300.8 375.5h1.5M291.1 386.3h1.5M284.3 403.4h1.5M264.8 382.3h1.5M268.3 390.2h1.5M278.3 393.8h1.5M246.8 392.7h1.5M269.1 404h1.5M289.6 399.6h1.5M292.9 401h1.5M312 393.9h1.5M320.9 394.1h1.5M305.1 397.1h1.5M284.3 396.2h1.5M302.1 387.8h1.5M303.8 390.6h1.5M290.3 385.5h1.5M312.2 387.4h1.5M303.9 378.5h1.5M316.1 382.1h1.5M292.4 393.8h1.5M272.9 392.7h1.5M273.4 404.9h1.5M265.7 413.6h1.5M316.3 399.3h1.5M272.3 408.4h1.5" stroke="#a8a8a8" stroke-width="1.5" fill="none"/>
<path d="M228.9 384.7h1.5M244.2 408h1.5M319.2 376.1h1.5M295 394.8h1.5M296.1 375.2h1.5M267.9 393.2h1.5M241.9 387.4h1.5M289 388.1h1.5M265.1 391.3h1.5M290.5 398.5h1.5M264.8 399.2h1.5M265.8 399.7h1.5M281.1 392.3h1.5M273.6 396.8h1.5M247.1 381.7h1.5M253.8 397.9h1.5M295 400h1.5M311.1 384.1h1.5M315.9 387.2h1.5M250.9 393.7h1.5M285 384.7h1.5M255.4 380.7h1.5M245.5 390.9h1.5M278.1 384.4h1.5M279.4 397.1h1.5M261.3 390.1h1.5M264.8 392h1.5M290.9 387.4h1.5M277.1 386.7h1.5M251.2 400.2h1.5M274.1 393.2h1.5M288.8 391.9h1.5M240.7 388.4h1.5M277.8 389.3h1.5M266.3 393h1.5M270.2 379.4h1.5M295.2 407.9h1.5M238.8 385.9h1.5M243.6 389.3h1.5M273.6 390.6h1.5M303.7 386.4h1.5M266.8 384.7h1.5M233 379.9h1.5M239.5 392.3h1.5M310 394.4h1.5M259.6 406h1.5M303.5 382.3h1.5M257 389.4h1.5M260.5 390.7h1.5M306.5 408.9h1.5M285.1 373.7h1.5M283.6 408.3h1.5M302.8 383.8h1.5M288.1 402.2h1.5M301.1 384.7h1.5M305.4 391h1.5M303 386.2h1.5M313.4 382.4h1.5M313 383.7h1.5M299.6 376.6h1.5M299.3 393h1.5M303.7 371.2h1.5M314 400.1h1.5M299.2 386.9h1.5M292.5 395.8h1.5M315.7 404.7h1.5M307.4 388h1.5M304.3 382.5h1.5M299.4 386.3h1.5M292.3 389.1h1.5M309.3 394.8h1.5M312.6 380.1h1.5M311.2 386h1.5M294.7 373.1h1.5M308.6 386.7h1.5M278.2 408.2h1.5M298.4 410.8h1.5M299.4 413h1.5M311.3 406.6h1.5M269.8 406.1h1.5M272.4 407.4h1.5M288.8 400.2h1.5M284.3 412.6h1.5" stroke="#9a9a9a" stroke-width="1.5" fill="none"/>
<path d="M239.6 420.5h1.5M243.8 457h1.5M228.7 441.3h1.5M241.6 442.5h1.5M237.3 416.3h1.5M256.8 440.6h1.5M242.1 426.2h1.5M247 421.1h1.5M252.9 429.6h1.5M261.5 464.1h1.5M242.2 434.5h1.5M266.7 464.7h1.5M252.6 450.1h1.5M259.3 383.8h1.5M253.6 461.2h1.5M240.6 444.3h1.5M264 421.5h1.5M235.7 417.5h1.5M246.5 438.1h1.5M234.5 436.2h1.5M252.6 442.3h1.5M273.6 421.6h1.5M246.4 428.7h1.5M245.2 438.5h1.5M237.1 421.7h1.5M242.5 458.7h1.5M229.3 450.8h1.5M249.1 421.1h1.5M254.5 450.5h1.5M235.3 427h1.5M251.6 440.4h1.5M235.5 439.7h1.5M235.3 433.2h1.5M240.7 413.5h1.5M269.4 466.4h1.5M263.1 441.9h1.5M233.5 424.8h1.5M232.9 453.7h1.5M234.7 434.3h1.5M262.9 450.9h1.5M238 435.5h1.5M243.6 446.2h1.5M244.4 427.1h1.5M244.2 442.2h1.5M260.1 429.8h1.5M227.7 409.7h1.5M240.2 437.7h1.5M231.3 424.1h1.5M231.8 418.5h1.5M237.4 459.2h1.5M272.2 441.6h1.5M257.8 434.2h1.5M250.3 436.6h1.5M225.9 429.4h1.5M260.4 450.7h1.5M222.7 427.5h1.5M259.2 445.5h1.5M238.7 410.8h1.5M255.2 436.6h1.5M238.8 452.8h1.5M245 453.7h1.5M252.8 458.9h1.5M252.8 461.2h1.5M241.1 424.9h1.5M250.5 455.3h1.5" stroke="#999" stroke-width="1.5" fill="none"/>
<path d="M290.6 393.6h1.5M261.5 379.6h1.5M307.6 385.9h1.5M291.6 387.4h1.5M249.5 393.7h1.5M233 389.3h1.5M282.9 388h1.5M277 388.2h1.5M251.3 401.7h1.5M260.9 400.2h1.5M285.9 383.4h1.5M220.9 393.7h1.5M251 392.6h1.5M281 377.3h1.5M257.1 392.3h1.5M261.2 386.4h1.5M221 396.8h1.5M240.3 386.2h1.5M270.2 378.3h1.5M235.4 390.7h1.5M256.7 370.3h1.5M285.1 384.7h1.5M309.7 386.1h1.5M322.2 382.1h1.5M300.3 379.3h1.5M323.6 398.6h1.5M295.4 378.4h1.5M308.6 384.2h1.5M295 376.9h1.5M307.4 384.4h1.5M290.5 372.7h1.5M289.5 396.4h1.5M291.3 399.4h1.5M309.3 385.6h1.5M321.6 377.7h1.5M310.1 380.6h1.5M289.5 381.3h1.5M289.7 414h1.5M266.1 411.1h1.5" stroke="#8a8a8a" stroke-width="1.5" fill="none"/>
<path d="M242.9 433.7h1.5M245.1 405.9h1.5M229.3 436h1.5M223 460.7h1.5M256.9 432.1h1.5M247.3 429.7h1.5M236.6 405.9h1.5M240 443h1.5M239.4 416.5h1.5M251.9 412.6h1.5M232.4 444.4h1.5M249.3 419.7h1.5M249.6 440.9h1.5M232.5 443.3h1.5M232.3 436.7h1.5M240 441.6h1.5M247.8 453h1.5M256.8 441.8h1.5M254.4 442.6h1.5M250.3 448.1h1.5M241.1 444.5h1.5M249.9 441.7h1.5M246.4 425.3h1.5M249.1 470.5h1.5M244.9 466.6h1.5M266.5 430.5h1.5M249.7 469.6h1.5M242 445.7h1.5M237.9 421.2h1.5M233.1 437.6h1.5M239.6 415.7h1.5M262.8 426.9h1.5M248.6 441.3h1.5M232.2 397.1h1.5M252.7 392.7h1.5M246.7 425.5h1.5M240.8 426.2h1.5M221.6 390.5h1.5M241.1 450.3h1.5M238.3 426.7h1.5M254.1 440.7h1.5M254.9 449.1h1.5M228 399h1.5M228.8 427.1h1.5M225.8 464.7h1.5M260.4 409.7h1.5M251.1 423.6h1.5M252.5 391.6h1.5M261.5 437.3h1.5M252.5 418.2h1.5M230 444.5h1.5M267 418.9h1.5M247.2 409.9h1.5M240.9 400h1.5M237.1 444.4h1.5M237.8 457.6h1.5M241.4 405.1h1.5M235.1 450.9h1.5M240.7 436.3h1.5M222.5 410.9h1.5M252.4 456.2h1.5M245.7 417.2h1.5M228.7 444h1.5M258.1 418.9h1.5M233.8 387h1.5M227 430.8h1.5M255.2 434.4h1.5M266.1 465.5h1.5M247.6 452.8h1.5" stroke="#858585" stroke-width="1.5" fill="none"/>
<path d="M247.1 442.8h1.5M258.8 407.6h1.5M222.7 461.3h1.5M261.4 442.9h1.5M245.4 469h1.5M243.8 413.3h1.5M252.1 408h1.5M240.7 405.9h1.5M251.5 461.4h1.5M245 427.7h1.5M243.6 436h1.5M233.6 444.1h1.5M239.2 425h1.5M239.5 454.9h1.5M244.4 458.3h1.5M258.5 464.6h1.5M231.9 454.5h1.5M227.2 408.8h1.5M253.7 429.4h1.5M243.1 454.9h1.5M257 427.2h1.5M226.2 391.3h1.5M254.5 421.2h1.5M264.9 446.5h1.5M237.7 447.9h1.5M248 422.7h1.5M246.4 432h1.5M228.6 410.3h1.5M237 439.3h1.5M262 434h1.5M223.2 416.3h1.5M247.1 450.3h1.5M254.3 439.7h1.5M227 454.2h1.5M254.8 407.5h1.5M261.8 450.8h1.5M254.2 417.8h1.5M270.3 447.2h1.5M288.2 398.6h1.5M247.3 420.4h1.5M256.9 404.6h1.5M252.8 422.1h1.5M269.2 434.1h1.5M235 453.7h1.5M241.5 449.2h1.5M252.1 437.1h1.5M246.1 466.2h1.5M256.1 436.1h1.5M239 459.4h1.5M263.7 397.7h1.5M269.1 388.4h1.5M236.9 445.5h1.5M231.1 432h1.5M246.8 445.1h1.5M239.7 417.6h1.5M259.1 433.2h1.5M273.5 427.7h1.5M272.6 408.6h1.5M238.3 444.6h1.5M225 461h1.5M220.5 435.9h1.5M251.9 425h1.5M229.2 406.2h1.5M252.6 415.1h1.5M255.8 454.9h1.5M252.1 413.1h1.5" stroke="#777" stroke-width="1.5" fill="none"/>
<path d="M229.9 420.8h1.5M249.1 443.4h1.5M251.1 464.7h1.5M254.5 443.5h1.5M234.8 423.1h1.5M239.7 437.8h1.5M233.2 416.3h1.5M257.8 407.8h1.5M238.4 381.4h1.5M234.5 453.8h1.5M223.1 467.7h1.5M265.3 408.9h1.5M230.7 445.2h1.5M262.5 403h1.5M236.6 413.9h1.5M257.3 424h1.5M241.7 453.9h1.5M231.6 434.9h1.5M272.5 459.6h1.5M233 436.1h1.5M239.3 414.8h1.5M248 460h1.5M230.2 437.2h1.5M254.3 465.8h1.5M259 448.5h1.5M256.3 440.7h1.5M263.9 437.2h1.5M249.1 445h1.5M254.4 428h1.5M250.7 467.4h1.5M235.4 359.6h1.5M242 448.2h1.5M244.7 423.8h1.5M271.5 424.4h1.5M247 427.7h1.5M258.7 455.6h1.5M229.7 427.9h1.5M234.9 412.1h1.5M240.3 427h1.5M241 441.3h1.5M247.6 455.1h1.5M246.7 448.5h1.5M252.8 421.6h1.5M240.2 431h1.5M268.3 421.8h1.5M244.6 444.7h1.5M246.4 417.6h1.5M240.7 425.4h1.5M260.2 467.7h1.5M244.9 434.1h1.5M246.4 441.8h1.5M239.4 461.1h1.5M257.1 450.4h1.5M277.1 427.1h1.5" stroke="#707070" stroke-width="1.5" fill="none"/>
<path d="M231.3 432.7h1.5M250.7 452.7h1.5M270.9 447h1.5M273.8 444h1.5M245.3 412.3h1.5M248.8 440.9h1.5M249.8 436.3h1.5M257 441.5h1.5M248.3 408.6h1.5M224 444.4h1.5M252.9 428.4h1.5M245.1 432.2h1.5M252.4 426.4h1.5M233.6 441.4h1.5M244.2 445.6h1.5M258.2 431.9h1.5M243.5 428h1.5M248 389.2h1.5M229.7 436.1h1.5M252.3 412.3h1.5M240.7 416.2h1.5M235.9 393.5h1.5M225.7 420.8h1.5M257.3 438.4h1.5M254.7 428.2h1.5M246.2 449.2h1.5M259.7 446.9h1.5M234.9 431.7h1.5M264.7 447.6h1.5M252.6 424.6h1.5M241.9 442.9h1.5M256 416.1h1.5M259.6 414.6h1.5M240.9 427.8h1.5M242.1 437.1h1.5M240.5 462.2h1.5M239.1 396.9h1.5M238.8 416.9h1.5M258.7 399.7h1.5M252.5 444.6h1.5M232.4 448.8h1.5M247.8 433.2h1.5M250.9 420.5h1.5M269.1 391.1h1.5M253.3 451.8h1.5M252.9 414.2h1.5M239.9 429.8h1.5M251.9 426.2h1.5M228.9 437.8h1.5M249.5 411.1h1.5M240.3 403.9h1.5M229.1 416.6h1.5M229.6 461.7h1.5M257.9 416.9h1.5M240.8 418.8h1.5M276.2 447.4h1.5M260.2 440.6h1.5M266.9 430.2h1.5M248.9 456.8h1.5M246.8 454.2h1.5M257.6 425.9h1.5M261.1 463.6h1.5M239.5 409h1.5M242.7 417h1.5M235.8 432.9h1.5M244.8 401h1.5M252.6 415.5h1.5M262.9 432.8h1.5M248.9 430.6h1.5M253.3 464.3h1.5M228.8 419.4h1.5M249.2 435.5h1.5M253.1 452.3h1.5M225.4 415.1h1.5M247.2 457.7h1.5M252.1 447.3h1.5M248.7 430.3h1.5M244.9 433.1h1.5M241.5 441.8h1.5M249.7 437.1h1.5M235 459.7h1.5M262.6 419.3h1.5M254.2 408h1.5M231.8 404.5h1.5" stroke="#6a6a6a" stroke-width="1.5" fill="none"/>
</g>
<rect x="219.3" y="353.5" width="119.5" height="119" fill="none" stroke="#9a9a9a" stroke-width="1.3"/>
<path d="M219.3 469.5h-4M219.3 463.4h-2.5M219.3 457.3h-2.5M219.3 451.2h-2.5M219.3 445.1h-4M219.3 439h-2.5M219.3 432.9h-2.5M219.3 426.8h-2.5M219.3 420.7h-4M219.3 414.6h-2.5M219.3 408.5h-2.5M219.3 402.4h-2.5M219.3 396.3h-4M219.3 390.2h-2.5M219.3 384.1h-2.5M219.3 378h-2.5M219.3 371.9h-4M219.3 365.8h-2.5M219.3 359.7h-2.5M222.3 472.5v4M228.4 472.5v2.5M234.5 472.5v2.5M240.6 472.5v2.5M246.7 472.5v4M252.8 472.5v2.5M258.9 472.5v2.5M265 472.5v2.5M271.1 472.5v4M277.2 472.5v2.5M283.3 472.5v2.5M289.4 472.5v2.5M295.5 472.5v4M301.6 472.5v2.5M307.7 472.5v2.5M313.8 472.5v2.5M319.9 472.5v4M326 472.5v2.5M332.1 472.5v2.5" stroke="#b0b0b0" stroke-width="0.9" fill="none"/>
<rect x="285.5" y="370.2" width="32.5" height="29.1" fill="none" stroke="#777" stroke-width="1.4" stroke-dasharray="3 2"/>
<rect x="221.5" y="399.3" width="42.1" height="17" fill="none" stroke="#555" stroke-width="1.3" stroke-dasharray="3 2"/>
<rect x="221.5" y="416.3" width="74.9" height="54.9" fill="none" stroke="#666" stroke-width="1.3" stroke-dasharray="3 2"/>
<rect x="263.6" y="399.3" width="44.2" height="17" fill="none" stroke="#000" stroke-width="2.2" stroke-dasharray="3.5 2"/>
<text x="219.79" y="385.9" font-size="16" style="stroke-width:0.45px" fill="#505050" stroke="#505050" textLength="31.67" lengthAdjust="spacingAndGlyphs">13%</text>
<path d="M228.78 389.25L239.22 389.25L234 398.75z" fill="#505050"/>
<text x="311.91" y="366.7" font-size="14" style="stroke-width:0.45px" fill="#8a8a8a" stroke="#8a8a8a" textLength="22.65" lengthAdjust="spacingAndGlyphs">2%</text>
<path d="M297.72 359.95L307.07 359.95L302.4 368.45z" fill="#8a8a8a"/>
<text x="307.11" y="440.3" font-size="16" style="stroke-width:0.45px" fill="#000" stroke="#000" textLength="24.49" lengthAdjust="spacingAndGlyphs">4%</text>
<path d="M302 419.55L303.8 429L311.45 425.85z" fill="#000"/>
<text x="305.38" y="466.5" font-size="14" style="stroke-width:0.45px" fill="#8a8a8a" stroke="#8a8a8a" textLength="32.19" lengthAdjust="spacingAndGlyphs">67%</text>
<path d="M305.5 455.85L305.5 465.75L296.5 460.8z" fill="#8a8a8a"/>
<clipPath id="c3"><rect x="363.2" y="353.5" width="119.5" height="119"/></clipPath>
<g clip-path="url(#c3)">
<path d="M362 398L394 398L402 416L397 440L392 474L362 474z" fill="#000" opacity="0.55" filter="url(#b4)"/>
<ellipse cx="372" cy="435" rx="10" ry="38" fill="#000" opacity="0.16" filter="url(#b3)"/>
<ellipse cx="384" cy="390" rx="26" ry="13" fill="#000" opacity="0.24" filter="url(#b3)"/>
<ellipse cx="408" cy="388" rx="38" ry="13" fill="#000" opacity="0.09" filter="url(#b4)"/>
<ellipse cx="435" cy="390" rx="18" ry="11" fill="#000" opacity="0.03" filter="url(#b3)"/>
<ellipse cx="425" cy="408" rx="25" ry="9" fill="#000" opacity="0.12" filter="url(#b3)"/>
<ellipse cx="410" cy="440" rx="20" ry="28" fill="#000" opacity="0.08" filter="url(#b3)"/>
<g filter="url(#b0)">
<path d="M404.2 360.3h1.7M464.4 393.5h1.7M399 411.6h1.7M474.5 430.4h1.7M444.7 378.5h1.7M395.2 465.6h1.7M464.9 466h1.7M429.2 438h1.7M406.5 400.8h1.7M458 432.5h1.7M463.3 412.5h1.7M475.6 467.9h1.7" stroke="#d2d2d2" stroke-width="1.7" fill="none"/>
<path d="M435.6 359.5h1.7M415.8 399.7h1.7M367.9 462.2h1.7M402.2 453.2h1.7M399.9 361.8h1.7M458.3 400.7h1.7M412.6 462.7h1.7M412.1 433.3h1.7M393.5 453.9h1.7M380.5 378.3h1.7M428.5 381h1.7" stroke="#c8c8c8" stroke-width="1.7" fill="none"/>
<path d="M401.3 400.6h1.7M371.1 386.8h1.7M391.3 387h1.7M413.8 388h1.7M406.3 405.5h1.7M435.6 388.7h1.7M391.6 388.9h1.7M421.7 386.4h1.7M412.1 398.3h1.7M378.6 398.1h1.7M392.1 397h1.7M378.2 399.3h1.7M447.7 392h1.7M430.9 375.3h1.7M427 390.7h1.7M446.7 386.7h1.7M425.9 386.7h1.7M421.8 392h1.7M432.1 406.6h1.7M422.6 406.9h1.7M431.1 409.6h1.7M427.7 400.6h1.7M419.4 401.9h1.7M406.6 407.4h1.7M440.1 409.8h1.7M427.3 405.8h1.7M414.4 449.7h1.7M415.8 446.8h1.7M420.7 428.5h1.7M397.9 422h1.7M415.5 426.1h1.7M396.7 432.9h1.7M403.6 425.3h1.7M413.6 407.5h1.7M412.4 431.2h1.7" stroke="#c4c4c4" stroke-width="1.7" fill="none"/>
<path d="M403.6 367.5h1.7M447.4 381.6h1.7M480.3 426.6h1.7M383.7 437.4h1.7M452.3 405.2h1.7M392.4 364.8h1.7M475.5 371.5h1.7M474.8 390h1.7" stroke="#bdbdbd" stroke-width="1.7" fill="none"/>
<path d="M390.6 412.6h1.7M382.2 383.1h1.7M425.7 400.3h1.7M431.2 397.5h1.7M389 382.3h1.7M422.9 380h1.7M452.8 377.4h1.7M384.6 397.9h1.7M442.7 406.1h1.7M382.4 397.7h1.7M378.7 412.1h1.7M399.5 375.7h1.7M370.5 393.3h1.7M410.8 379.7h1.7M397.8 389.3h1.7M366.6 386.7h1.7M388 398h1.7M417.9 387.3h1.7M402.5 391.7h1.7M385 384h1.7M437.3 381h1.7M439.4 389.6h1.7M429.4 388.4h1.7M434.2 388h1.7M430 382.6h1.7M424.2 388.4h1.7M435 382.5h1.7M444 384.2h1.7M397.1 407.1h1.7M408.8 404.9h1.7M425.3 417.3h1.7M412.5 408h1.7M422.4 412.2h1.7M427.7 408.2h1.7M411.4 405.5h1.7M422.3 429.7h1.7M421.9 445.1h1.7M415.5 435.9h1.7M406.3 455.4h1.7M409.5 439h1.7M396.5 434.5h1.7M400.2 454.4h1.7M408.3 452.3h1.7M405.7 443.5h1.7M410 450.5h1.7M417.3 457.6h1.7M413.1 430.5h1.7M418.4 442.8h1.7M425.7 428h1.7M411 448.1h1.7" stroke="#b8b8b8" stroke-width="1.7" fill="none"/>
<path d="M383.5 394.3h1.7M394.5 380.1h1.7M402.4 393.7h1.7M385 395.7h1.7M408.9 384.1h1.7M397.3 397.1h1.7M390.7 391.3h1.7M400.3 387.1h1.7M403.1 383h1.7M383.6 405.7h1.7M387.6 384.4h1.7M386.8 405h1.7M420 389.8h1.7M397.9 375.9h1.7M384.7 408.7h1.7M412.9 399.1h1.7M415.5 396.6h1.7M422.9 388.5h1.7M385.4 400.8h1.7M405.3 392h1.7M395.7 379h1.7M434 409.8h1.7M423.5 420.8h1.7M417.3 412.7h1.7M430.6 420.6h1.7M418.3 407.2h1.7M411.1 413h1.7M439.1 404h1.7M405.2 407.4h1.7M416.6 406.1h1.7M432.3 393.7h1.7" stroke="#b5b5b5" stroke-width="1.7" fill="none"/>
<path d="M386.7 392.5h1.7M384.8 391.4h1.7M382 398.2h1.7M390.9 384.7h1.7M387.6 385.4h1.7M411.3 389h1.7M416.2 386h1.7M380.7 386.4h1.7M408.6 391.2h1.7M429.7 393.7h1.7M400.1 415.6h1.7M382.8 380.6h1.7M413.1 390.7h1.7M396.7 398.8h1.7M369.5 396.7h1.7M383.5 394.3h1.7M389 386.9h1.7M379.8 383.1h1.7M418.4 385.7h1.7M407.3 390.3h1.7M406.8 387.3h1.7M420.7 398.2h1.7M375.5 389.5h1.7M421.9 399.6h1.7M381.1 388.8h1.7M415.8 385.5h1.7M420.8 390.1h1.7M416.8 391.1h1.7M430.5 379h1.7M365.9 381.6h1.7M403.7 393.2h1.7M422 403.3h1.7M429.9 412.3h1.7M421.6 398.8h1.7M415.5 411h1.7M386.2 401.7h1.7M438.1 410.9h1.7" stroke="#aaaaaa" stroke-width="1.7" fill="none"/>
<path d="M374.8 429.2h1.7M389.3 455.6h1.7M371.7 433.4h1.7M373.5 407h1.7M383.5 412.5h1.7M396.7 409.5h1.7M378.5 431.4h1.7M369.4 413.4h1.7M373 447.1h1.7M393.6 431.1h1.7M377.2 415.2h1.7M392.9 399.1h1.7M388.9 461h1.7M370.3 412.6h1.7M387 463.3h1.7M378.5 417.6h1.7M381.5 432h1.7M391 399.1h1.7M385.8 441.2h1.7M364.7 410.3h1.7M387.5 463.1h1.7M388.1 438.2h1.7M383.9 448.8h1.7M391.9 444.8h1.7M380.9 458.7h1.7M376.3 433.7h1.7M385.5 467.1h1.7M391.9 441.3h1.7M377.3 446.5h1.7M373.6 408h1.7M373.1 463.2h1.7M376.7 457.7h1.7M391 432.2h1.7M376.9 416.5h1.7M380.8 468.5h1.7M393.2 438.7h1.7M370.8 427.3h1.7M394.7 443.7h1.7M380.6 412.9h1.7M368.8 444.3h1.7M383.1 412h1.7M387.2 416.4h1.7M364.6 399.5h1.7M372.7 428.4h1.7M395.7 431.3h1.7M379.3 443.5h1.7" stroke="#aaa" stroke-width="1.7" fill="none"/>
<path d="M436.7 391.3h1.7M370.4 382.1h1.7M380.4 386.3h1.7M380.3 397.5h1.7M424.4 377.8h1.7M391.8 390.3h1.7M449.8 369.2h1.7M400.9 386.1h1.7M390 396h1.7M374.8 402.5h1.7M377 386.6h1.7M451.2 382.2h1.7M440.1 392.5h1.7M422.4 395.8h1.7M415.1 403.4h1.7M442.2 387.2h1.7M418 388.8h1.7M423.1 417.7h1.7M428.9 405.4h1.7M418.8 411h1.7M410.2 401.4h1.7M433.6 408.1h1.7M417.9 419.3h1.7M413 410.6h1.7M419.4 411.7h1.7M435.7 404.2h1.7M417.1 414.5h1.7M409.4 439.1h1.7M405.2 437.7h1.7M414.6 417.1h1.7M406.8 449.1h1.7M422.9 434.3h1.7M409.6 429.9h1.7M404.2 435.4h1.7M416.4 432h1.7M398.3 432.5h1.7M403.4 439.4h1.7M415.7 467.6h1.7M399 434.3h1.7M422.9 441h1.7" stroke="#a8a8a8" stroke-width="1.7" fill="none"/>
<path d="M380.7 381.7h1.7M408.2 397.4h1.7M435 400.3h1.7M369 400.1h1.7M388.5 392.4h1.7M417.1 388.1h1.7M388.6 388.9h1.7M385.3 393.2h1.7M379.4 416.5h1.7M384.8 369.9h1.7M387.5 399.6h1.7M409.4 398.4h1.7M367 401.4h1.7M422.9 402.4h1.7M398 391.3h1.7M388.8 387.1h1.7M456.4 400.9h1.7M394.2 393.7h1.7M405.3 398.7h1.7M395.8 390.5h1.7M373.8 383.2h1.7M382.1 399h1.7M386.2 378.6h1.7M374 394.2h1.7M428.1 401.5h1.7M391.9 396.9h1.7M419.7 402.4h1.7M414.8 393.2h1.7M408.7 385.6h1.7M387.5 376.6h1.7M410.8 385.5h1.7M386 398.3h1.7M376.3 401.5h1.7M413.4 395.9h1.7M426.3 385.5h1.7M375.8 396.7h1.7M377.8 375.5h1.7M410.5 377h1.7M386.2 389.5h1.7M402.9 386.3h1.7M372.8 386h1.7M409.3 390.7h1.7M424 389h1.7M418.6 397.2h1.7M431 404.9h1.7M438.8 409.1h1.7M431.3 414.6h1.7M438.5 416.4h1.7M458.5 401h1.7M419.2 402.2h1.7M406.5 396.8h1.7M409.8 408.9h1.7M413.2 423.5h1.7M425.7 443.2h1.7M398.9 440.2h1.7M405.5 428.7h1.7M418.3 429.5h1.7M442.6 440.3h1.7M390.2 453.7h1.7M403.3 458.3h1.7M409.5 429.5h1.7M411.5 444.8h1.7M418.5 460.6h1.7M405.6 425.1h1.7M415.9 455.7h1.7" stroke="#9a9a9a" stroke-width="1.7" fill="none"/>
<path d="M365.8 405.8h1.7M384.4 458h1.7M394.3 431.6h1.7M393.4 450.2h1.7M383.9 450.6h1.7M400 413h1.7M370.3 410.7h1.7M382.3 465h1.7M396.7 434.5h1.7M369.6 456.6h1.7M372.1 401.1h1.7M373 469.8h1.7M377.8 415.2h1.7M384.9 461h1.7M388.8 468.8h1.7M390.1 430.6h1.7M395.8 447h1.7M370.4 434.7h1.7M388.2 420.2h1.7M388.6 399.3h1.7M379.2 460.2h1.7M383.4 464.9h1.7M366.4 401.6h1.7M368.4 442.8h1.7M383.9 407.9h1.7M368 423.7h1.7M382.1 464.4h1.7M395.6 413.5h1.7M372.5 417.1h1.7M371.4 446.1h1.7M384.2 445.1h1.7M392.2 410.5h1.7M378.7 452.4h1.7M387.4 446.3h1.7M382.9 434.9h1.7M369.5 452.7h1.7M390.2 419.7h1.7M367.9 414.2h1.7M372.6 433.1h1.7M391.1 441.9h1.7M388.5 444.8h1.7M367.3 410h1.7M366.5 461.2h1.7M383.9 405.3h1.7M366.8 446.7h1.7M386.6 426.1h1.7M381.8 453.1h1.7M378.2 443.9h1.7M378.5 415.6h1.7M375.4 401.8h1.7" stroke="#999" stroke-width="1.7" fill="none"/>
<path d="M403.8 373.4h1.7M412.5 391.7h1.7M393.5 411.3h1.7M378.4 382.2h1.7M391 392.4h1.7M411 394.7h1.7M422.8 407.4h1.7M401.5 411.7h1.7M383.9 388.9h1.7M413.1 388.2h1.7M405.8 384.5h1.7M395.7 404.8h1.7M383.9 395.2h1.7M374.1 379.7h1.7M374.9 391.1h1.7M380.9 380.5h1.7M415.4 400.7h1.7M390.5 399.4h1.7M426.1 382.9h1.7M395.6 388.9h1.7M416.9 375.2h1.7M379.2 390.5h1.7M399.3 408h1.7M424.3 403.3h1.7M403.6 404.5h1.7M435.5 401h1.7M429.7 407.7h1.7M420.4 404.6h1.7" stroke="#8a8a8a" stroke-width="1.7" fill="none"/>
<path d="M386.1 408.2h1.7M390 414.4h1.7M395.8 442.1h1.7M390.5 462.1h1.7M393.2 413.1h1.7M388.5 428.1h1.7M380.5 428.6h1.7M364.8 402.4h1.7M370.2 445.4h1.7M375.6 427.8h1.7M374.9 448.5h1.7M366.4 422.8h1.7M376.6 469.7h1.7M390.6 461.6h1.7M382.3 398.9h1.7M364.6 400.7h1.7M380.2 406.9h1.7M375.8 468.5h1.7M376.4 400.6h1.7M375.1 402.7h1.7M383.5 403.6h1.7M387.4 424h1.7M382.2 398.2h1.7M386.9 449h1.7M387.5 405.5h1.7M367 420.3h1.7M385.2 445.2h1.7M396.5 415.6h1.7M380.9 430.6h1.7M397.6 434.2h1.7M381.2 449.2h1.7M385.9 424.7h1.7M370.3 404h1.7M385 433.9h1.7M366.4 446.6h1.7M390.3 405.7h1.7M396.3 406h1.7M391.4 432.9h1.7M376.3 440.9h1.7M392.5 435.2h1.7M388.1 453.2h1.7M391.2 401.1h1.7M381.3 408.4h1.7M369.8 399.1h1.7M385.9 440.8h1.7M383 465.7h1.7M371.2 426.4h1.7M388.8 429.1h1.7M379.7 470.1h1.7M383.1 400.8h1.7M390.3 407.8h1.7" stroke="#858585" stroke-width="1.7" fill="none"/>
<path d="M376.6 467.4h1.7M372.1 430.7h1.7M389.8 461.9h1.7M375.1 439.7h1.7M368.4 450.7h1.7M370.3 407.1h1.7M376.2 428.8h1.7M377.1 457.8h1.7M372.6 428.9h1.7M373.1 417.7h1.7M379.9 410.5h1.7M365.9 433.5h1.7M390.9 414.6h1.7M373.1 432.6h1.7M373.7 457.4h1.7M388 442.5h1.7M371.1 446.7h1.7M377.5 403.3h1.7M370.7 465.8h1.7M375.5 402h1.7M397.9 421.4h1.7M375.9 413.3h1.7M378.4 457h1.7M384.6 412.4h1.7M376.2 437h1.7M388 417.3h1.7M393.5 447.5h1.7M367.5 464.6h1.7M370.1 403.6h1.7M365.4 408.2h1.7M364.4 430.5h1.7M387.2 412h1.7M381.2 450.3h1.7M388.8 423.9h1.7M368.6 402.7h1.7M386.6 414.7h1.7M376 458.9h1.7M383.3 409.7h1.7M397.4 421.1h1.7M371.3 413h1.7M388.6 422.6h1.7M391.6 436.5h1.7M374.2 467.7h1.7M365.8 469.9h1.7M381.5 429.3h1.7M378.4 407.1h1.7M366.9 402.1h1.7M378.4 418.3h1.7M381.6 436.8h1.7M389.8 469.5h1.7M394.7 413.3h1.7M366 412.7h1.7M369.3 414.6h1.7M370.9 444.4h1.7M389.9 432.5h1.7M385.9 423.2h1.7M385 442.2h1.7M385.8 459.2h1.7M396.3 431.7h1.7" stroke="#777" stroke-width="1.7" fill="none"/>
<path d="M388.8 458.9h1.7M368.2 427h1.7M364.3 399.9h1.7M374.1 434.2h1.7M383.1 417.5h1.7M379.4 452.9h1.7M381 425.3h1.7M375.3 463.4h1.7M383.3 402h1.7M388.8 468h1.7M392.8 437.9h1.7M371.9 411.5h1.7M365.9 404.7h1.7M381.9 460.7h1.7M380.4 418h1.7M391.1 438.6h1.7M388.1 401.6h1.7M367.7 430.7h1.7M369.7 404.8h1.7M382.4 438.1h1.7M365 429.7h1.7M372.5 458.2h1.7M392.7 434h1.7M381.5 406.6h1.7M369.4 413.3h1.7M368.8 424.9h1.7M381.4 461.1h1.7M388.2 407.6h1.7M391.6 456.4h1.7M383.8 453.5h1.7M389.2 427.6h1.7M385 470.9h1.7M375.9 469.8h1.7M394.2 404.7h1.7M372.5 435h1.7M376.2 407.4h1.7M395.7 412.2h1.7M380.3 410.4h1.7M381.6 467.4h1.7M391.4 410.4h1.7M364.8 435.8h1.7M399.8 419.6h1.7M386.2 426.5h1.7M393.2 441.8h1.7M374.8 447.9h1.7M387.7 470.2h1.7M368.1 446h1.7M371.2 414.7h1.7M368.3 447.2h1.7M389.9 446.7h1.7M371.7 427.1h1.7" stroke="#707070" stroke-width="1.7" fill="none"/>
<path d="M369.3 410.8h1.7M389.6 451.1h1.7M377.4 442.5h1.7M373 404.4h1.7M364.9 461.5h1.7M372.5 436.8h1.7M384.9 436.1h1.7M388 410.6h1.7M379.2 449.8h1.7M399.3 418.1h1.7M378.3 470.6h1.7M368.7 442.3h1.7M373.8 464.2h1.7M388.2 451.4h1.7M364.6 401.8h1.7M399.3 416.4h1.7M373 442.3h1.7M383.5 467.1h1.7M394.9 426.2h1.7M383.1 410.7h1.7M388.8 448h1.7M394 403.1h1.7M385 410.2h1.7M387 412.9h1.7M386.4 468.1h1.7M384.3 434.5h1.7M397.9 419.3h1.7M367.9 442.4h1.7M381.6 416.3h1.7M372 456.2h1.7M370.5 432.5h1.7M385.2 415h1.7M379.1 437.1h1.7M390.7 432.5h1.7M385.2 414.5h1.7M382.8 437.1h1.7M376 447.8h1.7M372.9 400.1h1.7M364.4 438.3h1.7M387.6 407.4h1.7M380.2 440.2h1.7M367.6 462.3h1.7M384.6 463.3h1.7M366 410.4h1.7M376 438.6h1.7M370 466.9h1.7M383.7 429.9h1.7M386.4 416.2h1.7M384.9 399.3h1.7M364.5 409.1h1.7M373.1 426.3h1.7M366.3 434.3h1.7M394.3 402.3h1.7M375.4 424.2h1.7M394.5 424.8h1.7M397 407.6h1.7M395.8 412.2h1.7" stroke="#6a6a6a" stroke-width="1.7" fill="none"/>
</g>
<path d="M480.8 392.7h1.5M424.6 409.5h1.5M404.1 387.1h1.5M406.3 466.4h1.5M450.9 449h1.5M414.9 376.6h1.5M444 458.5h1.5M440.7 388.4h1.5M454.1 462h1.5M440.6 428.2h1.5M436.6 418.4h1.5M388.1 403.2h1.5" stroke="#d2d2d2" stroke-width="1.5" fill="none"/>
<path d="M464.3 406.7h1.5M401.4 357.5h1.5M454.3 440.1h1.5M460.9 397.8h1.5M418.6 404.6h1.5M369.1 373.6h1.5M424.1 368.4h1.5M463 463h1.5M466.3 433.8h1.5M386.8 378.7h1.5" stroke="#c8c8c8" stroke-width="1.5" fill="none"/>
<path d="M377 400.3h1.5M370 397.9h1.5M401.8 381.3h1.5M365.9 399.8h1.5M423.7 392.9h1.5M433.3 383h1.5M422.8 394.4h1.5M416.9 373.6h1.5M383.6 376.1h1.5M394 383.9h1.5M412 393.4h1.5M377.9 393.4h1.5M401.5 396.9h1.5M413.9 389.6h1.5M412.7 410h1.5M420.3 390.5h1.5M427.3 393.5h1.5M376.5 393.6h1.5M422.8 361.2h1.5M396.4 390.4h1.5M440 386.4h1.5M434.3 395.4h1.5M432.9 386.2h1.5M423.3 410.1h1.5M434.3 406.6h1.5M453.2 407.7h1.5M435.4 406h1.5M424.8 408.6h1.5M420.2 405h1.5M426.5 401.7h1.5M430.8 402.1h1.5M390.9 455.8h1.5M422.9 426.2h1.5M439.6 440.5h1.5M408.2 440.9h1.5M412.5 440.7h1.5M410.5 464.4h1.5M408 444h1.5M400.9 441.5h1.5M405.8 449.4h1.5M426.3 445.2h1.5M401.6 436.3h1.5M417.3 459.3h1.5M402.4 424.4h1.5M388 434.8h1.5M423.9 458.3h1.5M401.6 432.3h1.5M426.1 445.5h1.5M394.3 412.5h1.5M401.1 461.6h1.5M407.2 441.9h1.5M402.2 443.1h1.5M419.6 445h1.5" stroke="#c4c4c4" stroke-width="1.5" fill="none"/>
<path d="M379.1 376.5h1.5M460.5 365.3h1.5M449.4 435.9h1.5M430.8 426.7h1.5M420 425.8h1.5M429.8 399.9h1.5M474 442.2h1.5M474 451h1.5M469 384.9h1.5M448.5 366h1.5M418 354.9h1.5M403.1 403.4h1.5M396.4 444h1.5M381.9 465.3h1.5M450.4 456.9h1.5M413.7 412.8h1.5M434.1 443.1h1.5" stroke="#bdbdbd" stroke-width="1.5" fill="none"/>
<path d="M398.6 396.8h1.5M394.5 376.4h1.5M377.4 394.6h1.5M400.8 386.4h1.5M370.9 396.9h1.5M369.4 391.5h1.5M388.1 379.7h1.5M387.6 386.4h1.5M399.4 418.9h1.5M383.6 385.8h1.5M389.8 392.6h1.5M369.3 387.1h1.5M438.8 402.5h1.5M436.4 389.8h1.5M430.3 403.1h1.5M425.6 382.5h1.5M422.2 392.2h1.5M432.1 391.3h1.5M438 399.4h1.5M447.4 389.4h1.5M428.8 390.6h1.5M436.1 390.8h1.5M422.1 409.3h1.5M412 407.9h1.5M429.4 409.8h1.5M418.1 411.4h1.5M434.7 400.9h1.5M414.9 419.8h1.5M429.3 410.1h1.5M449.7 411.3h1.5M411.4 401.8h1.5M407.2 415.8h1.5M425.5 419.1h1.5M422.6 433.8h1.5M410.9 460.7h1.5M421.3 413.8h1.5M402.3 457.3h1.5M419.7 455.8h1.5M397.5 427.9h1.5M416.7 438.5h1.5M405.5 445h1.5M408.5 457.1h1.5M397.2 448.3h1.5M405.9 419.7h1.5M416.5 449.3h1.5M407.1 442.6h1.5M412.6 414.8h1.5M391.3 452.5h1.5M400.5 433.8h1.5M406 452.6h1.5M415.4 448.8h1.5M400.1 432h1.5M412.5 461.6h1.5M419.8 452h1.5M393.3 421h1.5M409.7 425.7h1.5M407 427.5h1.5" stroke="#b8b8b8" stroke-width="1.5" fill="none"/>
<path d="M403.1 396.3h1.5M396.5 411.3h1.5M369 377.8h1.5M389.3 386.4h1.5M398.6 390.8h1.5M386 398.3h1.5M394 396.9h1.5M388.5 391h1.5M390.3 383.1h1.5M389.5 381h1.5M392 384.4h1.5M391.5 393.9h1.5M403.9 397.6h1.5M390.4 411.1h1.5M391.9 380.1h1.5M372.7 384.7h1.5M398.7 386.3h1.5M366.8 382h1.5M370.6 388.7h1.5M369.3 392.5h1.5M376 403.8h1.5M386.6 393.4h1.5M417.9 388.5h1.5M373.5 392.2h1.5M413.4 402.2h1.5M405.1 370.5h1.5M401.6 388.5h1.5M375.7 395.4h1.5M411.5 375.1h1.5M365.3 387.6h1.5M419.1 408.8h1.5M382.8 389.4h1.5M396.2 393.9h1.5M408.2 403.6h1.5M412.6 404.3h1.5M426.1 407.1h1.5M440 404.2h1.5M444.2 404.7h1.5M424.6 398.1h1.5" stroke="#b5b5b5" stroke-width="1.5" fill="none"/>
<path d="M399.3 389.4h1.5M365.4 390.3h1.5M397.8 382.7h1.5M367.7 394.7h1.5M436.2 402.5h1.5M415.1 392h1.5M389.8 415.4h1.5M448.7 378.5h1.5M378.8 395.2h1.5M400.3 393.5h1.5M394.1 396.1h1.5M405 395h1.5M364.3 397.6h1.5M370.7 397.4h1.5M407.5 402.4h1.5M406.9 397.8h1.5M399.6 397.7h1.5M382.1 401.2h1.5M372.6 392.6h1.5M413.2 382.3h1.5M371.6 387.4h1.5M402 391.9h1.5M386.5 382.9h1.5M390.8 388.6h1.5M368 385.7h1.5M409.4 395.7h1.5M394.6 383.3h1.5M372.4 382.4h1.5M382.7 389.2h1.5M396.2 380.1h1.5M414.6 379.7h1.5M398.7 391.9h1.5M427.5 381.6h1.5M379.2 396.1h1.5M365.9 403h1.5M378.6 407.9h1.5M412.6 389.8h1.5M388.2 389.3h1.5M382.2 391.8h1.5M374.3 391.5h1.5M400.9 376h1.5M381.5 393.2h1.5M379.2 397.8h1.5M383.8 374.3h1.5M374.6 385.3h1.5M365.4 396h1.5M405.4 393.1h1.5M390.9 390.8h1.5M420.2 402.4h1.5M447.4 403.5h1.5M408.2 408.9h1.5M411 392.7h1.5M426.9 412.2h1.5M427.5 417.7h1.5M437.4 411.6h1.5" stroke="#aaaaaa" stroke-width="1.5" fill="none"/>
<path d="M394.1 399h1.5M395.9 443.9h1.5M383.8 414.7h1.5M395.4 429.4h1.5M382.7 402.3h1.5M381.4 417.3h1.5M378.6 432.1h1.5M376.6 407.7h1.5M381.8 407.5h1.5M366.9 459.5h1.5M391 466.7h1.5M380.2 421.8h1.5M389.5 461.9h1.5M371.2 426.6h1.5M377.4 458.9h1.5M381.3 468.4h1.5M366.5 413.2h1.5M394.2 411.2h1.5M367 470.5h1.5M364.5 409.2h1.5M386.4 450.3h1.5M396.2 416.2h1.5M368.4 453.3h1.5M378.8 454.3h1.5M389.4 410.8h1.5M379.6 452.8h1.5M385.9 417.7h1.5M368.4 433.1h1.5M385.4 454.7h1.5M386.9 465.2h1.5M371.3 440.7h1.5M371.1 404.8h1.5M375.4 437h1.5M382.5 402h1.5M378.4 419.5h1.5M394.2 407.6h1.5M391.1 467.1h1.5M371.8 407.8h1.5M381.8 438.5h1.5M392 461.5h1.5M394.3 440.3h1.5M372.3 463h1.5M367.7 403.1h1.5M393 454.8h1.5M392.7 419.8h1.5M372.1 450.6h1.5M384.3 407.5h1.5M384.4 458.6h1.5M397.1 434.1h1.5M394.3 456.1h1.5M367.7 454.9h1.5M366.6 453.4h1.5M376.2 412.2h1.5M371.1 413.6h1.5M386.2 427.9h1.5M375.4 420.5h1.5M386.4 400.9h1.5M400.4 416.8h1.5M382.4 401.4h1.5" stroke="#aaa" stroke-width="1.5" fill="none"/>
<path d="M419.1 404.4h1.5M382.9 382.8h1.5M385.4 391.5h1.5M368.1 395.8h1.5M385.9 386.2h1.5M416.6 376.5h1.5M402.9 375.6h1.5M374 379.1h1.5M399 406.8h1.5M392.2 409.7h1.5M376.4 384.1h1.5M447.8 395.6h1.5M389.5 382.3h1.5M415 371.2h1.5M405.7 389.2h1.5M407.7 389.5h1.5M373.5 398.1h1.5M391.5 380.8h1.5M398.5 396.7h1.5M427.5 391.2h1.5M445.2 389h1.5M433.3 382.6h1.5M432.5 383.8h1.5M426.7 376.7h1.5M443.4 378.1h1.5M453.9 387.5h1.5M422.2 387.3h1.5M413.6 409.3h1.5M451.5 414.5h1.5M441.1 404h1.5M441.4 412.8h1.5M434.9 405h1.5M432 408.8h1.5M399.1 407.4h1.5M427.7 404.4h1.5M413.7 403.3h1.5M439.2 400.5h1.5M399.5 447.9h1.5M408.7 432.9h1.5M418.6 447.2h1.5M415.7 437.7h1.5M405.4 430.5h1.5M392.3 451.5h1.5M401.6 459.3h1.5M421.8 451.3h1.5M384 425.3h1.5M406.9 430.7h1.5M412.2 436.1h1.5M408.7 458.3h1.5M435.1 459.9h1.5M418.7 430.8h1.5M407.4 450.3h1.5M422.3 429.2h1.5M426.3 458.2h1.5M403.9 447.2h1.5M420.4 434.5h1.5M421.5 457.1h1.5M393.5 437.2h1.5M414.7 414.2h1.5M418.7 433.7h1.5M423.4 410.9h1.5M414.4 412.5h1.5" stroke="#a8a8a8" stroke-width="1.5" fill="none"/>
<path d="M377.3 396.4h1.5M376.4 386.6h1.5M403.7 378.5h1.5M377.3 383.4h1.5M397.4 387.7h1.5M375.2 387.2h1.5M385.6 401.5h1.5M396.8 397.6h1.5M400.4 378.4h1.5M367.2 388.2h1.5M403.5 404.8h1.5M402.4 387.7h1.5M365.2 400.9h1.5M423.2 378.2h1.5M384.3 391.6h1.5M393.7 392.4h1.5M424.5 372.4h1.5M429.7 382.8h1.5M386.9 377h1.5M389.5 378.8h1.5M423.9 371.5h1.5M421.4 396.1h1.5M374.7 386.3h1.5M383.8 392.8h1.5M413.4 399.6h1.5M440.6 391.5h1.5M415.3 399.6h1.5M422.3 379.7h1.5M365.1 381.7h1.5M410.4 414.4h1.5M376.8 382.5h1.5M400.4 395.3h1.5M395.8 393.7h1.5M404.8 402.1h1.5M398.5 375.7h1.5M430.9 385h1.5M380.7 385.1h1.5M393.3 398.2h1.5M393 391.6h1.5M389.3 397.2h1.5M392.6 383h1.5M400.8 381.9h1.5M400.1 389.3h1.5M411.8 389.7h1.5M382.3 382.4h1.5M375 394.7h1.5M374.6 395.3h1.5M369.2 386.4h1.5M370.4 387.9h1.5M399.6 386.3h1.5M379.4 377.3h1.5M393.8 387.6h1.5M385.7 387.1h1.5M413.3 392.9h1.5M385.2 395.2h1.5M392.8 398.5h1.5M451 390.1h1.5M422.2 394.4h1.5M435.3 386.4h1.5M433.3 385.4h1.5M440.4 389.6h1.5M426 378.2h1.5M437.4 392.8h1.5M435.7 402.1h1.5M405.9 398.2h1.5M420.9 400.5h1.5M434 409.6h1.5M433.9 409.7h1.5M438 416.5h1.5M420.3 396.6h1.5M448 405h1.5M394.6 406.1h1.5M406.9 403.4h1.5M421.7 405.1h1.5M420.5 412.7h1.5M416.1 410.8h1.5M428.7 393h1.5M439.4 399.6h1.5M418.5 405.9h1.5M402.1 438.7h1.5M418.9 433.1h1.5M412.3 435.6h1.5M409.4 446.1h1.5M419.3 451.4h1.5M423.9 448.3h1.5M410.9 427.2h1.5M411.7 458.4h1.5M417.2 441h1.5M402.3 428.8h1.5M406.6 465.6h1.5M405.3 426.5h1.5M408.7 453.3h1.5M420.3 424.8h1.5M420.1 450h1.5M412.6 426.2h1.5M418.3 421.5h1.5M392.5 461.3h1.5M412 444h1.5M406.8 416.6h1.5M417.9 443.5h1.5M400.7 426.7h1.5M425.1 455.8h1.5M410.9 457.7h1.5M397 460.4h1.5M408.7 451.9h1.5M408.1 440.6h1.5M430.9 431.7h1.5" stroke="#9a9a9a" stroke-width="1.5" fill="none"/>
<path d="M373.7 451.5h1.5M371.3 441.6h1.5M368.5 429h1.5M397.9 429.1h1.5M383.1 459.6h1.5M398.7 416.1h1.5M391.6 444.9h1.5M390.1 445.3h1.5M374.3 415.3h1.5M365.3 423.3h1.5M385 440.5h1.5M380.8 403.3h1.5M387.4 412.8h1.5M387.3 462.5h1.5M394.2 457.8h1.5M377.1 403.9h1.5M378.3 408.6h1.5M375.7 466.6h1.5M376.9 401.5h1.5M370.5 430.3h1.5M367.4 460.1h1.5M381.9 439.3h1.5M368.6 424.8h1.5M381.3 414.4h1.5M382.9 445.1h1.5M371.6 434.7h1.5M365.5 469.9h1.5M399.6 411.6h1.5M371.1 426.4h1.5M392.7 457.4h1.5M374.1 450.1h1.5M377.1 446.1h1.5M400.8 414.4h1.5M364.8 449.9h1.5M389.4 409.2h1.5M396.3 426.2h1.5M378.2 439.1h1.5M387.8 463h1.5M383.8 444.6h1.5M374 415.4h1.5M364.6 458.5h1.5M375.4 402.1h1.5M386.1 462.3h1.5M371.7 449.3h1.5M366.4 450.4h1.5M386.7 466.5h1.5M393.7 421.9h1.5M389.3 446.5h1.5M376.5 416.7h1.5M387.6 404.1h1.5M366 448.1h1.5M387.9 411.7h1.5M388 408.6h1.5M386.5 417.8h1.5M366.7 425.3h1.5" stroke="#999" stroke-width="1.5" fill="none"/>
<path d="M419.3 384.9h1.5M393.4 410.7h1.5M412.6 396.4h1.5M427.7 398.1h1.5M408.2 393.9h1.5M383.8 384.5h1.5M374.3 382h1.5M414.1 382.5h1.5M403.8 381.3h1.5M377.7 390.1h1.5M396.1 392.8h1.5M385.4 387.2h1.5M384.8 390h1.5M388.2 394.6h1.5M374.9 392.5h1.5M405.7 387.3h1.5M411.5 391.2h1.5M398.2 384.3h1.5M395.9 366.4h1.5M391.9 383.5h1.5M438.7 386.7h1.5M406.1 392.9h1.5M368.4 405h1.5M408.2 392.4h1.5M400.4 405.9h1.5M396.5 380.6h1.5M366.3 376.3h1.5M375.2 399.4h1.5M390.2 397.3h1.5M385.4 395.5h1.5M413.8 379.4h1.5M427.2 393.5h1.5M389.7 389.7h1.5M416.7 409.9h1.5M442.2 408.6h1.5M411.8 409.5h1.5M396.4 412.3h1.5M432 405.7h1.5M405.1 406.3h1.5M430.6 402.5h1.5M412.5 408.5h1.5" stroke="#8a8a8a" stroke-width="1.5" fill="none"/>
<path d="M382.9 398.4h1.5M395.5 417.9h1.5M372.4 413.1h1.5M378.2 423.5h1.5M397.9 424.1h1.5M368.3 455.8h1.5M384.3 419h1.5M385.7 450.9h1.5M383.6 427.6h1.5M394.1 427.2h1.5M389.2 420h1.5M383.4 449.3h1.5M375.1 404.2h1.5M370.8 464h1.5M396.1 416.4h1.5M365.8 399.6h1.5M374.4 411.3h1.5M399.7 424.1h1.5M391 398.5h1.5M386.5 455.4h1.5M391.3 465.8h1.5M371 429.2h1.5M381 461h1.5M388.7 447.5h1.5M390 469.8h1.5M379.8 446.7h1.5M384.6 457h1.5M400.3 414.2h1.5M398.2 421.4h1.5M372.7 444.5h1.5M379.9 421.9h1.5M391 454.9h1.5M369.8 413.2h1.5M384.7 463.8h1.5M375.8 405.9h1.5M375.8 406.3h1.5M382.9 418.8h1.5M389.9 403.2h1.5M376.4 457.9h1.5M364.4 414.2h1.5M375.3 437.5h1.5M366.5 443.4h1.5M386.9 426.4h1.5M390.3 413.3h1.5M367.3 462.4h1.5M371 453h1.5M371.7 421.3h1.5M386.7 405h1.5M380 430.9h1.5M376.8 406.8h1.5M388.1 413.2h1.5M379.2 436.1h1.5M384.1 450.7h1.5M369.8 451h1.5M382.1 416.4h1.5M372.6 430.6h1.5M373.9 452.5h1.5M393.6 404.8h1.5M392.2 440.1h1.5M384.1 437.6h1.5M369.3 446.1h1.5M377.6 454.7h1.5M385.1 440.2h1.5M388.8 407.6h1.5M384.9 406.6h1.5M385.4 467.9h1.5M391.6 409.1h1.5M368.1 398.7h1.5M370 467.1h1.5M381.7 428.8h1.5M382.5 432.4h1.5M388.8 398.1h1.5M383.4 458.4h1.5M384.6 442.2h1.5" stroke="#858585" stroke-width="1.5" fill="none"/>
<path d="M393.8 431.4h1.5M391.5 459.3h1.5M372.1 454.8h1.5M389.2 427.6h1.5M371.5 402.8h1.5M373.3 405.1h1.5M393.4 423.8h1.5M364.7 416.8h1.5M376.5 405.6h1.5M379.4 457.5h1.5M396.5 430.3h1.5M385.9 460.4h1.5M366 409.6h1.5M369.4 413.4h1.5M376.6 405.6h1.5M382.9 452.8h1.5M382.3 459h1.5M380.8 449h1.5M390.3 430.5h1.5M386.2 443.5h1.5M374.6 440.5h1.5M365.3 456.1h1.5M368.5 423.3h1.5M382.5 425.5h1.5M386.3 427.9h1.5M376.3 423.7h1.5M398.5 424.4h1.5M385.8 443.7h1.5M374.8 432h1.5M383.7 423.5h1.5M398 422.7h1.5M400.7 418.9h1.5M381.5 424.5h1.5M366.1 453.9h1.5M381 400.1h1.5M368.3 441.5h1.5M384.1 419.7h1.5M377.9 414.7h1.5M380.7 430.2h1.5M376.4 410.9h1.5M371.6 403.7h1.5M391.6 435.9h1.5M393.1 452.3h1.5M370.7 464.5h1.5M389.1 437.5h1.5M372.9 453.4h1.5M384.4 429.3h1.5M389.6 432.6h1.5M379.2 427.4h1.5M370.1 417.8h1.5M385.2 447.3h1.5M375.3 461.8h1.5M380.4 451.2h1.5M374.9 469.7h1.5M368.3 408.4h1.5M369.4 402.3h1.5M395 405.7h1.5M389.4 448.6h1.5M386.7 463.8h1.5M381.7 439h1.5M379.4 400.5h1.5M384 452h1.5M395.8 447.5h1.5M370.1 420.6h1.5" stroke="#777" stroke-width="1.5" fill="none"/>
<path d="M377.8 456.8h1.5M373.9 456.8h1.5M390.6 437.3h1.5M376.5 409.1h1.5M394.8 408.2h1.5M385.7 423.7h1.5M382.4 431.3h1.5M369 411h1.5M387.8 420.4h1.5M387.2 410.9h1.5M393.8 441.7h1.5M366.1 460.6h1.5M374.3 408.1h1.5M372.6 407.7h1.5M375.5 427.3h1.5M375.5 428.9h1.5M382 409h1.5M378.7 401.7h1.5M372.6 463.6h1.5M380.1 468.9h1.5M398.9 409.4h1.5M373.8 405.3h1.5M376.2 420.1h1.5M379.1 448.7h1.5M400.4 416.5h1.5M389.6 413.5h1.5M366.5 398.7h1.5M367.2 452.8h1.5M365.9 450h1.5M377.1 412.9h1.5M386 428.4h1.5M391.5 457.1h1.5M379.6 412h1.5M375.2 428.9h1.5M383 433.1h1.5M396.5 418.1h1.5M389.4 470h1.5M385.7 445.9h1.5M378.7 469.2h1.5M368.8 467.1h1.5M374 409.4h1.5M373.1 423.2h1.5M392.3 413.3h1.5M377.2 400.5h1.5M384 442.8h1.5M377.1 451.1h1.5M389.8 417.1h1.5M394.1 426.5h1.5M371.1 437.3h1.5M397.5 413.6h1.5M378.8 403.6h1.5M368.4 417.8h1.5M377.7 406.1h1.5M372.5 463.3h1.5M364.3 435.2h1.5M367.6 409.1h1.5M378.2 427.1h1.5M392.6 403.5h1.5M365.3 469.3h1.5M374.9 408.7h1.5M365.4 450.1h1.5M368.7 426h1.5M390.4 425.3h1.5M384.2 409.3h1.5M375.5 426.2h1.5M380.2 412.6h1.5M386.2 416.8h1.5M374.4 433.8h1.5M392.6 410h1.5M395.2 402.7h1.5M372.6 447.5h1.5M375.6 408.2h1.5M397.1 433.2h1.5M385.3 442.8h1.5M389.4 462.6h1.5M394.7 409.6h1.5" stroke="#707070" stroke-width="1.5" fill="none"/>
<path d="M371.4 403.1h1.5M376.8 444.4h1.5M394.7 415.3h1.5M384.2 409.9h1.5M382.3 429.4h1.5M375.6 417.1h1.5M391 464.8h1.5M371.7 415.6h1.5M390.3 425.2h1.5M371.5 435.5h1.5M383.8 457.9h1.5M378 448h1.5M368.1 408.5h1.5M372.7 418.7h1.5M386.5 408.8h1.5M374.5 464.3h1.5M399.9 419.8h1.5M373.2 461.6h1.5M395.7 409.4h1.5M383 413.1h1.5M371.7 410.3h1.5M369.6 456.4h1.5M368.5 407.8h1.5M380.4 464.5h1.5M372.4 437.3h1.5M390 409.7h1.5M398.8 421.4h1.5M372.1 439.3h1.5M381 425.9h1.5M384.6 436.8h1.5M377.3 432.7h1.5M386.3 441.8h1.5M364.4 424.9h1.5M364.3 440.6h1.5M367.9 420.1h1.5M383.5 453.5h1.5M384.3 420.2h1.5M375.6 403.5h1.5M382.3 422.4h1.5M384.5 455.3h1.5M366.3 429.6h1.5M390.6 399.1h1.5M364.7 449.7h1.5M396.3 409.6h1.5M385.7 457.9h1.5M364.7 443.5h1.5M368.2 412.8h1.5M394.4 441.4h1.5M391.8 465.1h1.5M365.8 428.1h1.5M374.1 431.4h1.5M384.8 438.2h1.5M393.8 438.4h1.5M388.5 429.6h1.5M380.2 445.7h1.5M375.4 460.4h1.5M370.3 424.1h1.5M381.1 408.5h1.5" stroke="#6a6a6a" stroke-width="1.5" fill="none"/>
</g>
<rect x="363.2" y="353.5" width="119.5" height="119" fill="none" stroke="#9a9a9a" stroke-width="1.3"/>
<path d="M363.2 469.5h-4M363.2 463.4h-2.5M363.2 457.3h-2.5M363.2 451.2h-2.5M363.2 445.1h-4M363.2 439h-2.5M363.2 432.9h-2.5M363.2 426.8h-2.5M363.2 420.7h-4M363.2 414.6h-2.5M363.2 408.5h-2.5M363.2 402.4h-2.5M363.2 396.3h-4M363.2 390.2h-2.5M363.2 384.1h-2.5M363.2 378h-2.5M363.2 371.9h-4M363.2 365.8h-2.5M363.2 359.7h-2.5M366.2 472.5v4M372.3 472.5v2.5M378.4 472.5v2.5M384.5 472.5v2.5M390.6 472.5v4M396.7 472.5v2.5M402.8 472.5v2.5M408.9 472.5v2.5M415 472.5v4M421.1 472.5v2.5M427.2 472.5v2.5M433.3 472.5v2.5M439.4 472.5v4M445.5 472.5v2.5M451.6 472.5v2.5M457.7 472.5v2.5M463.8 472.5v4M469.9 472.5v2.5M476 472.5v2.5" stroke="#b0b0b0" stroke-width="0.9" fill="none"/>
<rect x="421.2" y="370.2" width="33.8" height="29.1" fill="none" stroke="#777" stroke-width="1.4" stroke-dasharray="3 2"/>
<rect x="365.4" y="399.3" width="40.1" height="17" fill="none" stroke="#555" stroke-width="1.3" stroke-dasharray="3 2"/>
<rect x="365.4" y="416.3" width="72.8" height="54.9" fill="none" stroke="#666" stroke-width="1.3" stroke-dasharray="3 2"/>
<rect x="405.5" y="399.3" width="43.5" height="17" fill="none" stroke="#000" stroke-width="2.2" stroke-dasharray="3.5 2"/>
<text x="365.9" y="381.4" font-size="16" style="stroke-width:0.45px" fill="#505050" stroke="#505050" textLength="31.87" lengthAdjust="spacingAndGlyphs">21%</text>
<path d="M373.17 388.25L383.62 388.25L378.4 397.75z" fill="#505050"/>
<text x="451.86" y="366.7" font-size="14" style="stroke-width:0.45px" fill="#8a8a8a" stroke="#8a8a8a" textLength="21.68" lengthAdjust="spacingAndGlyphs">1%</text>
<path d="M439.93 359.95L449.28 359.95L444.6 368.45z" fill="#8a8a8a"/>
<text x="451.64" y="440.3" font-size="16" style="stroke-width:0.45px" fill="#000" stroke="#000" textLength="21.9" lengthAdjust="spacingAndGlyphs">2%</text>
<path d="M445 419.55L446.8 429L454.45 425.85z" fill="#000"/>
<text x="447.69" y="466.5" font-size="14" style="stroke-width:0.45px" fill="#8a8a8a" stroke="#8a8a8a" textLength="31.88" lengthAdjust="spacingAndGlyphs">63%</text>
<path d="M447.8 455.85L447.8 465.75L438.8 460.8z" fill="#8a8a8a"/>
<g transform="translate(494.1 0)"><g transform="scale(1 1)"></g></g>
<clipPath id="c4"><rect x="74.8" y="514.2" width="119.6" height="117.3"/></clipPath>
<g clip-path="url(#c4)">
<ellipse cx="159" cy="549" rx="17" ry="8" transform="rotate(-40 159 549)" fill="#000" opacity="0.45" filter="url(#b2)"/>
<ellipse cx="161" cy="546" rx="27" ry="13" transform="rotate(-42 161 546)" fill="#000" opacity="0.16" filter="url(#b3)"/>
<path d="M95 546L146 538L146 562L95 559z" fill="#000" opacity="0.12" filter="url(#b3)"/>
<ellipse cx="132" cy="551" rx="14" ry="9" fill="#000" opacity="0.1" filter="url(#b3)"/>
<g filter="url(#b0)">
<path d="M114.7 559.6h1.7M88.9 554.9h1.7M132 558.2h1.7M137.7 539.6h1.7M98.2 555.5h1.7M138.1 542.8h1.7M103.9 549.3h1.7M144.7 537.5h1.7M111.2 559h1.7M122.3 545.9h1.7M144.9 536.7h1.7M135.8 552h1.7M138.9 540.7h1.7M102.9 544.6h1.7M133.5 554.4h1.7M114.3 548.2h1.7M124.3 556.6h1.7M139.3 540.1h1.7M140.7 544.1h1.7M117.3 549.4h1.7M132.5 555.2h1.7M128.9 549.4h1.7M123.2 555.3h1.7M130.4 552.2h1.7M91.4 588h1.7M139.8 577.9h1.7M86 580.9h1.7M179.8 570.2h1.7M154.7 583.1h1.7" stroke="#c4c4c4" stroke-width="1.7" fill="none"/>
<path d="M135.1 561.1h1.7M132.3 546.2h1.7M90 557.3h1.7M133.8 548.9h1.7M134 555.2h1.7M109 548.9h1.7M119.4 546.4h1.7M132.9 556.9h1.7M142.8 559.4h1.7M131.3 556.9h1.7M135.3 549h1.7M123.1 579.8h1.7M101.3 620.4h1.7M132.4 568h1.7M172.2 576h1.7" stroke="#b8b8b8" stroke-width="1.7" fill="none"/>
<path d="M158.8 553.4h1.7M164.3 538.6h1.7M153.6 548.3h1.7M167.5 542h1.7M153.2 554.1h1.7M167.7 530h1.7M173.3 539.4h1.7M168.1 536.3h1.7M149.6 557.1h1.7M168.6 540h1.7M132.3 557.3h1.7M151.7 552.2h1.7M163.4 553.5h1.7M134.4 557.3h1.7M161 543h1.7M162.2 551.9h1.7M157.6 542.1h1.7M173 547.7h1.7M157.3 551.7h1.7M137.9 554.4h1.7M136.4 544.9h1.7M108.2 547.7h1.7M139.9 555.1h1.7M130 547.9h1.7M103.3 555.1h1.7M99.7 552.7h1.7M93.2 556.5h1.7M134.7 560.6h1.7M136.9 541.3h1.7M107.7 545.6h1.7M110.4 548.9h1.7M119.7 547.5h1.7M114.3 545h1.7" stroke="#b5b5b5" stroke-width="1.7" fill="none"/>
<path d="M156.4 549.5h1.7M163.5 541.7h1.7M144.8 564.4h1.7M142.7 563.2h1.7M160 549.8h1.7M152.4 558.2h1.7M167.5 547h1.7M152.6 542.2h1.7M154.5 543.9h1.7M152.7 550.7h1.7M174.8 537.8h1.7M148.1 548.8h1.7M163.6 539.7h1.7M165.4 551.3h1.7M116 556.6h1.7M100.5 546.1h1.7M142.6 561.7h1.7M92.3 555.3h1.7M91.1 552.5h1.7M125.1 554.2h1.7M128.6 561.2h1.7M138.8 546.4h1.7M135.2 554.5h1.7M122 559.6h1.7M91.6 552.3h1.7M134.4 542.5h1.7M128.3 550.6h1.7M138.5 559.2h1.7M125.8 554.6h1.7M118.4 553.6h1.7M119.4 551.5h1.7M134.2 544h1.7M144.1 548.9h1.7" stroke="#aaaaaa" stroke-width="1.7" fill="none"/>
<path d="M111.2 557.8h1.7M118.1 551.6h1.7M138.3 551.5h1.7M138.4 549.3h1.7M131.9 540h1.7M140.2 552.6h1.7M133.4 538.2h1.7M111.8 557h1.7M108 556.6h1.7M145.4 547h1.7M88.5 554.4h1.7M102.2 554.9h1.7M137.5 542h1.7M141.7 538.1h1.7M138.8 563.4h1.7M135.9 550.6h1.7M127.8 545.4h1.7M95.5 591.2h1.7M95.1 605.9h1.7M131.6 584h1.7M178.7 609.7h1.7M188.5 579.2h1.7M187.4 573.9h1.7" stroke="#a8a8a8" stroke-width="1.7" fill="none"/>
<path d="M145.5 554.7h1.7M157 551.8h1.7M172.3 538.1h1.7M153.2 549.6h1.7M164.7 536.1h1.7M159.2 549.1h1.7M167 552.6h1.7M159.7 544.2h1.7M148.1 547h1.7M165.5 542h1.7M149.9 549.2h1.7M162.5 543.6h1.7M143.6 562.1h1.7M153.7 544.5h1.7M137.5 546.6h1.7M163.6 539.7h1.7M168.8 541.3h1.7M141.8 539.7h1.7M90.2 553.4h1.7M145 553.5h1.7M134.1 548.4h1.7M108.2 559.5h1.7M89.6 549.5h1.7M144.1 538.7h1.7M126.3 542.1h1.7M134.7 542.7h1.7M105.3 555.2h1.7M145.6 539.5h1.7M100 545h1.7M92.4 557.8h1.7M117.3 552.1h1.7M92.2 544.8h1.7M116 543.8h1.7M132.5 543.7h1.7M100.6 546.4h1.7M127.7 560.4h1.7M117.9 559.6h1.7M124.9 552.3h1.7M131.4 550.7h1.7M129.1 549.5h1.7M118.9 556.8h1.7M114.1 554.9h1.7M129.4 551.8h1.7M114.3 548.1h1.7M126.4 549.6h1.7M121.4 555.3h1.7M124.7 543h1.7M121.5 550h1.7M134 552.5h1.7M129.1 548.2h1.7M138 544.9h1.7M91.7 623.9h1.7M108.5 594.2h1.7M144.4 586.4h1.7M182.3 615h1.7" stroke="#9a9a9a" stroke-width="1.7" fill="none"/>
<path d="M172.3 536.8h1.7M152.3 552.4h1.7M167.7 544.7h1.7M164.2 551.5h1.7M170.9 537.9h1.7M156.3 561.8h1.7M159.6 537.8h1.7M162.8 540.7h1.7M157.8 553h1.7M146.9 550.3h1.7M163.2 539.4h1.7M162.6 537.1h1.7M156.4 543.9h1.7M161.2 552.7h1.7M155.5 546h1.7M153.1 556.9h1.7M144 559.6h1.7M150.6 545.4h1.7M162.1 551.1h1.7M157.5 550.3h1.7M147.5 564.6h1.7M170.9 546.7h1.7M163.1 539.5h1.7M169.4 551.3h1.7M164.8 542.6h1.7M167 547h1.7M170.2 540.3h1.7M132.1 565.2h1.7M165.2 545.2h1.7M179.2 530.9h1.7M166.4 540.7h1.7M141.4 554.8h1.7M155.2 553h1.7M142.7 551h1.7M146.6 560.9h1.7M171.1 535.6h1.7M98.1 551h1.7M146 541.7h1.7M89.8 545.2h1.7M114.1 557.6h1.7M136.8 545h1.7M139.5 537.4h1.7M132.4 541.2h1.7M115.1 551h1.7M124.5 548.9h1.7M145.3 537.7h1.7M139.3 552.5h1.7M136.7 548.3h1.7M121.4 553.6h1.7M150.9 547.4h1.7M116 549.6h1.7M148.4 546.8h1.7" stroke="#8a8a8a" stroke-width="1.7" fill="none"/>
<path d="M159.6 560.3h1.7M160.4 563.3h1.7M152.1 554.3h1.7M153 554.8h1.7M161 538.2h1.7M152.5 552.8h1.7M173.2 545.3h1.7M162.8 539.7h1.7M156.1 543.5h1.7M165.5 539.3h1.7M153.8 554.7h1.7M155.2 541.4h1.7M155.4 548.6h1.7M168.8 543h1.7M166.7 538.6h1.7M148.3 552.8h1.7" stroke="#7a7a7a" stroke-width="1.7" fill="none"/>
<path d="M152.6 551.5h1.7M171.9 540.6h1.7M150.6 546.9h1.7M146.7 547.5h1.7M166.4 538.4h1.7M155.7 561.4h1.7M159.1 556.5h1.7M170.9 538.1h1.7M165.6 540.4h1.7M159 538.5h1.7M158.5 543.1h1.7M172.9 543.8h1.7M167.7 535.5h1.7" stroke="#6a6a6a" stroke-width="1.7" fill="none"/>
<path d="M146.8 546.6h1.7M150.9 554.8h1.7M166.3 549h1.7M163.6 541.9h1.7M154.3 546.7h1.7M165.4 545.2h1.7M148.7 549.2h1.7M152.3 555.3h1.7M162.1 547.8h1.7M165.2 548.1h1.7M156.1 541.9h1.7M174.5 534.8h1.7M153.9 552h1.7" stroke="#5a5a5a" stroke-width="1.7" fill="none"/>
</g>
<path d="M131.3 540.7h1.5M140 539.9h1.5M120.2 552.8h1.5M128.1 550.9h1.5M97.1 553.3h1.5M142.3 551.6h1.5M138.6 547.9h1.5M109 542.3h1.5M124.5 542.8h1.5M120.6 543.7h1.5M144.7 536.6h1.5M109.1 546.3h1.5M93 548.7h1.5M128.3 552.5h1.5M125.3 551.6h1.5M128.8 548.7h1.5M123.2 555.6h1.5M141.2 544.4h1.5M131.1 549.9h1.5M135.8 549h1.5M131.2 549.9h1.5M132.9 617.5h1.5M134.6 581.3h1.5M114 595.1h1.5M109.6 576.1h1.5M80.6 578.6h1.5M116.3 595.2h1.5M138.1 623.1h1.5M127.6 583.2h1.5M172.5 593.5h1.5M148.7 578.3h1.5M170.7 609.9h1.5" stroke="#c4c4c4" stroke-width="1.5" fill="none"/>
<path d="M107.2 554.4h1.5M127.9 553.5h1.5M126.1 556.3h1.5M95.1 553.1h1.5M123.9 558.2h1.5M137.5 545.4h1.5M142.6 539.4h1.5M91.7 547.5h1.5M113.6 544.3h1.5M96.1 558.4h1.5M126.9 546.3h1.5M140.4 556.6h1.5M127.6 554.5h1.5M103.7 551.1h1.5M123.1 542.7h1.5M89.3 546h1.5M142.7 543.2h1.5M136.2 557.8h1.5M136.9 550.5h1.5M127.8 559.5h1.5M121.6 546.2h1.5M129.8 550h1.5M100.8 546.5h1.5M124.5 553.3h1.5M126.9 547.5h1.5M80 617.6h1.5M130.8 579.7h1.5M124.9 612.4h1.5M145.1 621.7h1.5M101.9 622.4h1.5M112 566.1h1.5M113.8 569.8h1.5M144.9 567.6h1.5M175 599h1.5M163.3 604.4h1.5" stroke="#b8b8b8" stroke-width="1.5" fill="none"/>
<path d="M170.6 539.6h1.5M171.8 538.7h1.5M166.2 548.8h1.5M151.1 552.9h1.5M149 555.4h1.5M164.7 546.4h1.5M155.9 552.7h1.5M167.3 548h1.5M167.8 542.5h1.5M163.4 553.4h1.5M159.5 543.9h1.5M147.9 559.3h1.5M167.1 536.7h1.5M143.7 554.1h1.5M150.7 558.2h1.5M148.9 562h1.5M146.4 552.6h1.5M169.2 546.9h1.5M174.7 536.8h1.5M167.3 557.7h1.5M158.5 546.5h1.5M160.6 544.3h1.5M152.7 555.5h1.5M151.4 547.7h1.5M146.7 558.8h1.5M151.7 556.1h1.5M132.1 545.3h1.5M96 554.6h1.5M124.6 552h1.5M115.4 543.8h1.5M91.8 549.4h1.5M129.1 539.2h1.5M89.9 555.2h1.5M144.6 552.1h1.5M106.4 557.1h1.5M106.5 543.8h1.5M116.6 554.5h1.5M103.1 550h1.5M121.5 550.6h1.5M118.8 543.2h1.5M142 549.3h1.5M144.8 536.9h1.5M135.4 559.2h1.5M137.3 547h1.5M90.2 555h1.5M124.3 551.3h1.5M99.5 545.7h1.5M137.8 550.4h1.5M124.8 558.8h1.5M126.2 558.7h1.5M118.9 549h1.5M126 545.7h1.5M139.1 548.5h1.5M130.1 550.7h1.5M121.8 545.1h1.5M153.4 555.7h1.5M129.4 547.5h1.5" stroke="#b5b5b5" stroke-width="1.5" fill="none"/>
<path d="M163.6 549.3h1.5M161 548.4h1.5M149.1 549.7h1.5M165.9 542.4h1.5M158.3 548.2h1.5M147.4 553.4h1.5M154.8 546.8h1.5M177.3 542.5h1.5M144.9 546.2h1.5M162.7 530.3h1.5M153.5 564h1.5M166.8 530.4h1.5M149.4 561.9h1.5M147 548.7h1.5M169 533.9h1.5M165.6 541.7h1.5M144.6 555.6h1.5M176.4 538.2h1.5M137.7 551.8h1.5M114.5 554.5h1.5M134.6 550h1.5M115.6 560.5h1.5M119 558.1h1.5M135.4 560.7h1.5M88.8 546.6h1.5M130.2 538.5h1.5M135.5 544.8h1.5M138.5 539.8h1.5M124.8 546.3h1.5M113.6 557.8h1.5M128.6 556.9h1.5M107.8 555.7h1.5M100 547.9h1.5M89.7 545.3h1.5M136.7 539.3h1.5M127.2 550.3h1.5M126.4 548.2h1.5M122 550.5h1.5M129.8 544.7h1.5M146.2 549.8h1.5M123.7 557.8h1.5M130.4 548.8h1.5M136.4 563.6h1.5" stroke="#aaaaaa" stroke-width="1.5" fill="none"/>
<path d="M145.2 539h1.5M128.1 557.1h1.5M144.4 543h1.5M92.2 550.4h1.5M135.6 556.4h1.5M140.4 541h1.5M130.6 556.3h1.5M92.1 558.1h1.5M141.9 550.6h1.5M105.2 546.4h1.5M145.4 549h1.5M123.1 553.9h1.5M107.4 558.6h1.5M144 552h1.5M105.3 544.9h1.5M124.4 556.1h1.5M97.1 544.3h1.5M106.2 553.3h1.5M131.6 545.2h1.5M110.9 556h1.5M132.3 551.2h1.5M119 562.3h1.5M123.1 551h1.5M129.6 546.2h1.5M134.8 555.8h1.5M131.5 555.5h1.5M146.9 546.1h1.5M128.8 550.8h1.5M147.2 555.6h1.5M132.5 556.1h1.5M89.6 611.6h1.5M120.6 592.4h1.5M111.3 592.6h1.5M152.6 581.7h1.5M177.5 599.9h1.5M188.6 595.1h1.5" stroke="#a8a8a8" stroke-width="1.5" fill="none"/>
<path d="M152.6 555.7h1.5M161.1 539.6h1.5M166.6 541.6h1.5M168.9 550.5h1.5M154.5 555.1h1.5M152.4 546.3h1.5M154.9 559.1h1.5M165.9 541.2h1.5M170.9 538.4h1.5M144.8 562.4h1.5M157.9 548.3h1.5M161 541h1.5M151.6 552.9h1.5M164.6 537.3h1.5M169 533.7h1.5M156.7 546.7h1.5M163.4 553.7h1.5M181.5 534.1h1.5M168.9 543.6h1.5M155.5 563.8h1.5M166.8 544.5h1.5M162.8 535.5h1.5M151.3 561.3h1.5M149.1 548.5h1.5M155.8 553.1h1.5M152.2 549.1h1.5M150.2 554.6h1.5M170.9 533.9h1.5M169.3 543.5h1.5M172 535.5h1.5M175.8 537.4h1.5M169 538.9h1.5M181.8 534.3h1.5M154.5 544.6h1.5M167.2 551.8h1.5M121.7 555.3h1.5M114.1 548h1.5M133.3 556.3h1.5M127.2 560.1h1.5M137.3 545.5h1.5M109.2 541.9h1.5M145.5 537.4h1.5M131.3 545.7h1.5M107.2 558.9h1.5M145.2 549.6h1.5M123.3 546.7h1.5M123.4 553.4h1.5M126.7 557.4h1.5M89 556.5h1.5M119.6 543.7h1.5M111.7 558.3h1.5M93.4 554.8h1.5M129.8 551h1.5M121.4 558.4h1.5M111.4 545.1h1.5M127 558.4h1.5M114.5 555.9h1.5M126.7 552.7h1.5M143.4 555.8h1.5M139.6 549.2h1.5M129.9 557.2h1.5M142.9 543.6h1.5M115.8 556.9h1.5M120.5 544h1.5M140.3 547.3h1.5M94.4 550.9h1.5M108.5 550.6h1.5M113.9 560.5h1.5M127.4 559.6h1.5M131.2 559.7h1.5M130.1 555h1.5M128.6 559.4h1.5M134.9 557.9h1.5M143.7 550h1.5M128.2 554.5h1.5M129.5 553.3h1.5M124.3 556h1.5M135.6 552.5h1.5M125.4 550.6h1.5M126.6 550.7h1.5M124.5 548.9h1.5M131 557.7h1.5M110.3 553.6h1.5M118.4 546.5h1.5M136.7 571.6h1.5M141.8 623.7h1.5M107.1 566.9h1.5M139.2 577.5h1.5M95.8 579.5h1.5M161.3 579.3h1.5M174.6 609.6h1.5M152.9 568.5h1.5" stroke="#9a9a9a" stroke-width="1.5" fill="none"/>
<path d="M170.3 550.2h1.5M169.1 548.4h1.5M157.3 557.3h1.5M143.7 560.9h1.5M160.4 551.5h1.5M158.4 549h1.5M166.4 548.6h1.5M162.2 533.7h1.5M163 543.2h1.5M170.5 548.6h1.5M163.5 542.7h1.5M150.9 549.4h1.5M151.7 550.8h1.5M140.1 554.2h1.5M167.1 548.9h1.5M152.1 559h1.5M164.6 536.3h1.5M159.1 547.7h1.5M140.2 556.5h1.5M157.7 550.6h1.5M153.2 548.6h1.5M148.9 545.7h1.5M160.6 544.3h1.5M161.2 549.4h1.5M151.4 555.8h1.5M163.8 552.1h1.5M173.4 551.5h1.5M163.7 549.7h1.5M152.9 551.7h1.5M159.3 543.8h1.5M163.7 545h1.5M164.5 546.1h1.5M167.8 543.6h1.5M158.1 542h1.5M164.1 540.4h1.5M170.5 537.1h1.5M157.8 550.8h1.5M157.2 555.8h1.5M168.2 548.2h1.5M149.1 557.1h1.5M154.9 545.1h1.5M175.5 539.5h1.5M162.3 551.5h1.5M150.8 552.8h1.5M145.5 547.2h1.5M158.9 545.1h1.5M158.3 551.4h1.5M148 545.7h1.5M154.3 549.9h1.5M154.4 559.2h1.5M159.5 544.9h1.5M145.6 561.9h1.5M167.7 543.4h1.5M156.8 547.1h1.5M159.4 546.1h1.5M152.6 570.4h1.5M170.8 549.8h1.5M169.4 549.2h1.5M144.4 539.9h1.5M101 559.4h1.5M144.1 560.9h1.5M101.5 549.2h1.5M144.9 543.2h1.5M104.8 544.4h1.5M110.5 547h1.5M136.5 538.7h1.5M139.7 548h1.5M127.4 555.7h1.5M119 547.4h1.5M135.3 544.5h1.5M137.5 551.4h1.5M130.3 547.5h1.5" stroke="#8a8a8a" stroke-width="1.5" fill="none"/>
<path d="M151.8 553.2h1.5M138.4 562.5h1.5M170.2 551.2h1.5M169.2 537.9h1.5M160 545.4h1.5M156.9 552.7h1.5M161.5 558.6h1.5M158.9 545.1h1.5M164.8 538.5h1.5M148.3 563.6h1.5M165.1 547.9h1.5M161.3 534.9h1.5M157.4 547.9h1.5M171.1 547.6h1.5M155.2 547h1.5M152 546.7h1.5M146.4 548.7h1.5M163.2 536.9h1.5M163.3 548.2h1.5M150.8 556.3h1.5M160.6 548.3h1.5" stroke="#7a7a7a" stroke-width="1.5" fill="none"/>
<path d="M151.1 547.5h1.5M155.8 552.4h1.5M166.1 550.4h1.5M167.6 539.3h1.5M171.4 542h1.5M154.2 546.4h1.5M148.1 550.6h1.5M175.2 536.6h1.5M144.8 549.2h1.5M160.4 539.7h1.5M161.9 546.3h1.5M149.3 552h1.5M168.9 531.6h1.5M150.2 541.9h1.5M157.1 549.8h1.5" stroke="#6a6a6a" stroke-width="1.5" fill="none"/>
<path d="M156.4 547.6h1.5M147.3 561h1.5M168.9 541.8h1.5M159.2 544.2h1.5M151.4 548.5h1.5M151.4 553.7h1.5M158.3 549.8h1.5M164.9 537.8h1.5M157.6 551.2h1.5M155.2 556.1h1.5M160.7 544.6h1.5M149.8 544.5h1.5M149.7 546.3h1.5M149.1 554h1.5M158.7 539.4h1.5M169.6 542.5h1.5M168.1 547.5h1.5M166.3 546.5h1.5M155.2 549.4h1.5" stroke="#5a5a5a" stroke-width="1.5" fill="none"/>
</g>
<line x1="146.8" y1="514.2" x2="146.8" y2="631.5" stroke="#999" stroke-width="1.1"/>
<line x1="74.8" y1="564.3" x2="194.4" y2="564.3" stroke="#999" stroke-width="1.1"/>
<rect x="74.8" y="514.2" width="119.6" height="117.3" fill="none" stroke="#9a9a9a" stroke-width="1.3"/>
<path d="M74.8 628.5h-4M74.8 622.4h-2.5M74.8 616.3h-2.5M74.8 610.2h-2.5M74.8 604.1h-4M74.8 598h-2.5M74.8 591.9h-2.5M74.8 585.8h-2.5M74.8 579.7h-4M74.8 573.6h-2.5M74.8 567.5h-2.5M74.8 561.4h-2.5M74.8 555.3h-4M74.8 549.2h-2.5M74.8 543.1h-2.5M74.8 537h-2.5M74.8 530.9h-4M74.8 524.8h-2.5M74.8 518.7h-2.5M77.8 631.5v4M83.9 631.5v2.5M90 631.5v2.5M96.1 631.5v2.5M102.2 631.5v4M108.3 631.5v2.5M114.4 631.5v2.5M120.5 631.5v2.5M126.6 631.5v4M132.7 631.5v2.5M138.8 631.5v2.5M144.9 631.5v2.5M151 631.5v4M157.1 631.5v2.5M163.2 631.5v2.5M169.3 631.5v2.5M175.4 631.5v4M181.5 631.5v2.5M187.6 631.5v2.5" stroke="#b0b0b0" stroke-width="0.9" fill="none"/>
<rect x="76.3" y="527.2" width="70.5" height="38.2" fill="none" stroke="#000" stroke-width="3" stroke-dasharray="7.5 3.7"/>
<text transform="translate(93.8 640) rotate(-90)" font-size="6" fill="#666" stroke="none">10<tspan font-size="4.5" dy="-2">2</tspan></text>
<text transform="translate(123.4 640) rotate(-90)" font-size="6" fill="#666" stroke="none">10<tspan font-size="4.5" dy="-2">2</tspan></text>
<text transform="translate(152.2 640) rotate(-90)" font-size="6" fill="#666" stroke="none">10<tspan font-size="4.5" dy="-2">2</tspan></text>
<text transform="translate(181.8 640) rotate(-90)" font-size="6" fill="#666" stroke="none">10<tspan font-size="4.5" dy="-2">2</tspan></text>
<text transform="translate(70.3 531) rotate(-90)" font-size="6" fill="#666" stroke="none">10<tspan font-size="4.5" dy="-2">2</tspan></text>
<text transform="translate(70.3 560) rotate(-90)" font-size="6" fill="#666" stroke="none">10<tspan font-size="4.5" dy="-2">2</tspan></text>
<text transform="translate(70.3 588) rotate(-90)" font-size="6" fill="#666" stroke="none">10<tspan font-size="4.5" dy="-2">2</tspan></text>
<text transform="translate(70.3 617) rotate(-90)" font-size="6" fill="#666" stroke="none">10<tspan font-size="4.5" dy="-2">2</tspan></text>
<clipPath id="c5"><rect x="219" y="514.2" width="119.6" height="117.3"/></clipPath>
<g clip-path="url(#c5)">
<ellipse cx="306" cy="550" rx="15" ry="7.5" transform="rotate(-42 306 550)" fill="#000" opacity="0.32" filter="url(#b2)"/>
<ellipse cx="306" cy="549" rx="24" ry="12" transform="rotate(-42 306 549)" fill="#000" opacity="0.13" filter="url(#b3)"/>
<path d="M245 542L291 538L291 559L245 556z" fill="#000" opacity="0.06" filter="url(#b3)"/>
<g filter="url(#b0)">
<path d="M272.2 546.8h1.7M265.2 546h1.7M260.5 551.2h1.7M289.9 539.7h1.7M285.8 537.9h1.7M288.5 559h1.7M272.6 553.7h1.7M256.7 549.2h1.7M286.1 556.1h1.7M250.4 556.7h1.7" stroke="#c4c4c4" stroke-width="1.7" fill="none"/>
<path d="M283.3 541.7h1.7M282.2 554.6h1.7M250.4 555.3h1.7M280.6 538.4h1.7M271.2 558.1h1.7M248 549h1.7M282.3 543.5h1.7M262.6 551.6h1.7M267.5 544.1h1.7M267 567.5h1.7M284.7 576.9h1.7M263.3 581.2h1.7M294.3 613.5h1.7" stroke="#b8b8b8" stroke-width="1.7" fill="none"/>
<path d="M308.2 550h1.7M298.6 560.8h1.7M311.9 550.9h1.7M319.8 539.4h1.7M297.1 547h1.7M298 550.3h1.7M302.9 545.1h1.7M309.7 540.2h1.7M305.2 553.1h1.7M318.9 540.6h1.7M306.4 551.1h1.7M315.3 540.9h1.7M298.7 555.8h1.7M305.3 550h1.7M243.9 554.5h1.7M256.1 545h1.7M273.6 544.1h1.7M265.5 550.7h1.7M246.3 550.4h1.7M263.3 551.9h1.7M243.4 546.5h1.7M248.2 556h1.7" stroke="#b5b5b5" stroke-width="1.7" fill="none"/>
<path d="M309.6 552.1h1.7M299.3 554.9h1.7M313.9 547.4h1.7M311.9 551.2h1.7M310.1 553.4h1.7M309.2 542.2h1.7M306.1 540.8h1.7M314.7 545h1.7M310.2 546.1h1.7M314.3 545.4h1.7M308.2 537.8h1.7M304.3 551h1.7M309.2 548.1h1.7M298.1 554.9h1.7M313.1 540.5h1.7M300.7 551.6h1.7M247.5 547.4h1.7M268.8 557.1h1.7M280.4 541.8h1.7M244.4 553.5h1.7M257.4 539.8h1.7M279.8 554h1.7M256.4 543.9h1.7M277.1 542.2h1.7M282.8 553.7h1.7" stroke="#aaaaaa" stroke-width="1.7" fill="none"/>
<path d="M261.9 551.1h1.7M258.1 551.1h1.7M289.7 540.7h1.7M246.9 548.7h1.7M285.3 546.6h1.7M284.6 554.1h1.7M276.6 553h1.7M268.6 546.3h1.7M265.9 549.5h1.7M252.3 547.7h1.7M290.7 557.7h1.7M288.6 542.6h1.7M293.5 591.1h1.7M292.1 583.6h1.7" stroke="#a8a8a8" stroke-width="1.7" fill="none"/>
<path d="M306 543h1.7M301.5 556.4h1.7M294.5 551.1h1.7M295.5 559.4h1.7M305.2 558.5h1.7M314.3 539.6h1.7M315.8 545.2h1.7M294.3 563.5h1.7M305.7 548.3h1.7M303.3 547.8h1.7M311.8 552h1.7M299.3 553.8h1.7M304 545h1.7M311.9 549.8h1.7M295.6 564.9h1.7M310.6 552.7h1.7M303.5 545.5h1.7M305.3 545.2h1.7M310.8 546.2h1.7M310.5 548.6h1.7M303.1 553.2h1.7M286.6 539.1h1.7M272.5 538.6h1.7M266 542.7h1.7M270.8 538.8h1.7M288.6 544.7h1.7M267.5 544.1h1.7M279.5 557.2h1.7M255.9 540.2h1.7M274.5 556.6h1.7M247 556.9h1.7M265.9 549.5h1.7M284.3 556.1h1.7M274.7 542.1h1.7M276.8 545.4h1.7M290.9 545.9h1.7M272.2 544.8h1.7M267.8 546.5h1.7M272.1 557.8h1.7M266.5 556.3h1.7M287.6 545h1.7M253.7 554.8h1.7M289.8 593.7h1.7M291.7 583.7h1.7M295.5 592.2h1.7M288.6 595.7h1.7M295 583.5h1.7M321.7 592.2h1.7M296.6 609.2h1.7" stroke="#9a9a9a" stroke-width="1.7" fill="none"/>
<path d="M312.1 541.9h1.7M315.9 550.9h1.7M301.4 555.7h1.7M313.4 548h1.7M298.7 558.5h1.7M298.2 548.7h1.7M304.4 558.9h1.7M306.3 556.1h1.7M312.1 539.9h1.7M307.6 550.2h1.7M306.6 545.6h1.7M293.9 557.7h1.7M305.5 546.2h1.7M303.4 555.7h1.7M295.6 555.1h1.7M302.6 544.9h1.7M315.7 540.5h1.7M308.6 552.2h1.7M289.3 557.9h1.7M311.6 543h1.7M267.8 557.1h1.7M279.8 554.9h1.7M264.8 552.2h1.7M285.1 557.3h1.7M259.1 547.8h1.7M246.5 548.9h1.7M250.8 542.4h1.7" stroke="#8a8a8a" stroke-width="1.7" fill="none"/>
<path d="M312.6 552.4h1.7M300.9 552.5h1.7M316.1 549.5h1.7M313.4 544.5h1.7M310.2 548.4h1.7M301.6 553.2h1.7" stroke="#7a7a7a" stroke-width="1.7" fill="none"/>
<path d="M299.7 554.6h1.7M290 558.6h1.7M295.4 560.9h1.7M307.1 569.4h1.7M297.2 545.1h1.7M308.2 552.7h1.7M309.8 546.7h1.7M299.9 545.8h1.7M311.5 537.5h1.7M306.1 561.5h1.7M320.4 534.9h1.7M313.1 552.2h1.7" stroke="#6a6a6a" stroke-width="1.7" fill="none"/>
<path d="M301.5 557.3h1.7M304.6 542.2h1.7M299.5 546.1h1.7M291.7 556.1h1.7M319.7 534.6h1.7M311.2 555.7h1.7M306.6 550h1.7M298.6 551.8h1.7M311.4 545.8h1.7M308.2 553.3h1.7M312.2 548.1h1.7M306.5 549.9h1.7M312.3 553h1.7M301.5 546.7h1.7M313.7 541.7h1.7M296.9 560.1h1.7M303.1 548h1.7M298 556h1.7" stroke="#5a5a5a" stroke-width="1.7" fill="none"/>
</g>
<path d="M256.9 547.3h1.5M266.3 555.3h1.5M262.6 549.6h1.5M253.1 549.4h1.5M243.5 553.9h1.5M259.5 546.7h1.5M287.8 567.9h1.5M265 577.4h1.5M265.6 590.4h1.5M270.2 577.6h1.5M273.3 569.9h1.5M269.9 580.7h1.5M276.1 579.7h1.5M285 578.6h1.5M293.1 574.6h1.5M326.6 606.9h1.5" stroke="#c4c4c4" stroke-width="1.5" fill="none"/>
<path d="M250.4 543.9h1.5M264.8 558.2h1.5M247.4 553.6h1.5M265.8 548.4h1.5M251.3 548.8h1.5M268.6 539.4h1.5M252.5 553.5h1.5M314.5 595.8h1.5M327.9 617.8h1.5" stroke="#b8b8b8" stroke-width="1.5" fill="none"/>
<path d="M300 546.3h1.5M314.9 548.5h1.5M304.6 551.9h1.5M303.7 546.3h1.5M308.4 541.3h1.5M308.8 546.5h1.5M295.7 554.5h1.5M306.1 552h1.5M298.1 557.3h1.5M302.2 556.1h1.5M301 547.4h1.5M310.4 545.8h1.5M312.7 556.2h1.5M303.5 546.7h1.5M303.6 541.4h1.5M312.6 543.4h1.5M297.3 548.8h1.5M299.2 557.6h1.5M310.4 543.4h1.5M304.2 555.8h1.5M301.2 548.9h1.5M308.8 553.6h1.5M296 556.2h1.5M293.9 557.4h1.5M313.7 546.7h1.5M313 552.1h1.5M304.7 557.1h1.5M294 552h1.5M297.8 546.2h1.5M309 543.7h1.5M296.6 564.4h1.5M284.5 552.4h1.5M272.4 555.6h1.5M277.4 547.6h1.5M255.8 551.9h1.5M256.4 548.8h1.5" stroke="#b5b5b5" stroke-width="1.5" fill="none"/>
<path d="M310.3 543.7h1.5M323.9 537.4h1.5M314.7 551h1.5M310.6 547.4h1.5M309.2 559.5h1.5M293.4 551.4h1.5M309.7 550.4h1.5M312.6 552.7h1.5M319.6 543.5h1.5M315.4 544.3h1.5M310 538.8h1.5M310.4 540.1h1.5M302 547.9h1.5M317.9 539.2h1.5M317 538.4h1.5M303.5 552.3h1.5M298.8 545.3h1.5M299.7 550.8h1.5M314.2 543.5h1.5M304.6 547.5h1.5M318.2 542.8h1.5M307.1 550.3h1.5M311.9 550.6h1.5M294 549.3h1.5M246.2 545.2h1.5M245.5 555.9h1.5M285.6 548.9h1.5M250.9 541.6h1.5M259.5 553.8h1.5M285.7 559.3h1.5M259.2 550.6h1.5M258.1 543.2h1.5M256.7 548.9h1.5M246.8 553.2h1.5M255.6 550.4h1.5" stroke="#aaaaaa" stroke-width="1.5" fill="none"/>
<path d="M264.1 545.6h1.5M259.7 556.4h1.5M247.4 550.6h1.5M255.4 553.1h1.5M249.2 543.4h1.5M268.7 552.2h1.5M276.7 542.7h1.5M246.8 549.7h1.5M279.9 557h1.5M261.5 551.1h1.5M295.9 575.3h1.5M279.2 583.3h1.5M282.4 588.2h1.5M327.6 591.4h1.5M328.8 572.2h1.5M326.9 615.2h1.5" stroke="#a8a8a8" stroke-width="1.5" fill="none"/>
<path d="M305.1 550.4h1.5M316.5 548.1h1.5M296.1 559.8h1.5M314.1 543.2h1.5M307.2 543.3h1.5M303.7 543.9h1.5M306.9 548.1h1.5M304.6 553.4h1.5M303.9 545.6h1.5M307 544.9h1.5M313 544.2h1.5M304.2 535.4h1.5M318.1 531.8h1.5M294.2 560.4h1.5M309.5 553.9h1.5M294.1 545.1h1.5M304 552.1h1.5M286.4 549.8h1.5M280.8 548h1.5M274.4 550.1h1.5M263.4 544.4h1.5M282.5 551.6h1.5M256.8 553.2h1.5M265.3 550.9h1.5M282.5 557.2h1.5M290.2 537.8h1.5M266.2 554.2h1.5M253.4 554.5h1.5M277.7 552.2h1.5M278.2 553.6h1.5M289 547.2h1.5M266.2 587.7h1.5M271.5 573.7h1.5M295.5 578.8h1.5M308.2 588.5h1.5M327.3 618.4h1.5" stroke="#9a9a9a" stroke-width="1.5" fill="none"/>
<path d="M320.1 546.2h1.5M298.4 548.7h1.5M308.4 549.9h1.5M315.3 547.4h1.5M307.4 547.2h1.5M311.9 545.2h1.5M293.7 561.6h1.5M311.9 544.4h1.5M302.6 551.2h1.5M302 547.8h1.5M296.6 555.5h1.5M317.9 553.1h1.5M312.8 544.5h1.5M302.2 552.2h1.5M302.8 551.7h1.5M303.2 552h1.5M311.8 542.5h1.5M307.2 552.9h1.5M302.7 557.9h1.5M306.5 543.5h1.5M309 546h1.5M306.3 549.3h1.5M304.3 546.5h1.5M309.7 539.2h1.5M313.6 553.8h1.5M312.2 546.8h1.5M316 552h1.5M277 558.1h1.5M245.6 541.8h1.5M262.7 557.2h1.5M248.9 554.7h1.5M276.3 559h1.5M287.2 549.2h1.5M249.5 548.5h1.5M278.1 554h1.5M278.1 546.3h1.5M248.8 545.9h1.5M279 540h1.5" stroke="#8a8a8a" stroke-width="1.5" fill="none"/>
<path d="M316.8 545.6h1.5M300.8 553h1.5M308.6 549.5h1.5M314.4 550.7h1.5M298.5 556.5h1.5M297.4 553.5h1.5M307.5 551.7h1.5M315.2 548.9h1.5M304.1 556.7h1.5M310.8 554.2h1.5M296 548.8h1.5M305.9 550h1.5M312.3 562.4h1.5M305.5 546.9h1.5M302.5 556.2h1.5M307.2 549.6h1.5M317.8 547.6h1.5M302.6 552.2h1.5M287.4 573.1h1.5" stroke="#7a7a7a" stroke-width="1.5" fill="none"/>
<path d="M306.2 546.8h1.5M303.8 550.6h1.5M308.6 544.2h1.5M290.3 558.4h1.5M312 547.1h1.5M298.5 554.3h1.5M308.2 550.8h1.5M300.5 552.1h1.5M298.1 561.3h1.5M313.7 549.5h1.5M301.3 556h1.5M306.3 550.4h1.5M304.5 539.5h1.5M306.5 542.7h1.5M325.8 540.7h1.5M301.5 550.8h1.5M295.8 546.6h1.5M291.7 559.6h1.5M308 539.1h1.5" stroke="#6a6a6a" stroke-width="1.5" fill="none"/>
<path d="M306.9 549.4h1.5M299.7 548.1h1.5M300.1 548.3h1.5M315.4 550h1.5M308.9 549.4h1.5M296.4 549.3h1.5M301.9 556.5h1.5M309.5 552h1.5M310 547.6h1.5M301.9 553.7h1.5M299.5 557h1.5M314.1 537.3h1.5M313.1 555.7h1.5M311.7 544.5h1.5M317 547.4h1.5M302.8 553.7h1.5" stroke="#5a5a5a" stroke-width="1.5" fill="none"/>
</g>
<line x1="291" y1="514.2" x2="291" y2="631.5" stroke="#999" stroke-width="1.1"/>
<line x1="219" y1="564.3" x2="338.6" y2="564.3" stroke="#999" stroke-width="1.1"/>
<rect x="219" y="514.2" width="119.6" height="117.3" fill="none" stroke="#9a9a9a" stroke-width="1.3"/>
<path d="M219 628.5h-4M219 622.4h-2.5M219 616.3h-2.5M219 610.2h-2.5M219 604.1h-4M219 598h-2.5M219 591.9h-2.5M219 585.8h-2.5M219 579.7h-4M219 573.6h-2.5M219 567.5h-2.5M219 561.4h-2.5M219 555.3h-4M219 549.2h-2.5M219 543.1h-2.5M219 537h-2.5M219 530.9h-4M219 524.8h-2.5M219 518.7h-2.5M222 631.5v4M228.1 631.5v2.5M234.2 631.5v2.5M240.3 631.5v2.5M246.4 631.5v4M252.5 631.5v2.5M258.6 631.5v2.5M264.7 631.5v2.5M270.8 631.5v4M276.9 631.5v2.5M283 631.5v2.5M289.1 631.5v2.5M295.2 631.5v4M301.3 631.5v2.5M307.4 631.5v2.5M313.5 631.5v2.5M319.6 631.5v4M325.7 631.5v2.5M331.8 631.5v2.5" stroke="#b0b0b0" stroke-width="0.9" fill="none"/>
<rect x="220.5" y="527.2" width="70.5" height="38.2" fill="none" stroke="#000" stroke-width="3" stroke-dasharray="7.5 3.7"/>
<text transform="translate(238 640) rotate(-90)" font-size="6" fill="#666" stroke="none">10<tspan font-size="4.5" dy="-2">2</tspan></text>
<text transform="translate(267.6 640) rotate(-90)" font-size="6" fill="#666" stroke="none">10<tspan font-size="4.5" dy="-2">2</tspan></text>
<text transform="translate(296.4 640) rotate(-90)" font-size="6" fill="#666" stroke="none">10<tspan font-size="4.5" dy="-2">2</tspan></text>
<text transform="translate(326 640) rotate(-90)" font-size="6" fill="#666" stroke="none">10<tspan font-size="4.5" dy="-2">2</tspan></text>
<text transform="translate(214.5 531) rotate(-90)" font-size="6" fill="#666" stroke="none">10<tspan font-size="4.5" dy="-2">2</tspan></text>
<text transform="translate(214.5 560) rotate(-90)" font-size="6" fill="#666" stroke="none">10<tspan font-size="4.5" dy="-2">2</tspan></text>
<text transform="translate(214.5 588) rotate(-90)" font-size="6" fill="#666" stroke="none">10<tspan font-size="4.5" dy="-2">2</tspan></text>
<text transform="translate(214.5 617) rotate(-90)" font-size="6" fill="#666" stroke="none">10<tspan font-size="4.5" dy="-2">2</tspan></text>
<clipPath id="c6"><rect x="362.1" y="514.2" width="119.6" height="117.3"/></clipPath>
<g clip-path="url(#c6)">
<ellipse cx="449" cy="550" rx="13" ry="8" transform="rotate(-30 449 550)" fill="#000" opacity="0.28" filter="url(#b2)"/>
<ellipse cx="449" cy="549" rx="22" ry="13" transform="rotate(-30 449 549)" fill="#000" opacity="0.1" filter="url(#b3)"/>
<ellipse cx="449" cy="585" rx="12" ry="24" fill="#000" opacity="0.09" filter="url(#b3)"/>
<path d="M398 543L434 540L434 557L398 555z" fill="#000" opacity="0.05" filter="url(#b3)"/>
<g filter="url(#b0)">
<path d="M430.7 584.4h1.7M453.3 583.9h1.7M455.5 592.8h1.7M454.8 613.5h1.7M449.7 607.9h1.7M447.1 572.6h1.7M439.9 579.5h1.7M442.4 575.9h1.7M452.1 568.9h1.7M406.6 546.1h1.7M412.8 551.4h1.7M409.6 547.5h1.7M425.7 566.1h1.7M465.5 599.2h1.7M434.5 588.4h1.7M440.6 595.7h1.7M457.3 595.6h1.7" stroke="#c4c4c4" stroke-width="1.7" fill="none"/>
<path d="M446.5 571.3h1.7M447.5 612.6h1.7M435.5 579h1.7M460.8 590.8h1.7M446.4 574.4h1.7M460 573.7h1.7M448.8 568.4h1.7M446.3 577.2h1.7M442.1 585.2h1.7M453.7 588.7h1.7M407.9 552.3h1.7M425.8 595.9h1.7" stroke="#b8b8b8" stroke-width="1.7" fill="none"/>
<path d="M456.9 551.1h1.7M444.4 562.8h1.7M458 544.6h1.7M453.1 545h1.7M453.9 544.1h1.7M458.1 558.8h1.7M444.2 596.5h1.7M452.9 630h1.7M451.1 598.7h1.7M443.4 571.5h1.7M459.6 601.5h1.7M443.3 591.6h1.7M447.2 581.4h1.7M450.8 580.1h1.7M438.6 592.5h1.7M454 575.9h1.7M420.6 552.4h1.7M423.1 557h1.7M421.7 553.1h1.7M398.8 556.1h1.7M423.5 556.8h1.7" stroke="#b5b5b5" stroke-width="1.7" fill="none"/>
<path d="M445 548.4h1.7M447.3 552.2h1.7M444.5 555.9h1.7M456.8 551.1h1.7M437.3 548.9h1.7M446.2 556.6h1.7M440.1 554.7h1.7M437.3 548.6h1.7M456.4 544h1.7M445.7 554.1h1.7M445.3 548.2h1.7M436.6 553.3h1.7M448.9 552h1.7M445.5 551.3h1.7M457.9 557.4h1.7M455.4 565.2h1.7M440.8 607.1h1.7M444.3 616.6h1.7M449.6 595.9h1.7M447.8 589.9h1.7M456.4 594.6h1.7M445.8 567.3h1.7M457.5 565.9h1.7M438.5 604.4h1.7M457.9 589h1.7M406.7 552.5h1.7" stroke="#aaaaaa" stroke-width="1.7" fill="none"/>
<path d="M444.8 594.5h1.7M446.7 578.2h1.7M450 598.9h1.7M445.2 568.5h1.7M450.7 597.2h1.7M446.7 550.6h1.7M439.3 591.1h1.7M446.4 607.2h1.7M445.5 593.9h1.7M424.6 549.9h1.7M407 556.6h1.7M420.4 541.4h1.7M414.3 543.9h1.7M398.2 547h1.7M402.9 550.9h1.7M419.2 547.5h1.7M463.4 605.5h1.7M471.6 620.3h1.7M462.9 577h1.7" stroke="#a8a8a8" stroke-width="1.7" fill="none"/>
<path d="M437.5 555.4h1.7M442.3 552.4h1.7M444.9 551.3h1.7M441.7 546.5h1.7M452.3 551.1h1.7M448.2 545.5h1.7M459.8 551.8h1.7M452.2 605.9h1.7M451.2 582.5h1.7M446.5 568.6h1.7M452.3 593.8h1.7M463.1 581.8h1.7M460.2 550.8h1.7M447.2 601.1h1.7M450.5 577.7h1.7M450.1 580.4h1.7M449.7 575.1h1.7M449 606h1.7M454.2 589.2h1.7M453.8 603.2h1.7M450.2 603.5h1.7M453.8 577.9h1.7M449.6 568.6h1.7M463.1 576.2h1.7M447 563.9h1.7M444.5 598.4h1.7M441.7 571.2h1.7M427.9 549.9h1.7M426.4 551.5h1.7M420.5 541.1h1.7M420.6 540.3h1.7M404.4 556.2h1.7M416.9 547h1.7M397.5 547.6h1.7M443.3 601.9h1.7M433.7 618.1h1.7M464.3 617.6h1.7M457 601.2h1.7M474.5 570.8h1.7" stroke="#9a9a9a" stroke-width="1.7" fill="none"/>
<path d="M445.7 552h1.7M451.8 549.1h1.7M451.2 553.2h1.7M448.5 557h1.7M445.9 542.1h1.7M448 550.4h1.7M450.7 544.9h1.7M451.6 546.3h1.7M451.9 548.5h1.7M452.6 547.1h1.7M450.8 554.6h1.7M451.7 550.2h1.7M455.2 548.1h1.7M442.8 556.3h1.7M436.9 555.5h1.7M442.6 550.9h1.7M444.7 553.1h1.7M457.4 545.1h1.7M457.8 550.9h1.7M448.5 550.4h1.7M454.8 546.7h1.7M454.4 551.4h1.7M443.4 559.5h1.7M448.5 543h1.7M441.9 551.9h1.7M457.9 606h1.7M447.2 597.4h1.7M454.3 584.4h1.7M454.8 611.2h1.7M454.1 592.4h1.7M433.3 620.8h1.7M453.4 574.1h1.7M445.3 580.3h1.7M444.4 554.4h1.7M456.8 627.2h1.7M413.4 547.1h1.7" stroke="#8a8a8a" stroke-width="1.7" fill="none"/>
<path d="M449 556.2h1.7M453.8 549.7h1.7M447.5 552.2h1.7M445.9 564.6h1.7M440.3 543.9h1.7M447.6 541.6h1.7" stroke="#7a7a7a" stroke-width="1.7" fill="none"/>
<path d="M455.2 546.9h1.7M449 547.7h1.7M452.7 555.8h1.7M452.8 559.5h1.7M454.9 562.2h1.7M440.3 552.5h1.7M452.9 553h1.7M452.2 540.2h1.7M449 555h1.7M450.3 553h1.7M441.2 567.9h1.7" stroke="#6a6a6a" stroke-width="1.7" fill="none"/>
<path d="M433 559.3h1.7M448.5 550.6h1.7M451.4 541h1.7M445.1 549.5h1.7M439.3 549.9h1.7M445.2 558.4h1.7M439.8 560.3h1.7M455.5 546.1h1.7M450.7 555.6h1.7M453.9 548.5h1.7" stroke="#5a5a5a" stroke-width="1.7" fill="none"/>
</g>
<path d="M436.4 598.9h1.5M437.9 596.4h1.5M452.8 583.3h1.5M457.4 587.1h1.5M456.8 583.5h1.5M442.9 579.6h1.5M449.7 591h1.5M448 574.5h1.5M443.6 557.7h1.5M438.7 580.5h1.5M446.6 583.6h1.5M457.5 588.1h1.5M450.4 570.8h1.5M458.2 592.2h1.5M448.7 597.2h1.5M430.2 589.6h1.5M424.7 553.9h1.5M414.8 546.8h1.5M400.2 543.4h1.5M397.8 541.9h1.5M412.6 549.6h1.5M413.8 540h1.5M456.1 602.3h1.5M468 600.8h1.5M463.3 585.5h1.5M442.5 627.1h1.5M456.7 587.1h1.5M425.6 626.6h1.5" stroke="#c4c4c4" stroke-width="1.5" fill="none"/>
<path d="M445.3 602.3h1.5M453.1 587.4h1.5M456.2 574.2h1.5M447.9 603.2h1.5M455.8 573.5h1.5M440.2 601.4h1.5M456.8 591h1.5M450.3 578.5h1.5M449 626.8h1.5M446.9 617.7h1.5M446.5 585.5h1.5M448.7 597.6h1.5M445.9 596.3h1.5M450.4 609.6h1.5M447.5 582.7h1.5M445.2 554.3h1.5M444 596.8h1.5M440.2 564.7h1.5M442.7 580.1h1.5M439.3 563.3h1.5M433.7 574.1h1.5M440.1 569h1.5M431.9 542.4h1.5M429.5 542.3h1.5M403.7 547.4h1.5M426.1 557.6h1.5M465.4 592.5h1.5" stroke="#b8b8b8" stroke-width="1.5" fill="none"/>
<path d="M441.8 554h1.5M452.4 545.2h1.5M442.7 557.2h1.5M464.2 546.6h1.5M453.4 561.5h1.5M454.2 543.8h1.5M455.6 559.6h1.5M454.8 542.7h1.5M450 558.1h1.5M439.4 559.3h1.5M442.2 550h1.5M462 548.6h1.5M446.7 548.5h1.5M446.9 549.3h1.5M448.6 545.7h1.5M449.7 543.2h1.5M445.5 554.1h1.5M437.1 554.7h1.5M441.7 547.7h1.5M456.8 594h1.5M456.3 598.2h1.5M456.5 578.6h1.5M461.5 601h1.5M448.6 573.2h1.5M441.8 588.9h1.5M446.1 595.5h1.5M446.9 582.5h1.5M455.8 588.1h1.5M455.3 623.4h1.5M450.9 599.4h1.5M441.2 591.2h1.5M446.7 604.3h1.5M448 552.3h1.5M455 602.5h1.5M464.4 579h1.5M452.8 589.6h1.5M453.2 569.3h1.5M458 580.5h1.5M458.5 573h1.5M437.6 586.1h1.5M430 555.1h1.5M412.7 553.5h1.5M421.2 555.6h1.5M431.5 555.7h1.5" stroke="#b5b5b5" stroke-width="1.5" fill="none"/>
<path d="M446.7 556.5h1.5M452.7 557.4h1.5M448.3 544.7h1.5M455.3 550.2h1.5M438.4 559h1.5M450.9 553.9h1.5M455.1 545.7h1.5M447 562.2h1.5M449.5 546.6h1.5M453.3 555.8h1.5M463 548.6h1.5M447.5 550.5h1.5M453 546.3h1.5M459.5 547.8h1.5M451 548.3h1.5M442.8 547.8h1.5M449.8 547.6h1.5M434.9 593.3h1.5M440 607.8h1.5M447.3 586.3h1.5M449.6 616.9h1.5M456.1 574.9h1.5M439.1 603.9h1.5M442.9 582.2h1.5M450.9 589.1h1.5M448 596.9h1.5M446.6 583.4h1.5M450.2 591.2h1.5M449.4 584.7h1.5M449.2 617.7h1.5M450.4 601.8h1.5M441.9 584.4h1.5M451.2 597.8h1.5M441.1 595.7h1.5M449.1 592.5h1.5M453.8 599h1.5M410.7 549.6h1.5M396.2 550.2h1.5M430.1 557.6h1.5M412.7 545.7h1.5M404.3 541.7h1.5M417.1 550.3h1.5M403.3 555.2h1.5" stroke="#aaaaaa" stroke-width="1.5" fill="none"/>
<path d="M441.3 591.1h1.5M447.1 575.1h1.5M450.9 598h1.5M448.1 587.9h1.5M443.7 581.9h1.5M439.2 615.5h1.5M453.2 601.3h1.5M450.1 590.1h1.5M448.8 566.9h1.5M447.4 593.1h1.5M456.5 584.6h1.5M442.3 599.4h1.5M447.3 611.5h1.5M449.5 602h1.5M432.4 546.4h1.5M429.7 545.4h1.5M427.1 553.3h1.5M409.2 545.6h1.5M399.4 553.7h1.5M444.6 622.3h1.5M436 576.1h1.5M448.7 573.3h1.5M477.4 593.2h1.5M433.5 603.9h1.5M422.3 611.2h1.5" stroke="#a8a8a8" stroke-width="1.5" fill="none"/>
<path d="M452.3 537.9h1.5M446.1 548.5h1.5M465.4 540.5h1.5M450.6 548.4h1.5M451.6 540h1.5M447.3 546.4h1.5M447.9 538.8h1.5M447.5 549.5h1.5M442.2 554.1h1.5M450.6 560.3h1.5M457.1 549.7h1.5M451.1 550.3h1.5M448.6 549.7h1.5M457.3 546.3h1.5M446.1 559.8h1.5M437.4 551.4h1.5M447.6 593.6h1.5M449 586.3h1.5M443.7 576h1.5M448.2 606.1h1.5M446.2 587.3h1.5M450.2 610.7h1.5M452.1 589.6h1.5M446.1 574.1h1.5M457 598.6h1.5M454 569.8h1.5M448.1 578.4h1.5M455.7 582.7h1.5M456.6 568.2h1.5M455 615.9h1.5M440.8 597.6h1.5M446.7 568.7h1.5M455.6 584.9h1.5M452.7 580h1.5M450.2 586.3h1.5M440.3 573.2h1.5M453.7 562.2h1.5M447.8 574.5h1.5M450.6 556.1h1.5M448.9 574.2h1.5M452.8 608.5h1.5M446.9 578h1.5M445.8 623.1h1.5M447.7 598.4h1.5M446.9 581.5h1.5M445.4 599.1h1.5M451.7 584.9h1.5M443.5 592.7h1.5M451.8 567.8h1.5M455.4 599.1h1.5M448.9 602.5h1.5M446.5 603.9h1.5M438.1 616.5h1.5M450.7 596.6h1.5M444.3 599.6h1.5M417.7 553.4h1.5M433.2 549.2h1.5M408.2 544.8h1.5M420 539.4h1.5M429.1 551.8h1.5M410 547.3h1.5M403.6 552.5h1.5M419.4 541.8h1.5M413.5 544.6h1.5M433.5 555.6h1.5M428.3 553.3h1.5M405.2 547.7h1.5M418.5 551.5h1.5M399.4 553.1h1.5M397.8 543.8h1.5M469.9 568.3h1.5M440.3 579.1h1.5M425.2 591.7h1.5" stroke="#9a9a9a" stroke-width="1.5" fill="none"/>
<path d="M453.1 543.2h1.5M450.2 545.9h1.5M455.5 551.4h1.5M445.9 554.8h1.5M451.4 545.3h1.5M456.6 546.8h1.5M442.1 553.2h1.5M445.3 548.6h1.5M451.4 552.4h1.5M464.6 546.4h1.5M457.6 547.2h1.5M456.6 544.3h1.5M437 550.4h1.5M443.5 560.7h1.5M446.3 543.3h1.5M453 541h1.5M444.4 548.1h1.5M454 551.6h1.5M448.4 550.6h1.5M458.4 545.6h1.5M440.7 556h1.5M453.6 552.9h1.5M446.7 552.2h1.5M447.7 565.3h1.5M444.1 560.1h1.5M459.3 543.8h1.5M442.1 545.6h1.5M457.8 552.3h1.5M448.9 553.1h1.5M446.7 545.9h1.5M452 552.4h1.5M447.6 550.1h1.5M452.7 541.6h1.5M448.9 546.3h1.5M449.9 598.1h1.5M450.2 579.8h1.5M449.3 586.4h1.5M452.5 594.5h1.5M446.7 597.8h1.5M441.3 597.5h1.5M456.5 562.1h1.5M443.3 581.9h1.5M458.5 569.6h1.5M439.6 600.7h1.5M441.9 599.7h1.5M427.5 552.2h1.5M430.9 556.7h1.5M396.4 551.6h1.5M418.8 551.4h1.5" stroke="#8a8a8a" stroke-width="1.5" fill="none"/>
<path d="M445.8 546.8h1.5M444.9 552h1.5M458.4 552.3h1.5M456.3 556.9h1.5M467.9 554.9h1.5M441.6 548h1.5M455.3 553.3h1.5M438.7 551.5h1.5M458.4 542.4h1.5M446.7 549.3h1.5M451.9 539.1h1.5M453.1 558.6h1.5M439.2 560.6h1.5M452 555.5h1.5M453.3 547.6h1.5" stroke="#7a7a7a" stroke-width="1.5" fill="none"/>
<path d="M443.3 545.2h1.5M452.5 557.5h1.5M444.5 545.9h1.5M446.8 549.7h1.5M449.8 559.1h1.5M447.1 552.8h1.5M443 552.2h1.5M450.9 547.3h1.5M439.6 549h1.5M448.6 553.9h1.5M458.5 547.4h1.5M455.4 548.1h1.5M457.4 540.9h1.5M446.9 558h1.5M445.5 554.5h1.5M451.5 548.4h1.5M446.9 548.9h1.5M455.9 553.5h1.5M450.6 551.3h1.5M449.8 556h1.5M449.2 540.2h1.5M439 554.3h1.5M455.6 549.9h1.5M455.2 553.4h1.5" stroke="#6a6a6a" stroke-width="1.5" fill="none"/>
<path d="M449.5 554.5h1.5M449.2 548.9h1.5M448.3 552.8h1.5M446.1 547.4h1.5M457.5 554.7h1.5M451.5 545.8h1.5M445.3 546.9h1.5M446.5 555h1.5M455.2 548.1h1.5M459.7 545.3h1.5M442.5 557.8h1.5M446.9 548h1.5M444 551.4h1.5M446 556h1.5M447.7 560.8h1.5" stroke="#5a5a5a" stroke-width="1.5" fill="none"/>
</g>
<line x1="434.1" y1="514.2" x2="434.1" y2="631.5" stroke="#999" stroke-width="1.1"/>
<line x1="362.1" y1="564.3" x2="481.7" y2="564.3" stroke="#999" stroke-width="1.1"/>
<rect x="362.1" y="514.2" width="119.6" height="117.3" fill="none" stroke="#9a9a9a" stroke-width="1.3"/>
<path d="M362.1 628.5h-4M362.1 622.4h-2.5M362.1 616.3h-2.5M362.1 610.2h-2.5M362.1 604.1h-4M362.1 598h-2.5M362.1 591.9h-2.5M362.1 585.8h-2.5M362.1 579.7h-4M362.1 573.6h-2.5M362.1 567.5h-2.5M362.1 561.4h-2.5M362.1 555.3h-4M362.1 549.2h-2.5M362.1 543.1h-2.5M362.1 537h-2.5M362.1 530.9h-4M362.1 524.8h-2.5M362.1 518.7h-2.5M365.1 631.5v4M371.2 631.5v2.5M377.3 631.5v2.5M383.4 631.5v2.5M389.5 631.5v4M395.6 631.5v2.5M401.7 631.5v2.5M407.8 631.5v2.5M413.9 631.5v4M420 631.5v2.5M426.1 631.5v2.5M432.2 631.5v2.5M438.3 631.5v4M444.4 631.5v2.5M450.5 631.5v2.5M456.6 631.5v2.5M462.7 631.5v4M468.8 631.5v2.5M474.9 631.5v2.5" stroke="#b0b0b0" stroke-width="0.9" fill="none"/>
<rect x="363.6" y="527.2" width="70.5" height="38.2" fill="none" stroke="#000" stroke-width="3" stroke-dasharray="7.5 3.7"/>
<text transform="translate(381.1 640) rotate(-90)" font-size="6" fill="#666" stroke="none">10<tspan font-size="4.5" dy="-2">2</tspan></text>
<text transform="translate(410.7 640) rotate(-90)" font-size="6" fill="#666" stroke="none">10<tspan font-size="4.5" dy="-2">2</tspan></text>
<text transform="translate(439.5 640) rotate(-90)" font-size="6" fill="#666" stroke="none">10<tspan font-size="4.5" dy="-2">2</tspan></text>
<text transform="translate(469.1 640) rotate(-90)" font-size="6" fill="#666" stroke="none">10<tspan font-size="4.5" dy="-2">2</tspan></text>
<text transform="translate(357.6 531) rotate(-90)" font-size="6" fill="#666" stroke="none">10<tspan font-size="4.5" dy="-2">2</tspan></text>
<text transform="translate(357.6 560) rotate(-90)" font-size="6" fill="#666" stroke="none">10<tspan font-size="4.5" dy="-2">2</tspan></text>
<text transform="translate(357.6 588) rotate(-90)" font-size="6" fill="#666" stroke="none">10<tspan font-size="4.5" dy="-2">2</tspan></text>
<text transform="translate(357.6 617) rotate(-90)" font-size="6" fill="#666" stroke="none">10<tspan font-size="4.5" dy="-2">2</tspan></text>
<text transform="translate(494.1 508.22) rotate(90)" font-size="21" fill="#000" stroke="#000" textLength="43.94" lengthAdjust="spacingAndGlyphs">TCRβ</text>
<text transform="translate(502.3 553) rotate(90)" font-size="14" style="stroke-width:0.45px" fill="#000" stroke="#000" textLength="15.81" lengthAdjust="spacingAndGlyphs">int</text>
<text transform="translate(494.1 573.6) rotate(90)" font-size="21" fill="#000" stroke="#000" textLength="6.2" lengthAdjust="spacingAndGlyphs">/</text>
<text transform="translate(494.1 582.56) rotate(90)" font-size="21" fill="#000" stroke="#000" textLength="42.22" lengthAdjust="spacingAndGlyphs">CD69</text>
<text transform="translate(500.2 624.18) rotate(90)" font-size="14" style="stroke-width:0.45px" fill="#000" stroke="#000" textLength="27.57" lengthAdjust="spacingAndGlyphs">+ve</text>
<clipPath id="c7"><rect x="54.6" y="804.6" width="97.6" height="97.7"/></clipPath>
<g clip-path="url(#c7)">
<ellipse cx="125" cy="829" rx="8" ry="5" transform="rotate(-15 125 829)" fill="#000" opacity="0.55" filter="url(#b1)"/>
<ellipse cx="125" cy="828" rx="15" ry="9.5" transform="rotate(-25 125 828)" fill="#000" opacity="0.3" filter="url(#b2)"/>
<ellipse cx="128" cy="825" rx="22" ry="14" transform="rotate(-35 128 825)" fill="#000" opacity="0.1" filter="url(#b3)"/>
<rect x="58" y="831" width="50" height="15" fill="#000" opacity="0.06" filter="url(#b3)"/>
<path d="M56 817L110 819.5L110 831L56 827z" fill="#000" opacity="0.38" filter="url(#b1)"/>
<path d="M100 822L120 818L128 838L105 840z" fill="#000" opacity="0.15" filter="url(#b2)"/>
<ellipse cx="84" cy="866" rx="38" ry="19" transform="rotate(-52 84 866)" fill="#000" opacity="0.25" filter="url(#b3)"/>
<ellipse cx="78" cy="880" rx="20" ry="14" transform="rotate(-30 78 880)" fill="#000" opacity="0.1" filter="url(#b3)"/>
<ellipse cx="115" cy="862" rx="25" ry="18" transform="rotate(-30 115 862)" fill="#000" opacity="0.05" filter="url(#b3)"/>
<g filter="url(#b0)">
<path d="M115.1 858.8h1.7M137.5 858.9h1.7M99.6 864.7h1.7M111.2 842.6h1.7M97.6 880.6h1.7M144.8 862h1.7M112.5 852.3h1.7M125 866.2h1.7M103.3 866.6h1.7M131 864.9h1.7M126.2 855.9h1.7M137.3 872.9h1.7M128.3 858.2h1.7M119.2 868.6h1.7M67.3 843.6h1.7M70.9 835.2h1.7M88.5 841.4h1.7M89 843.4h1.7M59.2 877.2h1.7M144.6 838.9h1.7M86.3 865.2h1.7M101 860.5h1.7M122.1 815.4h1.7M125.3 882.2h1.7M137.1 864.8h1.7M139.4 876.9h1.7M112.6 836.6h1.7M148.7 867.9h1.7M66.2 865.3h1.7M142.3 877.4h1.7M113.4 892.2h1.7M103 862h1.7M60.9 845h1.7M59.4 854.4h1.7" stroke="#d2d2d2" stroke-width="1.7" fill="none"/>
<path d="M126.6 854.1h1.7M128.7 860.4h1.7M119.5 883.6h1.7M141.9 870.4h1.7M129.1 866.4h1.7M109.4 888.9h1.7M107.2 856.2h1.7M115.9 878.2h1.7M142 847.9h1.7M135.7 833.6h1.7M107.2 869.3h1.7M107.8 860.7h1.7M115.1 865.9h1.7M118.2 860.9h1.7M60.8 844.7h1.7M83.9 844.9h1.7M103.9 845.3h1.7M58.7 832.3h1.7M100.1 831.2h1.7M75 837.6h1.7M88.5 839.4h1.7M130.9 812h1.7M73.8 840.6h1.7M62.3 856.3h1.7M138.4 855.3h1.7M121.8 826.2h1.7M59.1 808h1.7M94.4 875.3h1.7M104.8 817.2h1.7M108.8 844.6h1.7M106.4 899.2h1.7M57.7 845.3h1.7M74.2 850.8h1.7M142.7 894.6h1.7M59.8 831.4h1.7" stroke="#c8c8c8" stroke-width="1.7" fill="none"/>
<path d="M66.5 885.4h1.7M86.8 855.7h1.7M82.3 865.5h1.7M91 863.4h1.7M67.4 888.3h1.7M90.9 843.4h1.7M77.3 886.1h1.7M56.9 880.7h1.7M89.4 844.7h1.7M77.6 870.3h1.7M110.8 867.4h1.7M111.2 855.5h1.7M73.9 874.2h1.7M71.4 863.4h1.7M125.4 853.4h1.7M115.3 887.9h1.7M105.5 877.4h1.7M138.9 855.9h1.7M108.7 868.4h1.7M119.8 877.5h1.7M113.7 841.9h1.7M127.5 856.5h1.7M134.6 879.3h1.7M119.2 864.7h1.7M124.8 849.4h1.7M123.2 852.2h1.7M135.3 850.6h1.7M120.4 868.2h1.7M100.3 858.8h1.7M111.2 862.7h1.7M112.4 867.9h1.7M119.2 852.8h1.7M130.1 862.9h1.7M102.6 832.1h1.7M80.2 836.6h1.7" stroke="#c4c4c4" stroke-width="1.7" fill="none"/>
<path d="M110.5 864.9h1.7M139.5 875.1h1.7M147.7 864.1h1.7M123.2 867.5h1.7M111 866.7h1.7M121.7 853.9h1.7M87.5 871.7h1.7M136 864.7h1.7M125.3 886.4h1.7M130.7 844.1h1.7M132.4 863.6h1.7M129.3 835.9h1.7M105.4 873.5h1.7M128.5 880.3h1.7M134.5 859.6h1.7M105.1 871h1.7M107.6 868.3h1.7M118.8 883.4h1.7M111.8 837.5h1.7M102 834h1.7M94.9 838.7h1.7M85.6 836h1.7M83.3 832.7h1.7M143.7 823.5h1.7M78.4 809.3h1.7M57.7 871.5h1.7M87.3 892.7h1.7M106.4 891.1h1.7M107 873.4h1.7M139.7 859.1h1.7M74.2 851.1h1.7M130.6 852.9h1.7M96.9 838.4h1.7M102.7 836.6h1.7M126.1 894.2h1.7M73.1 819.7h1.7M149.2 863.5h1.7M124.5 886.7h1.7M99 853.3h1.7M123.3 817.8h1.7M105.2 899.6h1.7M75.7 833.8h1.7M104.8 874.5h1.7M98.6 822h1.7M120.3 847.7h1.7M125.6 894h1.7" stroke="#bdbdbd" stroke-width="1.7" fill="none"/>
<path d="M78.6 887.3h1.7M65.1 888.1h1.7M79.7 887.1h1.7M99.1 865.7h1.7M81.2 854.1h1.7M100.5 865.7h1.7M69.1 883.1h1.7M72.9 898.9h1.7M75.1 867.5h1.7M79.5 862.8h1.7M91 829.7h1.7M61.5 880.9h1.7M65 900.5h1.7M73.1 865.4h1.7M86.2 856.4h1.7M89.5 846.7h1.7M89.2 845.2h1.7M85.8 865.7h1.7M96.1 877.6h1.7M86.4 861.4h1.7M120.9 856.8h1.7M112.4 877.4h1.7M121.2 828.9h1.7M121.5 834.8h1.7M118.1 887.6h1.7M113.7 853h1.7M130.3 882.9h1.7M111.7 881.1h1.7M116.6 858.2h1.7M121 859.1h1.7M90.3 865.9h1.7M118.7 851.4h1.7M76 838.6h1.7M92.4 840.7h1.7M102.8 831.9h1.7" stroke="#b8b8b8" stroke-width="1.7" fill="none"/>
<path d="M92.6 829.3h1.7M62.7 819.6h1.7M96.2 823.9h1.7M105.8 830h1.7M61.5 825.3h1.7M79.4 824.9h1.7M90.7 827.9h1.7M75.4 819.9h1.7M95.8 820.1h1.7M84.1 819.5h1.7M109.5 825.7h1.7M75.3 827.6h1.7M105.4 826.7h1.7M107.3 820.4h1.7M98.8 864.7h1.7M106.3 853.8h1.7M93.7 868.1h1.7M62 886.7h1.7M65.1 864h1.7M85.3 861.7h1.7M87.4 882.7h1.7M84.8 871.1h1.7M83.8 861h1.7M81 885.5h1.7M101 861.7h1.7M89.7 862.1h1.7M76.5 868.4h1.7M111.2 852.5h1.7M65.3 859.3h1.7M77.5 898.8h1.7M79.6 873.6h1.7M95.6 865.2h1.7M65.1 880.1h1.7M73.8 853.8h1.7M80.1 878.2h1.7M77.9 866.8h1.7M77.3 874.4h1.7M98.7 853.4h1.7M92.6 882.3h1.7M84.1 850.5h1.7" stroke="#b5b5b5" stroke-width="1.7" fill="none"/>
<path d="M83.4 818.3h1.7M87.6 827.1h1.7M86.4 819.3h1.7M95.9 821.4h1.7M64.1 818.2h1.7M84.9 823.2h1.7M72.2 820.3h1.7M100.3 827.4h1.7M77.7 822.1h1.7M78.6 820.3h1.7M78.7 825.4h1.7M96.7 820.6h1.7M74.4 822h1.7M93.8 848.2h1.7M108.2 861.9h1.7M98.2 845.6h1.7M93.4 879.4h1.7M74.4 881.3h1.7M104.3 854.9h1.7M67.2 863.7h1.7M71.3 883.9h1.7M86.2 880.1h1.7M67.2 889.9h1.7M73.8 882.1h1.7M84.2 866.2h1.7M90.3 861.5h1.7M75.8 878h1.7M86.5 848.5h1.7M77.1 876.9h1.7M79.1 858.1h1.7M79.2 888.5h1.7M79.8 873.4h1.7" stroke="#aaaaaa" stroke-width="1.7" fill="none"/>
<path d="M69.3 862.7h1.7M114.3 849.2h1.7M70.2 897.6h1.7M80.6 878.9h1.7M94.2 858.3h1.7M80.8 864.8h1.7M87.9 881.5h1.7M83.4 865.5h1.7M87.6 867.1h1.7M88.9 871.4h1.7M57.2 868.3h1.7M106.5 845.8h1.7M104.5 836.8h1.7M66.3 871.5h1.7M67 884h1.7M74.3 878.2h1.7M80.7 848.3h1.7M125.6 862.6h1.7M110.4 882.6h1.7M106.9 865.9h1.7M119.8 869.7h1.7M125.2 851.8h1.7M121.7 852.2h1.7M113 878.4h1.7M111.6 838.1h1.7M123.5 876.2h1.7M123.8 868.7h1.7M111.9 889.6h1.7M131.7 856.7h1.7M80.5 842.5h1.7M99 833.6h1.7M102.1 837.9h1.7M59.4 843.4h1.7" stroke="#a8a8a8" stroke-width="1.7" fill="none"/>
<path d="M69.4 827.1h1.7M107.1 820.7h1.7M104.8 828.6h1.7M99.9 819.6h1.7M61.1 823.4h1.7M69.2 825.1h1.7M72.8 827.7h1.7M96 822.1h1.7M90.7 822.8h1.7M85.2 822.4h1.7M86.9 818.6h1.7M61.4 827.7h1.7M81.7 826.1h1.7M58.7 819.2h1.7M59.6 818.7h1.7M85.7 821.4h1.7M98.7 828.2h1.7M58.6 824h1.7M71.1 822.4h1.7M110 830.5h1.7M70.6 828.4h1.7M72.3 818h1.7M92.3 827h1.7M89.1 829.3h1.7M78.9 825.3h1.7M87.8 852.9h1.7M96.2 885.9h1.7M97.4 862.5h1.7M104.5 851h1.7M91 832.1h1.7M72.6 876h1.7M73.3 889.8h1.7M75 880.4h1.7M58.1 896.9h1.7M66.5 870.5h1.7M82.4 887.7h1.7M89.4 890h1.7M94.3 852.5h1.7M86 891.4h1.7M74.6 848.6h1.7M82.3 878.7h1.7M68.4 880.4h1.7M89.6 878.7h1.7M75.2 885h1.7M96.8 858.7h1.7M112.6 863.3h1.7M84 845.3h1.7M80.8 861.8h1.7M100.1 871.2h1.7M82.3 875.7h1.7M93.4 871.2h1.7M73.5 881.4h1.7M88.5 873.1h1.7M92.8 868.2h1.7M83.1 881.6h1.7M69 865.2h1.7M76.1 857.4h1.7M64.5 865.1h1.7M89.9 870.3h1.7M75 871.8h1.7M79.6 845.5h1.7M83 846.3h1.7M78.7 876.2h1.7M78.1 880.5h1.7M80.1 871.3h1.7M88.2 860.2h1.7M82.2 882.6h1.7M69 876.6h1.7M95.1 852.5h1.7M109.2 872.4h1.7M92.8 855.3h1.7M115.2 866.4h1.7M122.9 886.4h1.7M104 841.8h1.7M128.2 868.5h1.7M119.3 840.3h1.7M107.5 858.1h1.7M123.3 851.5h1.7M125.1 859.3h1.7M88.2 834.1h1.7M71.8 845.4h1.7M84 839.1h1.7M106.5 841.1h1.7M95.3 843.5h1.7M83.9 833.9h1.7" stroke="#9a9a9a" stroke-width="1.7" fill="none"/>
<path d="M125.8 833.1h1.7M127.1 835.4h1.7M118.6 826.3h1.7M136.5 824.9h1.7M117.7 833.6h1.7M119.7 828.3h1.7M120.2 826.4h1.7M133.3 824.8h1.7M120.8 830.9h1.7M129.1 824.8h1.7M137.8 818.9h1.7M124 834.9h1.7M112.4 827.2h1.7M135.2 824.8h1.7M129.7 833.4h1.7M120 827.3h1.7M124.2 836.5h1.7M118.1 832.5h1.7M117.5 832.8h1.7M116.3 828.1h1.7M104 828.8h1.7M67.7 819h1.7M109.1 821.7h1.7M84 819.3h1.7M85.7 829h1.7M59.4 825.7h1.7M72.9 818.3h1.7M72.6 818.6h1.7M94.6 820h1.7M86 828.8h1.7M97.1 828.1h1.7M99.1 822.6h1.7M56.3 818.8h1.7M100.9 825.4h1.7M70.2 817.2h1.7M104.5 826.7h1.7M87.2 821.3h1.7M67.7 826.6h1.7M56.7 820.5h1.7M80.6 818.1h1.7M107.7 822.1h1.7M83.5 821.6h1.7M99.3 823.7h1.7M68.2 827.8h1.7M106.6 824.1h1.7M77.3 867.2h1.7M80.5 887.8h1.7M90.4 880.7h1.7M79.1 870.8h1.7M61.8 891.1h1.7M69.8 883.6h1.7M75.7 874.6h1.7M71.7 885.4h1.7M108.7 870h1.7M80.8 858.8h1.7M97.4 841.8h1.7M100.7 872.1h1.7M91.4 885h1.7M77.5 858.9h1.7M96.2 837.9h1.7M84.9 854.5h1.7M96.6 861.7h1.7M90.6 867.3h1.7M77.9 879.3h1.7M81.5 846.7h1.7M82.9 871.2h1.7M59 876.3h1.7M78.2 893.2h1.7M103.7 861.4h1.7M71.6 855.2h1.7M93.8 861.3h1.7M98.4 853.3h1.7M77.6 842.6h1.7M68.1 852.9h1.7M96.7 872.5h1.7M97.9 868.4h1.7M107.6 872.1h1.7M71.9 880.7h1.7M90.6 862.9h1.7" stroke="#8a8a8a" stroke-width="1.7" fill="none"/>
<path d="M132.4 832.6h1.7M124.8 828.5h1.7M121.7 827.1h1.7M126.7 825.5h1.7M121.9 831.4h1.7M131.4 824h1.7M118 828.9h1.7M122.6 829.5h1.7M117.3 827.8h1.7M134.8 830.1h1.7M124.1 828.3h1.7M124.9 826.9h1.7M124.6 838.9h1.7M110.5 831.9h1.7M127.2 826.4h1.7M115.2 832.2h1.7M127.8 834.4h1.7M118.7 837.7h1.7M133.9 823.1h1.7M117.5 826.5h1.7M133 821.7h1.7M81.2 820.8h1.7M60.2 824.1h1.7M70.4 819.2h1.7M102.2 822.5h1.7M85.4 822.8h1.7M86.3 824.9h1.7M108.1 819.6h1.7M66.3 819h1.7M77.8 820.2h1.7M85.9 824.1h1.7M64.5 828.1h1.7M59.1 823.3h1.7M100.4 822.1h1.7M82.3 827.8h1.7M87.2 823.5h1.7M77.1 819.8h1.7M79.8 822.8h1.7M75.7 827.7h1.7M87.9 823.1h1.7M94.9 819.8h1.7M106.8 823.6h1.7M89.3 829.2h1.7M103.2 863.6h1.7M90.4 853.1h1.7M105 845h1.7M76.8 859.8h1.7M75.8 854.2h1.7M73 867.3h1.7M85.9 845.5h1.7M79.8 878.7h1.7M83.2 854.9h1.7M106.6 858.2h1.7M91.4 859.3h1.7M78.3 883.3h1.7M73.2 850.4h1.7M101.7 875h1.7M116.2 838.4h1.7M74.9 876.2h1.7M66.3 870.6h1.7M86.7 877.1h1.7M93.4 862.5h1.7" stroke="#7a7a7a" stroke-width="1.7" fill="none"/>
<path d="M124 830.8h1.7M114.2 825.4h1.7M123.4 827.5h1.7M123.4 828.6h1.7M121.3 824.7h1.7M118.8 828.4h1.7M131.5 822.2h1.7M122 824.7h1.7M122.6 828.8h1.7M129.1 826.3h1.7M129.9 830.2h1.7M121.8 829.7h1.7M126.2 828.7h1.7M125.4 828.3h1.7M121.5 830.3h1.7M127.1 831.2h1.7M120.5 829.6h1.7M123 828.5h1.7M95.1 826.6h1.7M92.8 825.3h1.7M57.8 824.8h1.7M67.8 826.3h1.7M60.5 826h1.7M67.8 827.2h1.7M73.5 828.7h1.7M80.1 818.7h1.7M102.5 824.2h1.7M84.3 820h1.7M63.5 824.7h1.7M98.3 825.3h1.7M85 858.4h1.7M90.6 842.8h1.7M70.6 886.9h1.7M83.3 874.4h1.7M62.8 890.8h1.7M87.3 859.2h1.7M96.4 854.5h1.7M102.8 853.3h1.7M85.8 877h1.7M74.7 876.8h1.7M98.2 840.4h1.7M101 845.8h1.7M84.3 872.1h1.7M79.7 885.5h1.7M77 888.7h1.7" stroke="#6a6a6a" stroke-width="1.7" fill="none"/>
<path d="M127.9 833.3h1.7M126.1 824.9h1.7M112.2 829.4h1.7M112.9 823.9h1.7M114.2 831.3h1.7M114.8 833.4h1.7M122.3 829.4h1.7M110 829.3h1.7M137.1 825.9h1.7M128.4 833.2h1.7M127.2 829.6h1.7M119.9 823.2h1.7M119.6 823.2h1.7M124.2 824.1h1.7M119.7 820h1.7M123.8 830.2h1.7M125.8 820.1h1.7M132.6 826.6h1.7M126.2 829.8h1.7M60.5 820.3h1.7M60.9 821.8h1.7M79 829h1.7M81.2 824.6h1.7M73.7 817.5h1.7M108.3 827.9h1.7M57.4 825.4h1.7M69.5 828h1.7M61.6 823.3h1.7M58.1 819h1.7M90.8 821.2h1.7M58.3 819h1.7M87.5 819.3h1.7M58 820.2h1.7M63.4 825.4h1.7M60.6 826.2h1.7M68.2 824.3h1.7M102.4 879.5h1.7M63.5 860.6h1.7M103.6 855.3h1.7M85.1 862.7h1.7M83.8 851h1.7M96.4 845.7h1.7M84.8 858h1.7M68.3 873.8h1.7M71.6 856.2h1.7M100.6 864.4h1.7" stroke="#5a5a5a" stroke-width="1.7" fill="none"/>
</g>
<path d="M121.8 862.7h1.5M111.3 880.7h1.5M117.3 880.1h1.5M134.2 869.4h1.5M134 858.5h1.5M115.2 869.8h1.5M127.3 871.7h1.5M103.6 849.9h1.5M103.2 874.5h1.5M128.1 859.5h1.5M118.5 892.8h1.5M103.1 866.1h1.5M124.1 880.4h1.5M98.2 841.8h1.5M62.4 835.5h1.5M94.1 833.5h1.5M68.7 831.2h1.5M61.7 841.9h1.5M80 836.8h1.5M98.5 842.4h1.5M80.6 845.3h1.5M140.1 831.6h1.5M135.1 856.5h1.5M143.2 817.8h1.5M108.6 844.9h1.5M125.5 896.9h1.5M125.8 880.7h1.5M71 817.7h1.5M137.3 871.2h1.5M55.8 878.5h1.5M149.1 820.6h1.5M146.6 865h1.5M122.6 861.3h1.5M64.6 827.2h1.5M69 859.1h1.5M86.6 806.5h1.5M97.1 842.4h1.5M131.4 862.9h1.5M62.9 826.6h1.5M132.1 895.2h1.5M94.8 892.9h1.5M75.6 897.8h1.5M108.7 861.3h1.5M137.6 856h1.5M72.8 849h1.5M56.2 807.7h1.5M122.2 882.4h1.5M85.9 888.3h1.5M148.1 881.6h1.5" stroke="#d2d2d2" stroke-width="1.5" fill="none"/>
<path d="M116.8 863.9h1.5M126.3 852.7h1.5M127.1 873.1h1.5M102.5 874.2h1.5M118.5 853.2h1.5M122.9 878.2h1.5M128.3 872.4h1.5M117.4 836.6h1.5M127 849.8h1.5M114.7 843.6h1.5M122.8 858.2h1.5M112.1 852.7h1.5M119.9 852.9h1.5M135.5 861.8h1.5M107.3 836.2h1.5M64.1 842.5h1.5M72.6 832.8h1.5M84.8 832.4h1.5M75.7 834.6h1.5M99.8 837.9h1.5M104 843.3h1.5M58.8 831.2h1.5M85.9 864.9h1.5M92.1 868.2h1.5M123.6 885h1.5M136.7 836.2h1.5M55.7 839.3h1.5M131.1 873h1.5M83.5 842.3h1.5M113.1 838.5h1.5M141.5 808.3h1.5M122 861h1.5M131.7 881.2h1.5M104.5 887h1.5M138.1 830.6h1.5M111 897.8h1.5M117 844.5h1.5M108.4 891.5h1.5M109.7 826h1.5M115.5 865.8h1.5M77 814.5h1.5M112.9 875.4h1.5M140.7 865.3h1.5M128.6 846.5h1.5M99.7 871.7h1.5M100.2 819.1h1.5M142.2 884.2h1.5M78.6 819.3h1.5M88.9 884.3h1.5M90.4 838.5h1.5M68.9 888.5h1.5M78.8 883.7h1.5M103.2 896.9h1.5M59.4 827.8h1.5M130.7 900.1h1.5M133.5 895.7h1.5M128.4 806h1.5M145.4 812.6h1.5" stroke="#c8c8c8" stroke-width="1.5" fill="none"/>
<path d="M83.4 859.7h1.5M101.6 853.2h1.5M99.9 877.9h1.5M80.4 867.2h1.5M90.6 857.6h1.5M70.8 883.2h1.5M107.3 861.5h1.5M59.6 893.1h1.5M87.8 864.6h1.5M78.3 862.7h1.5M81.4 850.6h1.5M101.2 858h1.5M94.3 830.3h1.5M80.6 862.1h1.5M80.2 851h1.5M97.4 851.6h1.5M103.2 845.7h1.5M76.6 871.5h1.5M97.2 839.4h1.5M99.4 861.2h1.5M84.9 850.1h1.5M89.4 870.4h1.5M70.7 885h1.5M96.1 839.4h1.5M75.3 885.1h1.5M99.9 865.4h1.5M86.4 861.7h1.5M65.5 874.7h1.5M84.2 845.3h1.5M71.8 872.2h1.5M113.2 879.1h1.5M118.9 865h1.5M130 846.3h1.5M118 840.2h1.5M120.7 871.3h1.5M113.2 862.8h1.5M102.9 844.6h1.5M135.3 863.6h1.5M126.8 876.9h1.5M78.9 839.1h1.5M65.3 842.7h1.5M88.2 840.1h1.5M66 841.6h1.5M107.5 842.3h1.5M98.9 831.4h1.5M80.2 834.8h1.5" stroke="#c4c4c4" stroke-width="1.5" fill="none"/>
<path d="M124.3 879.5h1.5M104 861.2h1.5M115.9 868.4h1.5M118.3 867h1.5M139.5 859.4h1.5M123.8 833.1h1.5M100.5 879.4h1.5M116.8 851.1h1.5M121.1 876.1h1.5M114.7 862.9h1.5M123.2 868.4h1.5M118.7 873h1.5M118.6 863.7h1.5M116.2 863.3h1.5M119.8 842.6h1.5M128.8 855.3h1.5M122 867.4h1.5M109.2 867.7h1.5M115.8 862.6h1.5M149.8 853.8h1.5M139.4 855.3h1.5M104.8 876.4h1.5M124.9 862.8h1.5M135.1 868.7h1.5M101.7 865h1.5M107.4 842.7h1.5M69.1 834.3h1.5M72 837.1h1.5M89.9 839.4h1.5M72.1 832.9h1.5M70.9 838.1h1.5M102.1 836.4h1.5M65.9 860.2h1.5M77.9 817.1h1.5M59.5 870.6h1.5M73.3 845.2h1.5M108.7 882.3h1.5M109.6 853.8h1.5M113.4 862.5h1.5M70.8 873.4h1.5M67.6 858.8h1.5M123.8 849.4h1.5M117.3 892.5h1.5M136.1 896.6h1.5M57.5 821.8h1.5M79.4 872.4h1.5M63.7 826.6h1.5M76.6 846.9h1.5M89.6 846.7h1.5M83.6 855.7h1.5M100.7 846.7h1.5M111 899.4h1.5M121.7 810.3h1.5M75.7 867.9h1.5M97.9 865.3h1.5M117.6 875.9h1.5M72.8 854.7h1.5M98.7 885.8h1.5M83.7 891.9h1.5M144.4 876.4h1.5M137.8 887.7h1.5M116.3 848.2h1.5M93.3 857.8h1.5M89.3 884.3h1.5M135.3 832.3h1.5" stroke="#bdbdbd" stroke-width="1.5" fill="none"/>
<path d="M67.5 879.7h1.5M72.6 884.4h1.5M106.1 845.1h1.5M90.6 860.7h1.5M74.5 878.6h1.5M83 871h1.5M102.9 869.8h1.5M92.6 860h1.5M82.3 897h1.5M85.1 860.9h1.5M65 880.1h1.5M105.4 850h1.5M104.8 871.7h1.5M82.8 885.3h1.5M96.4 849.4h1.5M65.6 864.8h1.5M78.9 880.9h1.5M76.6 880.3h1.5M65.1 885.4h1.5M84.7 851.6h1.5M63.6 878.2h1.5M66.9 860.9h1.5M89.2 854.9h1.5M90.9 870.2h1.5M102.8 853.3h1.5M77.9 860.1h1.5M98.2 850.1h1.5M110.9 882.3h1.5M130.4 879.6h1.5M117.1 878.6h1.5M110.3 864.4h1.5M115.7 895.1h1.5M111.2 866.2h1.5M107 856.3h1.5M122.8 860.9h1.5M129.3 875.8h1.5M108.5 876.7h1.5M103.9 881h1.5M124.8 853.1h1.5M111.8 843h1.5M109.7 868.9h1.5M116.1 839.6h1.5M147.4 857.5h1.5M134.2 865.4h1.5M112.7 865.1h1.5M89.1 834.8h1.5M80 843.5h1.5M61.1 840.4h1.5M95.4 838.9h1.5M65 841.4h1.5M103.5 837.8h1.5" stroke="#b8b8b8" stroke-width="1.5" fill="none"/>
<path d="M87.5 819.3h1.5M79.5 818.9h1.5M103.8 823.8h1.5M100.1 830.6h1.5M102.3 821.3h1.5M79.5 822.7h1.5M78.6 825.6h1.5M108.6 829.6h1.5M105.5 825.4h1.5M82.3 824.2h1.5M79.3 822.1h1.5M100.3 820h1.5M84.2 864.3h1.5M104.2 867.7h1.5M110.4 856.8h1.5M98.9 860.1h1.5M91.2 854.7h1.5M123.5 839.1h1.5M81.9 867.2h1.5M86.8 871.6h1.5M98.6 863.5h1.5M75.4 864.8h1.5M86.5 859.4h1.5M94.7 855.1h1.5M75.2 870.4h1.5M109.2 827h1.5M82.9 871.8h1.5M89.5 877.3h1.5M69.9 892.4h1.5M78.9 852.2h1.5M90 861h1.5M83.1 857.9h1.5M83.3 886.4h1.5M112.8 841.8h1.5M95.2 870h1.5" stroke="#b5b5b5" stroke-width="1.5" fill="none"/>
<path d="M59 818h1.5M79.5 825h1.5M95.8 819.9h1.5M70.3 826.9h1.5M75 825.9h1.5M67.6 819.6h1.5M67.7 822.4h1.5M101.2 819.9h1.5M109.4 825.4h1.5M60.1 822.6h1.5M76.7 817.5h1.5M91.1 825.3h1.5M107.3 830.8h1.5M64.9 821h1.5M85.6 822.6h1.5M68.2 824h1.5M102 819.2h1.5M90.3 828.8h1.5M75.8 872.4h1.5M79.6 868.6h1.5M98.8 850h1.5M82 862.4h1.5M89.3 876.1h1.5M81.7 847.4h1.5M104.5 837.6h1.5M87.9 843.3h1.5M77.4 861.8h1.5M86.8 869.3h1.5M100.1 860.3h1.5M78.5 877.6h1.5M73.9 880.2h1.5M103 862.3h1.5M106.1 852.3h1.5M64.1 875.8h1.5M101.9 843.2h1.5M58.3 890.1h1.5M102.7 843h1.5M76.1 862.8h1.5M78.4 897.2h1.5" stroke="#aaaaaa" stroke-width="1.5" fill="none"/>
<path d="M60.9 869.3h1.5M83 851.3h1.5M81 852.9h1.5M74.2 884.5h1.5M72.9 856.8h1.5M80 859.5h1.5M73.9 862h1.5M79.4 855h1.5M77.3 871.9h1.5M71.4 877.8h1.5M99.1 850.1h1.5M87.6 867.9h1.5M85.4 879.1h1.5M65.7 867.4h1.5M72.8 882.9h1.5M68.9 877.3h1.5M74.6 855.6h1.5M80.8 888.7h1.5M80.3 855.3h1.5M89.2 881.5h1.5M106.9 850.7h1.5M102.1 869.8h1.5M88.4 875.8h1.5M86.8 851.7h1.5M94 859.3h1.5M95.2 859.8h1.5M62.2 864.9h1.5M98.1 839.2h1.5M94.7 873.3h1.5M111.4 856.5h1.5M88.5 874.8h1.5M101.1 854.7h1.5M100.1 873.9h1.5M116.9 884h1.5M102.4 841.9h1.5M118.7 854.7h1.5M106.8 862.5h1.5M112.8 875.9h1.5M122.1 866.1h1.5M92.7 847.4h1.5M124.8 839.9h1.5M128.8 879.2h1.5M98.6 854.6h1.5M122.4 878.1h1.5M127.9 860.7h1.5M117.2 859.3h1.5M110.5 853.7h1.5M107.4 863.5h1.5M124.3 872h1.5M106.5 878.4h1.5M102 850h1.5M100.2 870.2h1.5M105.3 859.1h1.5M101.6 845.8h1.5M84.9 841.3h1.5M68.2 841.2h1.5M107 842h1.5M59.7 838.4h1.5M88.5 834h1.5M67.7 838.7h1.5" stroke="#a8a8a8" stroke-width="1.5" fill="none"/>
<path d="M74.3 820.6h1.5M68.5 817.1h1.5M60.9 821h1.5M84.8 822.8h1.5M97.7 829h1.5M75.5 820.3h1.5M100 819.4h1.5M99.7 819.6h1.5M92.7 825.9h1.5M82.5 819.7h1.5M67 817.2h1.5M91.6 828.8h1.5M82.1 823.9h1.5M108.8 830.9h1.5M109.3 826.3h1.5M98.2 825.1h1.5M104.4 820.3h1.5M100.6 823.5h1.5M74.7 824.1h1.5M59.5 820.4h1.5M103.4 820.3h1.5M80.7 822h1.5M67.3 817.1h1.5M93.1 830.2h1.5M94.1 826.4h1.5M87.4 867.5h1.5M68.7 896.5h1.5M105.9 861.7h1.5M80.4 848.7h1.5M71.8 874.1h1.5M82 829.3h1.5M88 863.1h1.5M74.9 875.6h1.5M64.4 869.4h1.5M88.8 894.4h1.5M98.4 859.8h1.5M56.4 883h1.5M102.2 872.1h1.5M88.8 876.5h1.5M80 883.3h1.5M99.9 849.1h1.5M76.7 866.4h1.5M70.2 849.1h1.5M83.5 873.2h1.5M93.7 848.4h1.5M88.9 871.2h1.5M86.2 836.4h1.5M86.9 865.1h1.5M81.1 871h1.5M78.3 876.3h1.5M80.7 861.6h1.5M99.3 871.8h1.5M107.2 861.5h1.5M89.2 875.5h1.5M83.2 878.9h1.5M94.2 865h1.5M90.5 883.8h1.5M87.4 863.4h1.5M61.4 869.4h1.5M108.1 868.8h1.5M83.5 871.5h1.5M82.1 863.8h1.5M78 856.3h1.5M101.9 844.5h1.5M73.2 887.4h1.5M93.7 869h1.5M65.4 879.8h1.5M87.3 879.7h1.5M85.8 860.4h1.5M68.9 885.3h1.5M111.6 866.1h1.5M130.5 876h1.5M119.7 856.6h1.5M120 851.7h1.5M123 872.8h1.5M131.2 855.7h1.5M125.5 852.2h1.5M87.8 857.8h1.5M144.4 859.3h1.5M84.5 875.6h1.5M115 848.6h1.5M102.1 846h1.5M104.4 878h1.5M118.2 861.9h1.5M136.5 853.4h1.5M139.7 849.9h1.5M125.8 857.9h1.5M120.9 861h1.5M138.3 852.1h1.5M123 890.4h1.5M100 835h1.5M80.4 840.6h1.5M64.9 837.6h1.5M89.3 842h1.5M74.8 832.5h1.5M90.6 839.7h1.5M82.8 833.8h1.5" stroke="#9a9a9a" stroke-width="1.5" fill="none"/>
<path d="M119.7 832.3h1.5M127.2 837.2h1.5M117.3 830.2h1.5M124.8 828.8h1.5M132.5 823.5h1.5M131.6 830h1.5M134.6 832.7h1.5M136.7 833.8h1.5M134 820.6h1.5M123.3 830h1.5M121.8 831.7h1.5M126.7 828h1.5M121.7 825.6h1.5M124.2 835.5h1.5M124.4 832.6h1.5M138.9 819.6h1.5M134.8 831.1h1.5M123.9 826h1.5M122.7 829.6h1.5M129.5 826.7h1.5M120.7 834h1.5M129.2 837.3h1.5M123.4 824.4h1.5M125.1 824.5h1.5M124 828.6h1.5M119.4 835.9h1.5M117.9 838.3h1.5M120.8 835.1h1.5M132.3 828.4h1.5M125.7 825.4h1.5M123 826.2h1.5M124.7 829.3h1.5M77.4 828.9h1.5M57.9 825.3h1.5M77.5 820.7h1.5M86.9 827.4h1.5M69.7 828.2h1.5M104.1 822.4h1.5M72.4 826.1h1.5M100.5 824.6h1.5M99.7 830.6h1.5M66.1 827.4h1.5M62.8 823.5h1.5M107.9 820.4h1.5M102 822.6h1.5M73.6 822h1.5M57.5 819.9h1.5M91.4 822.4h1.5M79.5 826.1h1.5M90.4 827.3h1.5M79.9 825.5h1.5M79 819.2h1.5M104.2 826.9h1.5M76.6 829h1.5M105.4 819.5h1.5M73.6 823.1h1.5M85.9 819.3h1.5M84.9 823.1h1.5M101.7 822.1h1.5M85.1 826.3h1.5M100.3 822.7h1.5M104.6 819.7h1.5M77 819.1h1.5M91.7 829.5h1.5M90.8 821h1.5M59.9 817.9h1.5M66 823.8h1.5M63.7 821.1h1.5M84.4 821.6h1.5M94.2 829.3h1.5M95 819.7h1.5M108.8 828.3h1.5M66.9 822.4h1.5M91.4 818.8h1.5M82.9 819.4h1.5M77.6 824.1h1.5M102.7 820.5h1.5M110.3 851.4h1.5M74.1 877.7h1.5M72.6 873h1.5M94.9 875.8h1.5M61.4 863.6h1.5M74.9 862h1.5M113.1 826.8h1.5M74.2 864h1.5M78.5 857.5h1.5M83.3 854.7h1.5M79.5 881.9h1.5M72.6 898.7h1.5M65.8 871.2h1.5M103 869h1.5M71.9 863h1.5M85 879.9h1.5M68 871h1.5M72.3 883.6h1.5M70.5 876.8h1.5M71.2 845.6h1.5M71.9 870.2h1.5M103.7 846h1.5M69.3 882.6h1.5M71.7 868.4h1.5M105.6 857.8h1.5M61.8 880.7h1.5M74.7 860.3h1.5M75.7 855.6h1.5M73.1 884.6h1.5M61.1 892.4h1.5M80.2 890.4h1.5M72.9 864.2h1.5M77.4 869.2h1.5M115.6 835.6h1.5M67.9 898.2h1.5M70.5 878.7h1.5M79.9 885.1h1.5M72.6 888.4h1.5M91.8 863.6h1.5M91.1 852.3h1.5M88.8 860.1h1.5M79.2 834.2h1.5M93.1 863.5h1.5M88.9 840.7h1.5M79.6 866.7h1.5M63.4 892.7h1.5M74.7 858.3h1.5M60.3 880.3h1.5M81.1 871.2h1.5M91.2 865.7h1.5M78 883.5h1.5" stroke="#8a8a8a" stroke-width="1.5" fill="none"/>
<path d="M119.6 830.9h1.5M117.9 831.2h1.5M133.9 824.8h1.5M128.4 830.9h1.5M131 822.5h1.5M130.6 834.1h1.5M127.6 835.2h1.5M118.7 830h1.5M124.6 827.3h1.5M119 829.7h1.5M122 829h1.5M120.4 830.5h1.5M120.5 821.6h1.5M126.5 830.2h1.5M129.6 830.8h1.5M134.1 826.7h1.5M120.5 828.5h1.5M130 821.6h1.5M124.2 833.8h1.5M123 830.2h1.5M125.7 828.7h1.5M123.2 822.8h1.5M125.5 826h1.5M80.8 822.6h1.5M101.1 823.5h1.5M84.4 823.1h1.5M93.1 823.7h1.5M82.6 820.6h1.5M62.4 817.8h1.5M104.5 828.3h1.5M77.7 826.4h1.5M97.8 826.5h1.5M80.4 826.1h1.5M75.4 821.3h1.5M59.5 826.8h1.5M86.4 822.5h1.5M65.7 821.6h1.5M107.5 824.7h1.5M92 821.1h1.5M102.1 826.6h1.5M63.5 818.6h1.5M104.7 825.5h1.5M107.5 829.2h1.5M96 821.2h1.5M62.4 821.3h1.5M80.7 823.2h1.5M72.7 828.6h1.5M66.6 817.8h1.5M82 828.1h1.5M97.2 821h1.5M61 818.6h1.5M62.1 819.1h1.5M83.5 874.9h1.5M96 864.8h1.5M88.7 888.9h1.5M81.1 862.5h1.5M86.8 876.8h1.5M112.6 851.4h1.5M78.5 841.3h1.5M88.3 847.9h1.5M113.8 843.4h1.5M81.9 869.7h1.5M104.7 826.3h1.5M90.3 849.2h1.5M86.5 860.3h1.5M98 842.9h1.5M75.1 863.9h1.5M93.7 863.5h1.5M66.6 874.8h1.5M114.9 833.8h1.5M97.7 865.1h1.5M85 860.4h1.5M76.7 895.7h1.5M70.7 872.8h1.5M75.8 841.5h1.5M93.4 857.7h1.5M71.1 867.9h1.5M90.8 869.8h1.5M103.3 857.1h1.5M112 844.6h1.5M69.5 875.7h1.5" stroke="#7a7a7a" stroke-width="1.5" fill="none"/>
<path d="M135.1 825.2h1.5M124.8 830h1.5M122.7 822.8h1.5M121.2 825.2h1.5M127.5 829.3h1.5M131.4 830.5h1.5M121.6 825h1.5M131.2 834.3h1.5M122.2 833.1h1.5M124.6 829h1.5M118.3 832.3h1.5M124.9 821.6h1.5M126.2 833.3h1.5M118.6 825h1.5M112.2 833.6h1.5M128.2 827.5h1.5M115.6 830h1.5M127.5 832.6h1.5M124.9 831.4h1.5M130.6 825.5h1.5M129.4 820.6h1.5M122.2 828.6h1.5M122.7 830h1.5M115.7 833.1h1.5M112.5 836h1.5M123.9 826.3h1.5M126 838.1h1.5M127 830.7h1.5M126.2 826.8h1.5M130.6 828.3h1.5M128.9 822.6h1.5M133.2 831.7h1.5M136 818.2h1.5M113.2 832.2h1.5M122.2 833.2h1.5M127 826.7h1.5M130.6 831.2h1.5M134.5 824.5h1.5M91.8 823.6h1.5M73 827.8h1.5M91.6 825.8h1.5M66.3 826.8h1.5M78.3 821.2h1.5M80.1 827.9h1.5M84.1 820.2h1.5M81.9 825h1.5M71.7 822.5h1.5M83.2 825.4h1.5M107.3 824.7h1.5M86.2 823.9h1.5M68.1 818.1h1.5M91.1 824.7h1.5M109.6 821h1.5M93.8 818.7h1.5M83.1 825h1.5M102.2 820.9h1.5M68.1 818.1h1.5M98.9 821.6h1.5M86.2 823.3h1.5M78.6 825.9h1.5M63.5 872.3h1.5M70.3 855.9h1.5M101 863.3h1.5M100.6 843h1.5M95.9 849.6h1.5M82.6 854.6h1.5M111.6 859.4h1.5M65 853h1.5M70.9 878h1.5M71.6 866.9h1.5M103 838h1.5M77.9 831.3h1.5M57 882.7h1.5M118.7 839.6h1.5M87.7 868.5h1.5M103.5 845.5h1.5" stroke="#6a6a6a" stroke-width="1.5" fill="none"/>
<path d="M131.6 829.9h1.5M119.4 826.9h1.5M123.8 831.9h1.5M121.5 827.4h1.5M120.2 834.7h1.5M127 833.5h1.5M133 826.3h1.5M128.1 827h1.5M139.1 826.9h1.5M127.7 836.8h1.5M123.9 829.8h1.5M127.3 827.8h1.5M138.5 825.9h1.5M138.3 833h1.5M113.9 833.3h1.5M116.9 827.4h1.5M119.2 837.8h1.5M116.3 833.5h1.5M119.2 833.8h1.5M130.3 834.6h1.5M123.6 826.1h1.5M126.1 818.4h1.5M119.3 829.6h1.5M126.8 837.6h1.5M114.1 832.3h1.5M116.5 822.9h1.5M127.4 831.7h1.5M118.5 834.1h1.5M105.9 825.5h1.5M94.4 818.9h1.5M59.9 820.9h1.5M105.1 830.7h1.5M60.6 824.7h1.5M66.8 819.1h1.5M103.9 830h1.5M104.9 822.7h1.5M93.5 826.9h1.5M86.7 822.9h1.5M61.8 819.2h1.5M65.8 823.7h1.5M86.3 819.9h1.5M91.1 827.5h1.5M75 828.3h1.5M72.7 818.1h1.5M67.3 817.4h1.5M90.9 820.4h1.5M99.8 827.5h1.5M84.1 822.5h1.5M76.5 817.9h1.5M106.3 826.6h1.5M62.6 866.3h1.5M85 885h1.5M67.1 870.6h1.5M80.2 874h1.5M92.9 864.7h1.5M108.4 845.5h1.5M67.7 864h1.5M68.1 871.2h1.5M103.8 848h1.5M88.2 868.1h1.5M78.4 862.7h1.5M69.9 870.9h1.5M110.5 841.5h1.5M84.2 869.4h1.5M126.3 833.8h1.5M81.2 864.1h1.5M79.8 869.5h1.5M77.8 858h1.5M56.9 880.2h1.5M62.2 864.6h1.5M119.6 844.5h1.5M79.6 857.7h1.5M93.9 845.5h1.5M78.9 883h1.5M91.2 868h1.5M83.7 864.2h1.5M84.3 867h1.5M71.7 878.2h1.5" stroke="#5a5a5a" stroke-width="1.5" fill="none"/>
</g>
<line x1="108.6" y1="804.6" x2="108.6" y2="902.3" stroke="#999" stroke-width="1.1"/>
<line x1="54.6" y1="841.5" x2="152.2" y2="841.5" stroke="#999" stroke-width="1.1"/>
<rect x="54.6" y="804.6" width="97.6" height="97.7" fill="none" stroke="#9a9a9a" stroke-width="1.3"/>
<path d="M54.6 899.3h-4M54.6 893.2h-2.5M54.6 887.1h-2.5M54.6 881h-2.5M54.6 874.9h-4M54.6 868.8h-2.5M54.6 862.7h-2.5M54.6 856.6h-2.5M54.6 850.5h-4M54.6 844.4h-2.5M54.6 838.3h-2.5M54.6 832.2h-2.5M54.6 826.1h-4M54.6 820h-2.5M54.6 813.9h-2.5M54.6 807.8h-2.5M57.6 902.3v4M63.7 902.3v2.5M69.8 902.3v2.5M75.9 902.3v2.5M82 902.3v4M88.1 902.3v2.5M94.2 902.3v2.5M100.3 902.3v2.5M106.4 902.3v4M112.5 902.3v2.5M118.6 902.3v2.5M124.7 902.3v2.5M130.8 902.3v4M136.9 902.3v2.5M143 902.3v2.5M149.1 902.3v2.5" stroke="#b0b0b0" stroke-width="0.9" fill="none"/>
<text x="55.95" y="817.8" font-size="14.5" style="stroke-width:0.45px" fill="#000" stroke="#000" textLength="27.54" lengthAdjust="spacingAndGlyphs">19%</text>
<text x="121.57" y="817.8" font-size="14.5" style="stroke-width:0.45px" fill="#000" stroke="#000" textLength="28.95" lengthAdjust="spacingAndGlyphs">64%</text>
<text x="55.86" y="899" font-size="14.5" style="stroke-width:0.45px" fill="#000" stroke="#000" textLength="27.33" lengthAdjust="spacingAndGlyphs">14%</text>
<text x="129.98" y="899" font-size="14.5" style="stroke-width:0.45px" fill="#000" stroke="#000" textLength="20.63" lengthAdjust="spacingAndGlyphs">2%</text>
<clipPath id="c8"><rect x="178.8" y="804.6" width="97" height="96.9"/></clipPath>
<g clip-path="url(#c8)">
<path d="M228.6 822L260.1 819L261.1 853L257.9 880L256.9 892L242.1 893L236.1 878L232.6 853L228.6 840z" fill="#000" opacity="0.14" filter="url(#b2)"/>
<path d="M233.6 821L258.1 820L259.6 853L256.9 878L255.9 890L244.1 891L239.6 878L237.6 853L234.6 840z" fill="#000" opacity="0.42" filter="url(#b1)"/>
<path d="M239.6 828L254.1 828L253.9 878L248.1 887L243.1 878L239.6 850z" fill="#000" opacity="0.1" filter="url(#b2)"/>
<path d="M200 822.5L233.6 819.5L233.6 834L200 830.5z" fill="#000" opacity="0.48" filter="url(#b1)"/>
<path d="M182 824L202 822.5L202 830L182 828z" fill="#000" opacity="0.14" filter="url(#b2)"/>
<ellipse cx="236.6" cy="828" rx="9" ry="8" fill="#000" opacity="0.12" filter="url(#b2)"/>
<ellipse cx="205.6" cy="866" rx="30" ry="11" transform="rotate(-42 205.6 866)" fill="#000" opacity="0.1" filter="url(#b3)"/>
<ellipse cx="189.6" cy="888" rx="14" ry="9" transform="rotate(-30 189.6 888)" fill="#000" opacity="0.06" filter="url(#b3)"/>
<rect x="179.6" y="844" width="51" height="56" fill="#000" opacity="0.05" filter="url(#b3)"/>
<g filter="url(#b0)">
<path d="M206.5 874.6h1.7M201.7 875.5h1.7M203.3 870.1h1.7M213.3 858h1.7M229.2 854.8h1.7M209.9 858.4h1.7M211.7 861.3h1.7M200.2 873.5h1.7M209.4 869h1.7M183.9 889.3h1.7M227.4 853.9h1.7M205.4 866.6h1.7M188.5 889.1h1.7M191.5 844.7h1.7M228.3 850.2h1.7M214.9 853.7h1.7M188.2 863h1.7M200.8 870.1h1.7M209 860.8h1.7M205.6 861.9h1.7M214.2 850.5h1.7M231.1 847.8h1.7M211.8 857h1.7M181.3 877.9h1.7M188.3 861.7h1.7M201 866.7h1.7M218.4 880.3h1.7M209.8 895.5h1.7M193.9 869.2h1.7M184.2 877.1h1.7M186.6 876.6h1.7M189 895.1h1.7M186.2 874.8h1.7M216.2 848h1.7M196 876.8h1.7M192.2 862.6h1.7M217.8 844.7h1.7M240.7 896.7h1.7M233.2 871.9h1.7M233.7 876.3h1.7M235.5 844.7h1.7" stroke="#d2d2d2" stroke-width="1.7" fill="none"/>
<path d="M220 873.5h1.7M210.5 870h1.7M228 853.7h1.7M194.9 871.3h1.7M201.6 874.9h1.7M202.6 874.8h1.7M193.6 879.7h1.7M205.2 862.9h1.7M203.7 870.7h1.7M203.3 871.5h1.7M200.2 875.2h1.7M225.5 845.9h1.7M187.8 888.2h1.7M218.9 849.2h1.7M204.8 858.7h1.7M186.4 894.1h1.7M203.9 849.6h1.7M223.7 887.9h1.7M186.7 859.1h1.7M191 850.4h1.7M200.8 867.1h1.7M215.1 887.8h1.7M203.6 892.9h1.7M216.8 847.9h1.7M220.7 894h1.7M209 875.1h1.7M188.5 898.8h1.7M187.4 858.5h1.7M225.2 864.9h1.7M184.8 846.8h1.7M237.3 884.5h1.7M239.8 848.2h1.7" stroke="#c8c8c8" stroke-width="1.7" fill="none"/>
<path d="M247.9 861.6h1.7M256.5 832.4h1.7M255.2 883.8h1.7M258.7 846.8h1.7M255.3 875.1h1.7M188.2 825.7h1.7M195.9 828.3h1.7M199.9 823.3h1.7M195.2 858.4h1.7M215 871h1.7M194.2 872.6h1.7M198.5 864.8h1.7M217.9 865.4h1.7M206.3 873.5h1.7M195.3 856.2h1.7M196.1 868.7h1.7M189.7 876h1.7M233.3 881.3h1.7M238.6 896h1.7M234.6 873.8h1.7M232.3 854.6h1.7M242.4 873.3h1.7" stroke="#c4c4c4" stroke-width="1.7" fill="none"/>
<path d="M205.7 868.9h1.7M219.3 861.1h1.7M206.3 856.1h1.7M200.4 858.1h1.7M205.6 863.1h1.7M182.5 885.7h1.7M215.3 854.5h1.7M212.8 853.1h1.7M212 857.3h1.7M199.1 866.5h1.7M193.9 869.5h1.7M214.2 856.4h1.7M202.6 885.3h1.7M209.7 894h1.7M181.4 870.2h1.7M222.9 888.2h1.7M197.2 866.7h1.7M196.9 862.7h1.7M188.2 847.3h1.7M229.7 894.2h1.7M230.5 887.2h1.7M199.3 890.2h1.7M209.3 857.5h1.7M209.8 852.5h1.7M203.9 894.4h1.7M222.8 845.8h1.7M232.4 884.3h1.7M241.1 857.7h1.7" stroke="#bdbdbd" stroke-width="1.7" fill="none"/>
<path d="M252.8 889.4h1.7M243.9 844.6h1.7M257.2 835.2h1.7M247.2 868.7h1.7M249.6 865.5h1.7M253.4 869.9h1.7M239.5 833.6h1.7M256.7 864.9h1.7M252 831.4h1.7M249.3 827.8h1.7M246.9 853.8h1.7M246.6 862.4h1.7M256.1 874.6h1.7M240.1 865.5h1.7M201.2 824.5h1.7M204.9 882.6h1.7M201.6 858.1h1.7M191 868h1.7M207.1 863.4h1.7M206.7 862.5h1.7M191.7 879.5h1.7M211.8 857.7h1.7M185 889.1h1.7M225 856.5h1.7M208.3 856.8h1.7M240.3 890.9h1.7" stroke="#b8b8b8" stroke-width="1.7" fill="none"/>
<path d="M238.9 864h1.7M255.7 834.7h1.7M245.6 849.2h1.7M256.7 855.1h1.7M256.2 879.2h1.7M246.9 848.1h1.7M250.6 838.1h1.7M222.6 823.9h1.7M232 826.5h1.7M211.9 831.4h1.7M225.3 824.5h1.7M223.9 822.2h1.7M230.8 833.3h1.7M206.5 826.6h1.7M223.2 831.7h1.7M219.6 827.6h1.7M183.8 826.9h1.7M189.3 827.2h1.7M201.7 824.8h1.7M188.3 827h1.7M187.2 824.1h1.7M199.6 826.9h1.7M201.4 824.3h1.7" stroke="#b5b5b5" stroke-width="1.7" fill="none"/>
<path d="M241.9 829.7h1.7M240.1 873h1.7M244.6 882.8h1.7M250.3 884.6h1.7M236.7 834h1.7M255.9 839.1h1.7M241 878.1h1.7M241.9 862.9h1.7M257.2 865.5h1.7M254.4 886.8h1.7M257.4 855.2h1.7M243.6 880.9h1.7M255 864.3h1.7M249.7 879.6h1.7M242.5 822.3h1.7M255.4 849.9h1.7M235.6 834.9h1.7M248.2 822.9h1.7M244.4 885.4h1.7M206.3 824.4h1.7M202 824.8h1.7M228.2 821.9h1.7M225.5 830.7h1.7M216.8 825.6h1.7M227.8 826.7h1.7M199.5 828.5h1.7M192.8 829h1.7" stroke="#aaaaaa" stroke-width="1.7" fill="none"/>
<path d="M250.7 824.8h1.7M235.5 841.5h1.7M243.7 821.8h1.7M250.5 834.3h1.7M250.9 828.9h1.7M241.9 820.9h1.7M253.9 843.3h1.7M243.9 842.1h1.7M256.8 873.7h1.7M249.6 888.5h1.7M236.4 847.2h1.7M256.8 840.6h1.7M253.6 885.1h1.7M245.6 832.2h1.7M189 826.5h1.7M183.4 825.2h1.7M200.4 873.3h1.7M223.7 837.6h1.7M199.7 877.1h1.7M200.8 865.1h1.7M197.3 862.2h1.7M191.4 875.2h1.7M208.1 872h1.7M200 866.7h1.7M209.8 861h1.7M231.5 839.7h1.7M232.7 863.9h1.7M234.6 847.2h1.7M241.6 851.8h1.7M233.2 850.5h1.7M234.1 886.3h1.7" stroke="#a8a8a8" stroke-width="1.7" fill="none"/>
<path d="M247.3 824.2h1.7M236.5 821.1h1.7M241.2 867.6h1.7M252.8 821.7h1.7M255.2 858h1.7M244.4 870.3h1.7M247.3 880.6h1.7M238.2 856.8h1.7M248.9 876.1h1.7M255.4 841.9h1.7M257.1 848.3h1.7M255.9 830.5h1.7M235.5 841.8h1.7M243.7 881.8h1.7M250.3 883.9h1.7M258.8 849.9h1.7M240.3 840.4h1.7M252.3 830.2h1.7M253.6 836.1h1.7M243.9 820.6h1.7M254.2 859h1.7M252.3 855.7h1.7M244.6 829.8h1.7M236.2 845.5h1.7M240.5 854.6h1.7M246 835.7h1.7M238.3 846.9h1.7M238.5 853.7h1.7M250.7 877.3h1.7M245.3 852.6h1.7M248 852.1h1.7M254 856.3h1.7M234.3 823.6h1.7M238.8 824.8h1.7M253.8 854.8h1.7M206.5 830.9h1.7M217.4 831.9h1.7M232.4 820.5h1.7M228.4 820.2h1.7M206.9 830.5h1.7M207.9 826.7h1.7M196.2 824.2h1.7M188 826.9h1.7M201.1 822.9h1.7M196.4 826.6h1.7M200.9 826.8h1.7M198.3 876.7h1.7M209.1 858.4h1.7M213 863.5h1.7M210.4 869h1.7M200.7 873.8h1.7M234.8 886.5h1.7M239.3 877.7h1.7" stroke="#9a9a9a" stroke-width="1.7" fill="none"/>
<path d="M254.2 881.4h1.7M238.5 861h1.7M246.4 878.2h1.7M253 865.6h1.7M256.9 865.7h1.7M237.2 834.8h1.7M237.6 838.4h1.7M239.7 866.4h1.7M248 824.7h1.7M257 875.2h1.7M259.2 848.7h1.7M243 855.7h1.7M258.2 846.2h1.7M251 872.9h1.7M241.1 831.4h1.7M250.5 853.1h1.7M247.4 884.5h1.7M244.6 822.8h1.7M239.3 834.3h1.7M255 888h1.7M235 840.7h1.7M243.2 883.9h1.7M241.6 866.3h1.7M218.5 832.3h1.7M219.2 829.5h1.7M205.8 824.9h1.7M213.1 821.3h1.7M223.2 828.6h1.7M213 827.8h1.7M226.1 822.6h1.7M214.1 823.8h1.7M220.5 825.7h1.7M224.3 832.2h1.7M227.9 830.7h1.7M209.2 831h1.7M232.2 820h1.7M207.5 827.3h1.7M214.4 831.3h1.7M232.3 820h1.7M232.9 833h1.7M227 821.4h1.7M218 830.7h1.7M207.1 829.4h1.7M208.3 831.3h1.7M194.4 828h1.7" stroke="#8a8a8a" stroke-width="1.7" fill="none"/>
<path d="M245.5 879.5h1.7M255 828.7h1.7M255.2 827.4h1.7M249.9 841.2h1.7M255 872.1h1.7M257.1 830.3h1.7M236.8 836.8h1.7M255.9 856.2h1.7M250.2 875.7h1.7M257 822.6h1.7M249 882h1.7M238.7 866h1.7M252.2 840.7h1.7M244.9 822.6h1.7M228 831.9h1.7M228.5 824.8h1.7M210 824.2h1.7M217.1 831.9h1.7M223.2 820.7h1.7M215 828.8h1.7M225.4 833.1h1.7M207.3 827h1.7M207.1 830.1h1.7M211.7 826.3h1.7M230 825.4h1.7M232.1 832.9h1.7" stroke="#7a7a7a" stroke-width="1.7" fill="none"/>
<path d="M246.4 838.3h1.7M237.8 834h1.7M250 887.5h1.7M243 870.8h1.7M241.4 821.8h1.7M244 828.7h1.7M240.2 854.3h1.7M253.7 888h1.7M243.6 852.6h1.7M250.5 822.5h1.7M247 849.5h1.7M236.8 841h1.7M241.3 863.1h1.7M238.6 865.6h1.7M258.1 834.5h1.7M244.4 877.3h1.7M227.1 823.5h1.7M230.7 833.6h1.7M229.7 823.1h1.7M215.1 825.9h1.7M229.2 831.9h1.7M218.4 826.9h1.7M226.8 823.1h1.7M220.9 832.5h1.7M223.6 825h1.7M213 828.1h1.7M232.9 819.8h1.7M223.8 826.3h1.7M212.1 821.6h1.7M202.2 828.6h1.7M225.4 831.1h1.7" stroke="#6a6a6a" stroke-width="1.7" fill="none"/>
<path d="M251.1 854.7h1.7M253 881.1h1.7M252.1 836.2h1.7M243.7 875.4h1.7M235.3 823.1h1.7M245 864.9h1.7M237.7 834.3h1.7M253.4 828.8h1.7M254.5 870.3h1.7M249.4 830.9h1.7M224.1 832.6h1.7M229.2 822.5h1.7M232.1 822.5h1.7M224.9 825h1.7M206.5 829.7h1.7M223 831.7h1.7M231.5 822.4h1.7M230.4 821.4h1.7" stroke="#5a5a5a" stroke-width="1.7" fill="none"/>
</g>
<path d="M208.6 873.4h1.5M210.5 842.2h1.5M200.2 859.8h1.5M206.8 864.3h1.5M201.7 860h1.5M228.3 864h1.5M202.6 854.8h1.5M210.3 861.3h1.5M208.9 864h1.5M209.3 865.9h1.5M221.8 863.2h1.5M200.4 870.4h1.5M208.1 858h1.5M227.2 860.4h1.5M227.6 851.8h1.5M204.4 857.7h1.5M229.8 848.6h1.5M210.3 863.8h1.5M194.4 872.6h1.5M190.8 847.2h1.5M217.4 855.7h1.5M185.8 896.3h1.5M226.2 884.5h1.5M228 893.8h1.5M195.3 878.9h1.5M184.9 850.9h1.5M191.3 857.5h1.5M219.6 868.7h1.5M214.9 889.6h1.5M182.1 860.2h1.5M207.1 888.3h1.5M222 874.3h1.5M202.4 872.7h1.5M212.1 889.9h1.5M185.4 881.5h1.5M230.5 882.8h1.5M228.8 846.9h1.5M213.9 894.7h1.5M220.6 887.1h1.5M203 893.7h1.5M214.2 876.2h1.5M200.7 894.7h1.5M194.3 889.4h1.5M208.9 845.7h1.5M219.4 864h1.5M224.7 863.9h1.5M205.6 849.6h1.5M224.2 863.8h1.5M212.2 861.6h1.5M184 879.4h1.5M213.7 897.2h1.5M230.8 873.3h1.5M181 878.3h1.5M201 866.3h1.5M207.4 892.2h1.5M233.5 870.7h1.5M237.6 862h1.5" stroke="#d2d2d2" stroke-width="1.5" fill="none"/>
<path d="M214.3 850.7h1.5M214.7 858.4h1.5M203.2 868.1h1.5M199 880.8h1.5M194.9 888.5h1.5M194.1 867.4h1.5M225.4 839.8h1.5M233.2 844.3h1.5M195.2 882.4h1.5M195.3 872.1h1.5M196.4 873.5h1.5M201.5 863.5h1.5M191.2 883h1.5M211.3 866.4h1.5M222.4 852.5h1.5M204.8 873h1.5M216 863.2h1.5M208.8 859.4h1.5M202 873.2h1.5M202.8 871.9h1.5M187.8 861.9h1.5M195.1 873.8h1.5M185.8 897h1.5M186.1 866.8h1.5M204.8 873.1h1.5M191.2 888.4h1.5M197.7 846.6h1.5M189.6 874.2h1.5M199.7 877.6h1.5M224.2 894.2h1.5M210.5 876.4h1.5M191.4 880.2h1.5M181.8 882.1h1.5M206.8 895.6h1.5M217 852.3h1.5M221.1 857.5h1.5M191.8 850h1.5M207.3 861.8h1.5M214.7 879.2h1.5M207.6 844h1.5M191 875.8h1.5M199.4 887.2h1.5M183.1 886.4h1.5M217.8 855.7h1.5M202.5 857h1.5M215.6 873.8h1.5M201.1 889.9h1.5M195.1 858.9h1.5M189.7 864.4h1.5M213.6 858.3h1.5M216.4 856.7h1.5M196.8 872h1.5M223.1 878.5h1.5M209 850.3h1.5M189.9 894.1h1.5M222.4 892.9h1.5M213.3 891.2h1.5M217.5 879.3h1.5M197.3 875.7h1.5M195.1 848.2h1.5M234 896.8h1.5M231.6 882.4h1.5M240.1 860.7h1.5" stroke="#c8c8c8" stroke-width="1.5" fill="none"/>
<path d="M242.2 830.7h1.5M237.9 833.9h1.5M234.8 829h1.5M240.5 875.5h1.5M255.1 839.8h1.5M248.2 868.7h1.5M251.4 872h1.5M249.5 847.3h1.5M254.8 848.4h1.5M242.4 857h1.5M244.9 826.9h1.5M239.5 844.5h1.5M251.2 851.4h1.5M253.7 828.9h1.5M248.9 858.8h1.5M247 859.8h1.5M255.2 841h1.5M255.7 883.4h1.5M244.5 823.9h1.5M245.9 861.9h1.5M247.1 833.5h1.5M254.8 822.6h1.5M248.9 855h1.5M245.6 887.7h1.5M258 840h1.5M235.8 838.5h1.5M185.8 824.3h1.5M189.4 828.6h1.5M196.1 829.3h1.5M202.2 864.8h1.5M192.4 875.7h1.5M195 879h1.5M209.2 857h1.5M183.2 885.1h1.5M208.8 869.4h1.5M199 875.8h1.5M214.8 867.4h1.5M212.9 857.5h1.5M200.9 866.3h1.5M190.3 878.5h1.5M219.2 860.3h1.5M195.1 878.8h1.5M184.1 894.8h1.5M201.9 865.9h1.5M217.5 857.1h1.5M198.2 868.9h1.5M231.7 859.7h1.5M241.2 877.1h1.5M232.6 860.9h1.5M242.2 890.5h1.5" stroke="#c4c4c4" stroke-width="1.5" fill="none"/>
<path d="M214.8 862h1.5M204.9 864h1.5M205.3 858.7h1.5M193.3 875h1.5M221 833.7h1.5M208.7 858.3h1.5M192.1 877.7h1.5M193.9 869.4h1.5M206.6 861.1h1.5M202.4 861.3h1.5M205.1 870.1h1.5M208.8 857.5h1.5M208.4 862.6h1.5M210.7 852.7h1.5M197.5 875.6h1.5M198.3 874.2h1.5M188.8 869.1h1.5M214.5 854.8h1.5M226.8 852.9h1.5M194.8 867.4h1.5M216.1 855.6h1.5M206 867.1h1.5M193.4 875.5h1.5M207.1 862.3h1.5M181.3 852.5h1.5M195.1 859.7h1.5M203.9 874.2h1.5M203.3 860.4h1.5M206.6 898.1h1.5M217.3 890.6h1.5M227 864h1.5M180.8 852.9h1.5M217.7 849.1h1.5M225.6 894.6h1.5M202.6 856.9h1.5M181 880.7h1.5M208 888.3h1.5M219.5 892.9h1.5M205.3 867.7h1.5M202.6 883.7h1.5M213.8 858.5h1.5M204.5 857.7h1.5M201.1 869.2h1.5M211 871.7h1.5M183.5 858.5h1.5M240.1 863.4h1.5M238 848.5h1.5" stroke="#bdbdbd" stroke-width="1.5" fill="none"/>
<path d="M242.1 860.3h1.5M244 830.3h1.5M245.7 878.2h1.5M247 827.2h1.5M254 844.9h1.5M254.5 828.3h1.5M251.8 826.3h1.5M256.6 838.1h1.5M246.2 840.2h1.5M240.6 857h1.5M249.2 889.6h1.5M249.6 828.5h1.5M258.8 855.4h1.5M255.5 857.5h1.5M247 886.3h1.5M245.6 839.5h1.5M247.9 881.5h1.5M258.3 853.3h1.5M254.6 846.3h1.5M256.6 824.1h1.5M193.9 823.8h1.5M188.9 828.1h1.5M197.2 873.3h1.5M196.1 877.7h1.5M191.3 869.4h1.5M212.9 850.7h1.5M197.5 878h1.5M195.6 870.5h1.5M194.2 886.5h1.5M191.3 872h1.5M204.4 868.4h1.5M228.4 837.1h1.5M238.8 898.7h1.5M233.9 881.5h1.5M235.9 844.2h1.5M236.2 847.4h1.5M238.7 850.7h1.5M236.4 857h1.5" stroke="#b8b8b8" stroke-width="1.5" fill="none"/>
<path d="M249.4 867.3h1.5M252.8 863.2h1.5M250.6 879h1.5M239.5 857.5h1.5M247.8 890.6h1.5M253.1 885.4h1.5M254.6 838.3h1.5M244.5 849.3h1.5M236.4 844.3h1.5M236.8 831.2h1.5M241.7 883.4h1.5M256.4 825.3h1.5M252.2 832.2h1.5M244.9 887.6h1.5M250 838.1h1.5M255.5 831.9h1.5M250.5 884.9h1.5M245.3 844.5h1.5M241.6 867.9h1.5M242.4 821.6h1.5M245.2 868.5h1.5M203.1 829.7h1.5M231.1 830.4h1.5M233.1 830.2h1.5M216.1 821.8h1.5M216 823.6h1.5M227.3 826.3h1.5M224.6 822.3h1.5M205.9 830.6h1.5M209.7 823.5h1.5M229.6 821.5h1.5M188.3 824.9h1.5M196.3 824.2h1.5M188.8 826.6h1.5M200.4 826.1h1.5M193.5 825.9h1.5M195.3 824h1.5M201.2 828.5h1.5M184.5 827.5h1.5M190.7 827.3h1.5" stroke="#b5b5b5" stroke-width="1.5" fill="none"/>
<path d="M246.5 884.9h1.5M242.5 845.7h1.5M236.3 846.6h1.5M242.9 869.1h1.5M249.5 851.2h1.5M236.2 828.2h1.5M254.1 846.7h1.5M242.5 836.9h1.5M248 867.8h1.5M248.7 861.6h1.5M252.6 872.9h1.5M239.1 838.3h1.5M256.7 824.2h1.5M247.6 881.5h1.5M245 890.5h1.5M255.1 826.2h1.5M214.7 825.4h1.5M214.5 822.2h1.5M212.8 826.5h1.5M204.6 829.9h1.5M224.7 832.6h1.5M204.7 825.4h1.5M227.8 825h1.5M205.7 827.2h1.5M217.6 822.8h1.5M211.3 831.6h1.5M204.6 827h1.5M204.8 829.8h1.5M187.9 824.1h1.5M187.1 826.5h1.5M185.1 826.5h1.5M201.8 827.5h1.5M190.7 823.7h1.5M195.9 824.7h1.5" stroke="#aaaaaa" stroke-width="1.5" fill="none"/>
<path d="M236.1 845.1h1.5M255 871.8h1.5M244.9 823.7h1.5M242.7 869.7h1.5M247.2 878.1h1.5M253.1 889.8h1.5M243.7 821.8h1.5M259 857.7h1.5M242.9 844.5h1.5M245.4 870.9h1.5M249.2 887.7h1.5M240.7 858.1h1.5M241.6 880.5h1.5M240.5 876.2h1.5M257.8 848.1h1.5M252.3 884.8h1.5M243.1 870.5h1.5M237.1 842.2h1.5M248.1 827h1.5M250.6 843.4h1.5M245.3 851.2h1.5M245.9 832.5h1.5M254.5 885.7h1.5M246.3 864.8h1.5M187.4 827.4h1.5M187 824.8h1.5M189.2 826.6h1.5M211.8 867.6h1.5M193.9 866.2h1.5M189.5 863.1h1.5M201.7 873.1h1.5M204.9 861.9h1.5M209.3 863.6h1.5M197.9 865.9h1.5M201.9 853.5h1.5M191.5 877.8h1.5M204.1 872.7h1.5M196.7 874.5h1.5M204.4 853.6h1.5M188.9 888.4h1.5M189.6 874.8h1.5M217 859.8h1.5M203.3 866.5h1.5M192.7 860.1h1.5M209.8 864.1h1.5M218.1 846.5h1.5M241.8 883.1h1.5" stroke="#a8a8a8" stroke-width="1.5" fill="none"/>
<path d="M249.4 875.9h1.5M241.1 859.4h1.5M243.5 828.1h1.5M238.7 837.1h1.5M252.9 879.1h1.5M248.3 858.4h1.5M245.5 828.8h1.5M239.7 825h1.5M252.7 821.6h1.5M257.9 853.4h1.5M234.9 822.1h1.5M250.6 864.4h1.5M248.1 846.4h1.5M257.3 832h1.5M246.6 880.6h1.5M243 864.3h1.5M253.4 836h1.5M236.1 842.9h1.5M245.6 855.4h1.5M244.9 880.2h1.5M248.5 834.4h1.5M238.7 824.9h1.5M241 840.9h1.5M255.3 847.7h1.5M243.6 849.5h1.5M246.5 830.8h1.5M245.2 883.8h1.5M251.5 831.7h1.5M238.3 860.7h1.5M242.4 838.3h1.5M248.5 852.1h1.5M239.3 832.5h1.5M256 885.3h1.5M238.8 834.9h1.5M257.3 851.8h1.5M244.1 832.9h1.5M235.8 834.7h1.5M238.5 824.4h1.5M254.7 857.8h1.5M242.2 849.6h1.5M242.7 852.8h1.5M250.9 878h1.5M222.5 822.8h1.5M227 830.1h1.5M201.5 824h1.5M206.6 827.6h1.5M208 831.3h1.5M218.3 823.1h1.5M232.6 831.8h1.5M230.5 827.5h1.5M231.2 820.6h1.5M229.5 827.8h1.5M205.5 823.4h1.5M225.8 824.7h1.5M226.5 831.4h1.5M222.8 829.2h1.5M230.4 825.8h1.5M198.8 828.1h1.5M197.4 823.8h1.5M195.5 827.9h1.5M196.4 824.4h1.5M183.4 827.2h1.5M193.4 825h1.5M193.5 824h1.5M193.8 823.4h1.5M188.7 825.3h1.5M199.3 828.4h1.5M200.2 828.4h1.5M213.7 868.8h1.5M223.7 860.7h1.5M214.8 860.3h1.5M210.1 864.4h1.5M193.8 863.6h1.5M185.1 888.8h1.5M221.6 854.1h1.5M192.1 882.8h1.5M197.5 888.5h1.5M217.3 871.7h1.5M203.5 864.1h1.5M195.5 866.1h1.5M218.7 861.6h1.5M206.2 867.4h1.5M188.2 874.4h1.5M207.6 855.6h1.5M239.7 860.8h1.5M238.5 852.6h1.5" stroke="#9a9a9a" stroke-width="1.5" fill="none"/>
<path d="M234.2 825.4h1.5M255.2 870.7h1.5M248.1 864.8h1.5M255.2 870.4h1.5M238.1 840.4h1.5M239.4 833.8h1.5M252.5 846.8h1.5M254.2 821.1h1.5M239.9 847.3h1.5M245.8 832.4h1.5M255.1 875.1h1.5M238.1 839.4h1.5M238.4 850.7h1.5M245.3 856h1.5M250.4 836.3h1.5M246.6 878h1.5M236.6 827h1.5M248.3 820.7h1.5M255.5 866.5h1.5M240.9 863.9h1.5M257.2 826.1h1.5M245.4 848.8h1.5M238.9 830.4h1.5M248 871.6h1.5M246.9 861.1h1.5M247.9 867.4h1.5M250.5 889.8h1.5M258.1 865h1.5M238.8 827.9h1.5M252.5 877.7h1.5M246 873.8h1.5M256.9 827.5h1.5M236 827h1.5M254.7 857.6h1.5M240.2 828.5h1.5M253.5 864.1h1.5M249.3 862.6h1.5M248 881.3h1.5M251.5 848.5h1.5M256 850.3h1.5M247.8 847.8h1.5M257.1 843.6h1.5M246.8 880.7h1.5M248.1 885.3h1.5M248.3 824.9h1.5M234.2 832.2h1.5M213.2 826.7h1.5M224.1 830h1.5M220.7 829.3h1.5M216.7 825h1.5M218.4 824.3h1.5M231.7 826.1h1.5M221.9 823.9h1.5M226.7 821.8h1.5M230.5 830.7h1.5M202.6 829.5h1.5M223.5 827h1.5M233.4 826.9h1.5M231.1 820.4h1.5M230.5 830h1.5M232.3 826.2h1.5M215.8 821.9h1.5M227.6 824h1.5M209.4 822.2h1.5M226.1 827h1.5M217.3 823.1h1.5M201.4 828.6h1.5M201.1 824.3h1.5M219.6 828.1h1.5M202.6 825.7h1.5M211.1 824.1h1.5M216.1 831.9h1.5M204.2 825.9h1.5M232.1 822.1h1.5M206.7 827.8h1.5M203.3 830.2h1.5M232.3 820.5h1.5M204.1 829.1h1.5M223.1 828.7h1.5M225.9 821.7h1.5M232.8 830.3h1.5M215.9 828.7h1.5M201.8 825.7h1.5M229.4 829.7h1.5M225.1 831.4h1.5M190 826.3h1.5M187.7 827.2h1.5M187.2 827.7h1.5M193.9 823.2h1.5M183 824.9h1.5" stroke="#8a8a8a" stroke-width="1.5" fill="none"/>
<path d="M248.7 821.2h1.5M254.3 828.1h1.5M244.1 877.1h1.5M237.4 851.2h1.5M253.3 888.7h1.5M251.4 834h1.5M247.9 821.8h1.5M237.1 847.6h1.5M236.8 829.4h1.5M253.5 872.8h1.5M253.8 864h1.5M241.6 865h1.5M251.3 878.9h1.5M250 822.8h1.5M256.9 868.9h1.5M238.4 839.3h1.5M248.3 867h1.5M250.7 853.3h1.5M241.3 839.7h1.5M250.1 845.3h1.5M247.4 835.7h1.5M241.5 854h1.5M255.6 828.2h1.5M204.9 826.1h1.5M216.9 823.6h1.5M223.8 831.2h1.5M205.1 830.3h1.5M211.2 830.8h1.5M228.7 828.3h1.5M217 828.1h1.5M209.3 826.8h1.5M214.6 825.6h1.5M223.2 826.8h1.5M213.6 831.4h1.5M228.9 828.7h1.5M222.4 830.9h1.5M228 829.8h1.5M221 822.6h1.5" stroke="#7a7a7a" stroke-width="1.5" fill="none"/>
<path d="M243.2 881.3h1.5M253.5 832.1h1.5M257.6 829.2h1.5M254.7 856h1.5M243.2 855.5h1.5M255.5 823.8h1.5M250.9 851.3h1.5M239.4 861h1.5M247.8 846.4h1.5M247.9 855.9h1.5M239.3 844.4h1.5M250.1 831.1h1.5M241 875.4h1.5M251.4 833.7h1.5M237.2 821.8h1.5M240.3 824h1.5M241.9 833.1h1.5M256.3 883.6h1.5M237.8 832.4h1.5M242.8 840.7h1.5M246.8 839.4h1.5M224 825.2h1.5M208.7 829.8h1.5M225.4 821h1.5M205.5 826.6h1.5M230.2 824.4h1.5M210.7 822.1h1.5M224.2 820.4h1.5M202.9 826.2h1.5M221 822.7h1.5M223.3 829.9h1.5M230.8 825.3h1.5M230.6 828.2h1.5M208.2 830.1h1.5M203 827h1.5M232.2 833.7h1.5M205.8 825.9h1.5M207.1 822.7h1.5M216.1 826.8h1.5" stroke="#6a6a6a" stroke-width="1.5" fill="none"/>
<path d="M257.4 864h1.5M245.9 865h1.5M256.1 846.4h1.5M245.5 889.8h1.5M244.3 867.8h1.5M255.8 889.9h1.5M243.1 841.3h1.5M253.7 835.4h1.5M252.1 822.7h1.5M248.1 885.2h1.5M257.1 844.9h1.5M238.3 860.9h1.5M243.2 854.2h1.5M247.1 856.4h1.5M234.5 834.9h1.5M256.3 820.3h1.5M244.5 823.6h1.5M247.8 858.2h1.5M250.5 878.8h1.5M250 884.4h1.5M248 889.3h1.5M254.3 836.1h1.5M247.1 857.2h1.5M252.6 848.7h1.5M209.5 827.6h1.5M230.5 825.8h1.5M222.4 830.6h1.5M219.5 829.9h1.5M219.2 820.9h1.5M231.2 820.1h1.5M214.8 823.2h1.5M233.5 829.8h1.5M219.1 826.8h1.5M228.5 821.3h1.5M218.2 824.1h1.5M233.2 823.3h1.5M219.8 822.7h1.5M216.1 823.6h1.5" stroke="#5a5a5a" stroke-width="1.5" fill="none"/>
</g>
<line x1="231.6" y1="804.6" x2="231.6" y2="901.5" stroke="#999" stroke-width="1.1"/>
<line x1="178.8" y1="842" x2="275.8" y2="842" stroke="#999" stroke-width="1.1"/>
<rect x="178.8" y="804.6" width="97" height="96.9" fill="none" stroke="#9a9a9a" stroke-width="1.3"/>
<path d="M178.8 898.5h-4M178.8 892.4h-2.5M178.8 886.3h-2.5M178.8 880.2h-2.5M178.8 874.1h-4M178.8 868h-2.5M178.8 861.9h-2.5M178.8 855.8h-2.5M178.8 849.7h-4M178.8 843.6h-2.5M178.8 837.5h-2.5M178.8 831.4h-2.5M178.8 825.3h-4M178.8 819.2h-2.5M178.8 813.1h-2.5M178.8 807h-2.5M181.8 901.5v4M187.9 901.5v2.5M194 901.5v2.5M200.1 901.5v2.5M206.2 901.5v4M212.3 901.5v2.5M218.4 901.5v2.5M224.5 901.5v2.5M230.6 901.5v4M236.7 901.5v2.5M242.8 901.5v2.5M248.9 901.5v2.5M255 901.5v4M261.1 901.5v2.5M267.2 901.5v2.5M273.3 901.5v2.5" stroke="#b0b0b0" stroke-width="0.9" fill="none"/>
<text x="182.12" y="817.8" font-size="14.5" style="stroke-width:0.45px" fill="#000" stroke="#000" textLength="21" lengthAdjust="spacingAndGlyphs">5%</text>
<text x="245.75" y="817.8" font-size="14.5" style="stroke-width:0.45px" fill="#000" stroke="#000" textLength="28.76" lengthAdjust="spacingAndGlyphs">30%</text>
<text x="183.12" y="899" font-size="14.5" style="stroke-width:0.45px" fill="#000" stroke="#000" textLength="19.36" lengthAdjust="spacingAndGlyphs">8%</text>
<text x="247.04" y="899" font-size="14.5" style="stroke-width:0.45px" fill="#000" stroke="#000" textLength="28.06" lengthAdjust="spacingAndGlyphs">58%</text>
<clipPath id="c9"><rect x="289.4" y="804.6" width="97.2" height="96.9"/></clipPath>
<g clip-path="url(#c9)">
<path d="M340.6 822L372.1 819L373.1 853L369.1 880L368.1 893L353.6 894L347.6 878L344.6 853L340.6 840z" fill="#000" opacity="0.14" filter="url(#b2)"/>
<path d="M345.6 821L370.1 820L371.6 853L368.1 878L367.1 891L355.6 892L351.1 878L349.6 853L346.6 840z" fill="#000" opacity="0.42" filter="url(#b1)"/>
<path d="M351.6 828L366.1 828L365.1 878L359.6 888L354.6 878L351.6 850z" fill="#000" opacity="0.1" filter="url(#b2)"/>
<path d="M320 822.5L345.6 819.5L345.6 834L320 830.5z" fill="#000" opacity="0.48" filter="url(#b1)"/>
<path d="M302 824L322 822.5L322 830L302 828z" fill="#000" opacity="0.14" filter="url(#b2)"/>
<ellipse cx="348.6" cy="828" rx="9" ry="8" fill="#000" opacity="0.12" filter="url(#b2)"/>
<ellipse cx="317.6" cy="866" rx="30" ry="11" transform="rotate(-42 317.6 866)" fill="#000" opacity="0.1" filter="url(#b3)"/>
<ellipse cx="301.6" cy="888" rx="14" ry="9" transform="rotate(-30 301.6 888)" fill="#000" opacity="0.06" filter="url(#b3)"/>
<rect x="291.6" y="844" width="51" height="56" fill="#000" opacity="0.05" filter="url(#b3)"/>
<g filter="url(#b0)">
<path d="M312.4 869h1.7M314.1 883.5h1.7M310.7 868.4h1.7M329.9 861h1.7M339 856.5h1.7M338.4 848h1.7M324.3 856h1.7M328.3 863h1.7M318.5 865.7h1.7M316.4 868.5h1.7M328 859.1h1.7M312.3 866.9h1.7M324.6 860h1.7M331.8 859.7h1.7M297.3 874.9h1.7M308.4 849.2h1.7M313 865.2h1.7M303.4 881.2h1.7M337.6 895.1h1.7M327.5 868.4h1.7M331.7 877.5h1.7M316.6 893.7h1.7M343.3 896.3h1.7M330.7 887.1h1.7M303.1 893.3h1.7M321.2 870.1h1.7M326.2 888.7h1.7M307.2 879.2h1.7M333.4 882.4h1.7M292.1 892.7h1.7M341.4 884.3h1.7M305.3 848.3h1.7M335.4 879.4h1.7M344.3 895.8h1.7" stroke="#d2d2d2" stroke-width="1.7" fill="none"/>
<path d="M311.8 860.5h1.7M323.3 850.7h1.7M328.9 854h1.7M308.9 862h1.7M300.3 879.9h1.7M326.7 861.4h1.7M301.2 885.9h1.7M315.6 869.5h1.7M303.7 875.1h1.7M319.2 858.5h1.7M329.7 852.2h1.7M309.3 887h1.7M301.1 880.6h1.7M324.4 864.8h1.7M314.2 888.2h1.7M308.1 873.1h1.7M307.9 871.5h1.7M313.3 878.4h1.7M326.5 856.6h1.7M312 855.4h1.7M296.2 844.9h1.7M300.2 862.8h1.7M292.7 882.1h1.7M294 873.1h1.7M308.6 853h1.7M312.1 889.8h1.7M325.4 861.4h1.7M338.3 855.8h1.7M340.4 889.6h1.7M330.9 859.4h1.7M311.6 847h1.7M299 886.5h1.7M317.4 896.1h1.7M315.3 896.6h1.7M316.9 881.7h1.7M316 895.5h1.7M316.3 874.4h1.7M331.2 868.7h1.7M310.7 869.2h1.7M328.6 884.7h1.7M330.1 897.3h1.7M333.2 897.4h1.7M351.6 860.6h1.7M348.6 866.9h1.7M354.6 849.2h1.7" stroke="#c8c8c8" stroke-width="1.7" fill="none"/>
<path d="M361.4 865.8h1.7M364.8 842.2h1.7M357.5 841.8h1.7M355.5 847.8h1.7M357.2 874.4h1.7M356.1 872.2h1.7M353.3 868.1h1.7M358.3 837.7h1.7M363.2 832.2h1.7M358 875.2h1.7M358.9 861.6h1.7M361.6 851.4h1.7M353.5 858.7h1.7M313 824.6h1.7M303.2 824.9h1.7M334.6 879.4h1.7M339.8 850.5h1.7M309.8 867.1h1.7M330.1 853.4h1.7M309.7 869.3h1.7M301.7 891.9h1.7M315.2 869.7h1.7M352.6 846.9h1.7M347.2 855.1h1.7M345.7 897.5h1.7M354 871.6h1.7M351.4 885.5h1.7" stroke="#c4c4c4" stroke-width="1.7" fill="none"/>
<path d="M293 888.5h1.7M314.9 859.3h1.7M348.6 838.7h1.7M326.5 845.4h1.7M320.1 868.9h1.7M305.3 887.4h1.7M316.7 865.3h1.7M316.4 859.1h1.7M317.4 859.1h1.7M309 870.6h1.7M320.3 864.1h1.7M302.5 865.6h1.7M309.5 867.1h1.7M308.1 867.1h1.7M313.2 868.4h1.7M316.1 875.5h1.7M292.3 858.2h1.7M326.1 867.5h1.7M314.9 850.8h1.7M302.1 888.3h1.7M294.8 862.6h1.7M335 855.3h1.7M327.1 845.5h1.7M314.4 848.3h1.7M342.9 868.9h1.7M328.8 850.4h1.7M331.6 890.9h1.7M309.9 856.2h1.7M312.9 848.6h1.7M291.9 850.6h1.7M325.7 899.4h1.7M312.2 848.8h1.7M302.4 868.5h1.7M326.2 853.3h1.7M340.7 882.1h1.7M341.5 860.8h1.7M330 854.9h1.7M298.5 882.8h1.7M298 868.8h1.7M310.1 892h1.7M297.5 874.3h1.7M339.8 851.7h1.7M305.4 869.9h1.7M353.5 857.8h1.7M354.5 862.3h1.7" stroke="#bdbdbd" stroke-width="1.7" fill="none"/>
<path d="M356.9 856.1h1.7M354.4 843.9h1.7M364.1 877.8h1.7M356.7 849.3h1.7M352.6 880.8h1.7M356.3 850.2h1.7M368.6 848.9h1.7M349.1 849.5h1.7M366.9 852.3h1.7M370.1 860.3h1.7M369.5 837.5h1.7M354.1 852h1.7M362.6 870.5h1.7M319.6 824.9h1.7M311.6 824.3h1.7M319.9 823.9h1.7M316 825.1h1.7M308.8 826.1h1.7M310.6 824.1h1.7M306 824h1.7M318.9 824.9h1.7M309.4 824h1.7M319.2 858.1h1.7M322.3 860.7h1.7M304.6 880.9h1.7M313 872.1h1.7M309.1 883.6h1.7M301 877.6h1.7M332.8 863.1h1.7M307.7 865.1h1.7M311.1 874.6h1.7M309.4 884.8h1.7M326.1 861.5h1.7M320.5 866.8h1.7M302 872.3h1.7M345.3 894.1h1.7M355.1 900h1.7M345 877.7h1.7M343.9 859.3h1.7" stroke="#b8b8b8" stroke-width="1.7" fill="none"/>
<path d="M358.9 837.5h1.7M354.4 840.8h1.7M355.6 882.9h1.7M369.4 834.3h1.7M352.2 868.8h1.7M362.9 870.5h1.7M370.8 844.8h1.7M370.1 844.2h1.7M366.5 874.7h1.7M335.7 829.1h1.7M336.7 821.6h1.7M324.5 827.8h1.7M338.8 828.7h1.7M325.5 825.6h1.7M339.7 832h1.7M338.7 827.3h1.7M343.7 831.2h1.7M337.6 827h1.7M331.4 830.8h1.7M341.6 827.5h1.7M321.3 827h1.7M329 831.7h1.7M303.4 827.8h1.7M311.5 824.3h1.7M304.8 826.8h1.7" stroke="#b5b5b5" stroke-width="1.7" fill="none"/>
<path d="M362.1 841.4h1.7M360.2 860h1.7M352.5 835.2h1.7M354.5 848.3h1.7M350.2 830.3h1.7M347.5 840.8h1.7M352.6 834h1.7M357.3 851.8h1.7M354 847.3h1.7M350.9 821.2h1.7M360.5 859h1.7M327.2 827.8h1.7M341.6 829.9h1.7M340.3 821.4h1.7M333.5 831.1h1.7M343.6 824.9h1.7M341.6 833.3h1.7M336.5 821.1h1.7M332.1 830.6h1.7M341.4 826.4h1.7M337.2 822.4h1.7M340.8 820.1h1.7M336.7 831.4h1.7M341.1 832.5h1.7M344.5 827.7h1.7M331.7 828.9h1.7M336.8 826.1h1.7M310.5 828.6h1.7M318.6 826h1.7" stroke="#aaaaaa" stroke-width="1.7" fill="none"/>
<path d="M362.2 848.5h1.7M357.8 820.6h1.7M361.5 888h1.7M361.3 887.6h1.7M365.6 831.7h1.7M354.8 838.4h1.7M355.2 828.5h1.7M350.2 833.2h1.7M364.4 871.6h1.7M365.2 860.5h1.7M353.9 869.3h1.7M349.9 849.7h1.7M364.2 842.1h1.7M351.5 852.8h1.7M369.2 863.5h1.7M361.5 881.4h1.7M366 822.4h1.7M356.1 828.2h1.7M356.4 828.9h1.7M349.7 852.4h1.7M363.3 872.3h1.7M351.1 860.1h1.7M321 826.8h1.7M318.8 826.6h1.7M317.3 827.9h1.7M315.4 852.2h1.7M332.6 848h1.7M319 861.5h1.7M338.8 846.5h1.7M307.8 878.2h1.7M316 867.6h1.7M319.4 873.5h1.7M297.1 867.9h1.7M322.6 851.8h1.7M347.4 870.2h1.7" stroke="#a8a8a8" stroke-width="1.7" fill="none"/>
<path d="M361.6 829.6h1.7M366.4 836.4h1.7M356.6 891.7h1.7M359.3 827h1.7M348.6 823.3h1.7M351.6 838.5h1.7M356.8 842.4h1.7M354.4 867.6h1.7M364.2 871.2h1.7M349.3 833.4h1.7M357 889.3h1.7M366.5 840.2h1.7M367 879.6h1.7M352.8 859.5h1.7M347.3 833.2h1.7M361.3 834h1.7M352.8 864.5h1.7M363.8 842.7h1.7M360.2 863.7h1.7M365.1 867.3h1.7M359.5 871.6h1.7M371.3 854.1h1.7M365.8 843.1h1.7M352.6 833.1h1.7M365.6 887.2h1.7M358.9 841.9h1.7M360.9 887.5h1.7M350.5 855.6h1.7M369.5 858.8h1.7M358 881.5h1.7M363.7 853.1h1.7M368.8 846.1h1.7M366.8 846.4h1.7M366.5 828.1h1.7M351.1 842.6h1.7M355.5 885.3h1.7M351.1 848.5h1.7M350.3 838.1h1.7M351.6 869.7h1.7M320.2 825h1.7M343.1 828h1.7M340.2 823.2h1.7M341.8 820.6h1.7M339.1 823.5h1.7M335.5 831.4h1.7M329 831.4h1.7M339.9 832.7h1.7M339.4 826.9h1.7M340.3 825.8h1.7M337.4 824h1.7M304.7 825.5h1.7M312.4 827.7h1.7M312.1 827.5h1.7M306.4 824h1.7M302.3 826.5h1.7M306.2 824.9h1.7M315.2 826.1h1.7M315.8 827.7h1.7M307.7 823.7h1.7M311 827h1.7M313.8 826.4h1.7M337.5 851.2h1.7M290.6 891.7h1.7M317.2 864.5h1.7M310.9 869h1.7M317.8 878.2h1.7M310.9 884.7h1.7M344.3 859.1h1.7M355.3 847.5h1.7M350.1 862.7h1.7" stroke="#9a9a9a" stroke-width="1.7" fill="none"/>
<path d="M363.3 843.3h1.7M368.7 839.2h1.7M370.4 833.2h1.7M367.2 832.4h1.7M364.5 870.7h1.7M366.2 879.9h1.7M358 831.3h1.7M365.9 874h1.7M370.5 854.5h1.7M346.5 825.8h1.7M368.2 828.2h1.7M361.7 860.8h1.7M351.8 843.4h1.7M365.7 842.6h1.7M362.6 848.4h1.7M354.6 868.3h1.7M353 847.9h1.7M361 836.9h1.7M348.2 843.2h1.7M354.5 836.4h1.7M358.7 831.5h1.7M351.7 875.7h1.7M367.5 840.8h1.7M365.4 829.8h1.7M361.7 852.6h1.7M367.4 844.3h1.7M354.2 821.2h1.7M358.4 839.4h1.7M330.2 823.9h1.7M332.1 831.9h1.7M334.8 828.5h1.7M343.5 833.1h1.7M343.3 831.3h1.7M338 827.3h1.7M337 820.6h1.7M342.4 822.3h1.7M340.9 824.4h1.7M343.9 832.1h1.7M320.1 825.8h1.7M345.6 830.8h1.7M333.1 828.5h1.7M329.4 827.1h1.7M343 832.1h1.7M340.2 826.3h1.7M331.4 830.4h1.7M332 822.8h1.7M329 825.9h1.7M321.6 827.3h1.7M331.1 825.3h1.7M333.3 822.2h1.7M336.1 822h1.7" stroke="#8a8a8a" stroke-width="1.7" fill="none"/>
<path d="M350.6 853.1h1.7M353.8 824.4h1.7M358.4 855.7h1.7M367.9 825.6h1.7M359.5 847.6h1.7M356.2 849.7h1.7M357.3 837h1.7M359.6 835.7h1.7M360.7 841.4h1.7M368.6 829.1h1.7M355.5 855.1h1.7M369.9 829.5h1.7M358.4 862.7h1.7M350 836.5h1.7M369.7 857.7h1.7M362.7 833.6h1.7M342.7 831.6h1.7M334.6 821.2h1.7M328.5 821.9h1.7M337.3 820.5h1.7M335.1 827.9h1.7M325.5 827.7h1.7M320.6 827.8h1.7M345.5 830.3h1.7M334.9 829.6h1.7M343.8 819.8h1.7M326.1 824.2h1.7" stroke="#7a7a7a" stroke-width="1.7" fill="none"/>
<path d="M352.2 826.6h1.7M358.2 869.7h1.7M355.7 872.9h1.7M351.8 851.9h1.7M367.4 854.7h1.7M350.4 841.1h1.7M351 860.3h1.7M357.3 855.8h1.7M352 877.7h1.7M357.4 841.1h1.7M359.7 860.8h1.7M344 830.5h1.7M322.3 823.2h1.7M323.4 824.7h1.7M332.2 828.6h1.7M325.4 829.5h1.7M339.8 823.6h1.7M333.4 821.2h1.7M344.1 829.3h1.7M336.6 825.6h1.7M326.6 827.2h1.7M343.3 833.5h1.7M342.4 823.4h1.7M335.4 823.4h1.7M329.7 823h1.7M338.6 822.4h1.7" stroke="#6a6a6a" stroke-width="1.7" fill="none"/>
<path d="M356.8 887.8h1.7M359.3 848.9h1.7M348.2 839.5h1.7M358.1 890.2h1.7M352 860.1h1.7M357 873.6h1.7M350.9 851.6h1.7M362.8 881.3h1.7M366.4 831.3h1.7M356.3 847.9h1.7M363.9 829.7h1.7M352.6 836.9h1.7M370.3 829.3h1.7M360.8 853.2h1.7M368.2 877.4h1.7M341.4 831.9h1.7M343.8 820h1.7M337.6 832.1h1.7M325.3 828.8h1.7M344.9 825.4h1.7M326.1 827.3h1.7M342.2 833h1.7" stroke="#5a5a5a" stroke-width="1.7" fill="none"/>
</g>
<path d="M325.9 858.9h1.5M307.9 882.7h1.5M315.2 874.5h1.5M337.4 857.7h1.5M301.1 872.3h1.5M305.1 871.1h1.5M322.2 869.4h1.5M327.8 863.1h1.5M331.9 859.5h1.5M308.3 877h1.5M302.7 878.5h1.5M299.4 869.9h1.5M313.9 873h1.5M330.2 862.9h1.5M333.3 845.8h1.5M320.1 865.6h1.5M308.4 881.8h1.5M314.9 858.9h1.5M361.8 830.8h1.5M327.8 856.2h1.5M347.7 838.8h1.5M302.2 870h1.5M315.7 890.6h1.5M333.4 868h1.5M336 860.5h1.5M340 852.5h1.5M297.3 861.4h1.5M332.1 849.4h1.5M314.7 872.4h1.5M313.4 879.5h1.5M342.9 890.9h1.5M334.1 882.7h1.5M295.5 880.9h1.5M341.1 854.9h1.5M303.8 893h1.5M292.7 855.2h1.5M325.2 856.3h1.5M297.2 889.4h1.5M318.1 891.7h1.5M326.8 853h1.5M294.5 881.1h1.5M294.6 853.6h1.5M337.2 852.3h1.5M299.5 899.3h1.5M308.7 850h1.5M298.3 868.5h1.5M300.1 875.4h1.5M294.9 896.4h1.5M350.1 886.7h1.5" stroke="#d2d2d2" stroke-width="1.5" fill="none"/>
<path d="M322.4 867.8h1.5M311.8 875.4h1.5M323.2 858.8h1.5M331.3 845.8h1.5M312.7 869.2h1.5M336.1 857.1h1.5M327.3 855.2h1.5M321 859.6h1.5M330.2 853.1h1.5M311.2 870.6h1.5M311.2 856.5h1.5M299.2 881.1h1.5M329.6 831.8h1.5M344.7 858.9h1.5M325.7 865.2h1.5M320.9 849.2h1.5M335.8 872h1.5M304.1 873.1h1.5M325.4 865.9h1.5M320 876.9h1.5M300.4 877.6h1.5M301.7 881.2h1.5M322 854.4h1.5M315.2 872.6h1.5M308.7 859.2h1.5M304.2 894h1.5M336.7 864h1.5M319.6 881.4h1.5M308.3 866.2h1.5M300.7 899.4h1.5M301 861.1h1.5M320.5 896.8h1.5M342.1 865.9h1.5M298.9 845.2h1.5M302.2 874.4h1.5M305.6 862.4h1.5M311 875.3h1.5M332.2 880.4h1.5M330.7 848.3h1.5M325.5 845.7h1.5M298.9 890.5h1.5M327.1 863.7h1.5M305.5 868.9h1.5M334.6 896.4h1.5M313.3 895.4h1.5M337.2 856.9h1.5M301.4 879.7h1.5M339.2 884.5h1.5M325.5 881.5h1.5M342.7 888.7h1.5M323.1 870.8h1.5M317.4 893.4h1.5M322 863.8h1.5M309.2 872.6h1.5M312.3 856.9h1.5M345.7 851.8h1.5" stroke="#c8c8c8" stroke-width="1.5" fill="none"/>
<path d="M356 871.4h1.5M356.5 827.8h1.5M367.3 837.2h1.5M369.3 852.1h1.5M354.8 848.5h1.5M354.2 852h1.5M347.3 823.6h1.5M360.7 866.1h1.5M359.1 840h1.5M359.5 841.9h1.5M356.3 830.4h1.5M354 868.5h1.5M358.3 867.8h1.5M353.5 830.9h1.5M352 840.4h1.5M356.3 835.8h1.5M363.7 874.2h1.5M364.5 882.3h1.5M364.3 879.8h1.5M365 883.2h1.5M363.3 831.9h1.5M367.2 849.3h1.5M366.7 862.6h1.5M306.4 827.4h1.5M319.9 826.4h1.5M315.5 826h1.5M312 878.6h1.5M305 880h1.5M293 866.7h1.5M311 854.9h1.5M335.6 856h1.5M309 880.5h1.5M320.2 873.7h1.5M309.7 868.3h1.5M321.5 851.6h1.5M304 881.8h1.5M351.3 855.1h1.5M345.6 847.6h1.5" stroke="#c4c4c4" stroke-width="1.5" fill="none"/>
<path d="M314.4 860.2h1.5M316.5 861.1h1.5M316.7 868.1h1.5M322.2 859.4h1.5M295.6 878.7h1.5M316.2 869.5h1.5M314.5 858.6h1.5M314.8 864.8h1.5M332.9 845.4h1.5M322.1 870.8h1.5M327.2 855.5h1.5M313.8 882.9h1.5M299.3 876.6h1.5M312.5 870.4h1.5M297 886h1.5M319.2 862.9h1.5M333.9 861.8h1.5M316.8 858.4h1.5M310.5 872.5h1.5M303.2 869.7h1.5M324.3 868.1h1.5M320.2 871.7h1.5M309.6 867.2h1.5M330.3 879h1.5M343.4 859.8h1.5M312.9 889.7h1.5M312.2 864.9h1.5M294.4 847.5h1.5M305.6 884.3h1.5M337 851.2h1.5M332.7 898.2h1.5M340.1 868.9h1.5M323.3 845.1h1.5M338.4 846.9h1.5M334.5 870.5h1.5M321.9 883.3h1.5M297.2 882.5h1.5M315.4 845.6h1.5M322.5 854.7h1.5M332.7 851.6h1.5M319.9 874.8h1.5M316.1 893.5h1.5M310.2 889.1h1.5M315.4 893.5h1.5M339.6 864.7h1.5M325 863.9h1.5M292.4 895.2h1.5M348.3 849.1h1.5M353.9 887.3h1.5M354.1 888.9h1.5" stroke="#bdbdbd" stroke-width="1.5" fill="none"/>
<path d="M358.4 884.1h1.5M355 857.4h1.5M354.5 824.2h1.5M351.2 863.8h1.5M361.4 881.3h1.5M368.7 829.1h1.5M353.1 876.1h1.5M351 866.4h1.5M358.1 854.5h1.5M365.5 852.8h1.5M366.1 862.2h1.5M351.3 863.1h1.5M361.1 846.4h1.5M364.4 831.7h1.5M354.6 882.3h1.5M359.4 836.1h1.5M366.6 833.7h1.5M351.4 837.6h1.5M367.1 876.4h1.5M359.2 881.9h1.5M366.7 880.8h1.5M351.6 879.5h1.5M359.9 887.1h1.5M354.9 859h1.5M369.5 829.1h1.5M362.9 888.4h1.5M356.1 882.6h1.5M362.9 838h1.5M358.4 834.1h1.5M347.7 839h1.5M354.3 866.2h1.5M367.7 822.2h1.5M351.3 849.9h1.5M319.1 824.8h1.5M307.4 828.4h1.5M314.9 827.7h1.5M306.3 823.7h1.5M336.2 846h1.5M318.7 865.2h1.5M297.4 883.4h1.5M323.4 879h1.5M300.9 875.1h1.5M305 872.2h1.5M313.9 866.1h1.5M306.6 868.5h1.5M319.1 870.9h1.5M318.9 861.9h1.5M321.4 854.3h1.5M316.8 876.2h1.5M305.6 878.2h1.5M327.5 851.9h1.5M306.5 872.1h1.5M291.7 879h1.5M353.5 857h1.5M345.2 885.5h1.5M355.1 896.3h1.5M345.9 866h1.5" stroke="#b8b8b8" stroke-width="1.5" fill="none"/>
<path d="M364.1 831.6h1.5M355.5 867.9h1.5M361.9 822.5h1.5M357.8 871.6h1.5M354.8 840.2h1.5M361.9 861.7h1.5M353.6 852.2h1.5M350.9 866.1h1.5M361.6 823.8h1.5M366.8 846.3h1.5M357.9 822.5h1.5M356.2 851.1h1.5M361.7 856.9h1.5M360.1 861.2h1.5M359.9 879.8h1.5M347.1 830h1.5M356.8 840.8h1.5M355.7 831h1.5M352.1 861h1.5M360.1 854.1h1.5M356.2 887.6h1.5M357.8 845.2h1.5M322.7 825.1h1.5M338.4 829.7h1.5M329.3 828.7h1.5M335.8 824.9h1.5M344.9 823h1.5M338.9 820.6h1.5M328.4 826.5h1.5M313.9 825.8h1.5M303.8 826.9h1.5M311.7 825h1.5M313.6 826.1h1.5M312.8 823.9h1.5" stroke="#b5b5b5" stroke-width="1.5" fill="none"/>
<path d="M354.9 880.7h1.5M347.5 839.4h1.5M363.4 849.6h1.5M357.7 826.6h1.5M356.8 874.6h1.5M368.1 872.6h1.5M356.9 854.6h1.5M351.4 849.9h1.5M361.4 870.1h1.5M361.3 828.4h1.5M358.6 862.2h1.5M350.5 863.6h1.5M370.3 839.9h1.5M364.6 828.7h1.5M362.4 888.9h1.5M348 843.9h1.5M364.5 874.8h1.5M351.9 843.5h1.5M351.8 864h1.5M368.8 841.1h1.5M359.1 872.5h1.5M368.4 865.8h1.5M348 821.1h1.5M325.6 830.5h1.5M335.6 827.5h1.5M333.9 830.2h1.5M328.1 826.5h1.5M341.3 827.5h1.5M322.4 828.1h1.5M330 822.3h1.5M342.5 832.3h1.5M337.1 821.8h1.5M341.6 830.8h1.5M341.5 822h1.5M342.2 824.8h1.5M342.7 830h1.5M332.3 824.3h1.5M327.4 829.4h1.5M303.2 826.5h1.5M311.7 826.1h1.5M304.2 826.4h1.5" stroke="#aaaaaa" stroke-width="1.5" fill="none"/>
<path d="M361.2 849.9h1.5M347.3 824.1h1.5M366.8 823.8h1.5M352.5 870.7h1.5M362.5 828.2h1.5M355.2 884.2h1.5M366.1 829.4h1.5M367.1 850.1h1.5M356.6 870.5h1.5M366.9 876.9h1.5M353.5 880.8h1.5M359 890.2h1.5M357 866.6h1.5M363.8 839.2h1.5M363.6 840.9h1.5M353.6 862.3h1.5M357.5 844.7h1.5M368.7 834.9h1.5M365.9 858.3h1.5M350.8 834.1h1.5M313.5 826.8h1.5M319.3 826.7h1.5M303.2 827.1h1.5M319.2 822.8h1.5M320.9 824.9h1.5M308.3 883h1.5M325.2 850h1.5M317.2 849.5h1.5M306.9 883.5h1.5M312.3 881.6h1.5M313.4 865.9h1.5M315.2 866.4h1.5M321.3 858.5h1.5M326.7 856.8h1.5M310.7 870.4h1.5M323.4 858.1h1.5M305.4 878.7h1.5M354.5 848.9h1.5M354.5 845.1h1.5M355.4 845.5h1.5M351 876.2h1.5M350.7 890.2h1.5M344.3 858.2h1.5" stroke="#a8a8a8" stroke-width="1.5" fill="none"/>
<path d="M364.3 850h1.5M365.1 837.5h1.5M359.8 860.9h1.5M365.6 885.6h1.5M356.7 880.9h1.5M365.2 858.3h1.5M353 853.2h1.5M353.5 860.1h1.5M350.8 853.8h1.5M351.6 862.4h1.5M364.1 881.3h1.5M355.9 881h1.5M353.2 876.8h1.5M362.3 887.9h1.5M362.3 830.6h1.5M366.7 844.9h1.5M348 844.5h1.5M366 857.7h1.5M366.1 875.3h1.5M365.1 870.6h1.5M370 850.6h1.5M359.9 835.9h1.5M368 830.7h1.5M365.6 836.6h1.5M360 836.6h1.5M363.3 862.3h1.5M359.9 824.8h1.5M351.4 836.5h1.5M361.4 855.6h1.5M359.8 865.4h1.5M364.3 860.5h1.5M356.6 864.5h1.5M365 838h1.5M354.8 829.8h1.5M340.1 829.3h1.5M333.2 831.8h1.5M327.1 824.4h1.5M342.2 821.9h1.5M343.9 821.2h1.5M343.4 830.7h1.5M326.3 825.2h1.5M343 832.8h1.5M344.1 832.1h1.5M340.4 826.5h1.5M337.1 820.9h1.5M339.7 823.6h1.5M326.8 829.7h1.5M344.4 827.2h1.5M317.5 827.4h1.5M318.5 823.3h1.5M312.9 824.7h1.5M308.9 825.4h1.5M321.9 823.7h1.5M311.1 824.6h1.5M320 823.4h1.5M320.4 862.8h1.5M306.6 880.5h1.5M323.5 860h1.5M342.4 851.3h1.5M311.8 882h1.5M325.4 860h1.5M330.9 853.7h1.5M311.6 863.9h1.5M339.9 854.4h1.5M343.7 867.3h1.5M354.2 877.5h1.5M345.9 899.3h1.5M346.4 887.3h1.5" stroke="#9a9a9a" stroke-width="1.5" fill="none"/>
<path d="M349.3 827h1.5M360.2 885.8h1.5M353.3 864.6h1.5M363.7 877.3h1.5M369 858.9h1.5M368.8 834.5h1.5M362.6 884.6h1.5M353.2 856.4h1.5M365 830.2h1.5M359.2 875.5h1.5M362.3 822.4h1.5M356.7 885.6h1.5M354.2 871.3h1.5M363.2 854.4h1.5M355.4 867.9h1.5M368.7 820.9h1.5M360.5 838.8h1.5M359 831h1.5M360.5 835.3h1.5M350.8 853.5h1.5M348.7 849.3h1.5M364.8 856.6h1.5M367.1 833h1.5M359.6 869.2h1.5M355.8 848h1.5M359.5 847.9h1.5M366.2 832.8h1.5M358.5 846.2h1.5M368.9 834.6h1.5M354.6 883.2h1.5M350.7 847.4h1.5M356.7 864.7h1.5M367.8 872.1h1.5M355.4 852h1.5M362.7 837.4h1.5M354 865.5h1.5M355.6 826.8h1.5M354.6 876.1h1.5M368.9 838.9h1.5M368.7 864.2h1.5M366.3 836.2h1.5M355.7 833.5h1.5M363.4 863.9h1.5M329.7 830.5h1.5M338.8 821h1.5M342.7 825.3h1.5M342.4 823.3h1.5M325.8 822.9h1.5M324.1 825.1h1.5M338.9 828.7h1.5M328.8 825.1h1.5M335.5 826.7h1.5M324.4 826.9h1.5M335.8 826.1h1.5M339.7 824.2h1.5M330.1 823.5h1.5M322.3 826.6h1.5M341.5 822.9h1.5M339.2 821.9h1.5M345 831h1.5M335.2 824h1.5M339.7 826h1.5M343.9 822.6h1.5M327.2 828.2h1.5M343.7 830.5h1.5M325.9 823.7h1.5M324.6 828.5h1.5M342 822.2h1.5M335.2 824h1.5M335.6 831.7h1.5M323.5 829.9h1.5M303.6 824.3h1.5M318.4 824h1.5M312.9 823.3h1.5" stroke="#8a8a8a" stroke-width="1.5" fill="none"/>
<path d="M346 827.9h1.5M365.8 857h1.5M356.5 850.1h1.5M370.1 833h1.5M366.7 848h1.5M348.5 827.8h1.5M350 827.5h1.5M359.4 844.6h1.5M359.8 854.2h1.5M351.1 859.5h1.5M352.8 822.7h1.5M326.6 830.6h1.5M345.1 828.6h1.5M326.4 824.4h1.5M335.9 826.8h1.5M334.6 832.4h1.5M343.7 820.6h1.5M337.4 820.7h1.5M322.2 826.7h1.5M321.5 823.1h1.5M327.5 826.9h1.5M324.7 825.6h1.5M339.4 829.6h1.5M345.5 829.1h1.5M323.6 828.7h1.5M338.7 832h1.5M330.5 826h1.5" stroke="#7a7a7a" stroke-width="1.5" fill="none"/>
<path d="M354.2 868.9h1.5M363.5 862.6h1.5M361 837.1h1.5M351.2 873.6h1.5M354.3 828.9h1.5M354.6 823.4h1.5M355.4 825.1h1.5M360 861.7h1.5M355.9 841.4h1.5M363.5 879.4h1.5M362.6 821.1h1.5M368.6 820.1h1.5M352.4 838.3h1.5M365.4 883.4h1.5M364.1 874.8h1.5M345.4 831.1h1.5M332.3 822.8h1.5M325.9 824h1.5M323 826.8h1.5M326.5 823.6h1.5M338.6 830.8h1.5M329.4 831h1.5M325.6 822.6h1.5M322.6 829.8h1.5" stroke="#6a6a6a" stroke-width="1.5" fill="none"/>
<path d="M367.4 823.1h1.5M355.3 888.8h1.5M366.4 836.1h1.5M366.1 847.2h1.5M366 869.3h1.5M360.5 824.5h1.5M358.3 883h1.5M355.5 870.9h1.5M361.3 874.7h1.5M353 874.7h1.5M351.7 834.1h1.5M356.9 876.2h1.5M353.9 842.7h1.5M360.4 850.4h1.5M364.7 847.3h1.5M351.3 853.9h1.5M365.7 881.9h1.5M358.3 839.7h1.5M355.1 889h1.5M323.7 825h1.5M320.2 830.3h1.5M334.4 830.2h1.5M332.5 828.6h1.5M334.2 824.6h1.5M338.3 832.4h1.5M342.3 821.5h1.5M328.6 830.3h1.5M320.2 827.6h1.5M345.5 821h1.5M332.5 829.5h1.5M345.5 825.3h1.5M332.5 823.7h1.5M326.4 827.1h1.5M338 827.6h1.5" stroke="#5a5a5a" stroke-width="1.5" fill="none"/>
</g>
<line x1="343.6" y1="804.6" x2="343.6" y2="901.5" stroke="#999" stroke-width="1.1"/>
<line x1="289.4" y1="842" x2="386.6" y2="842" stroke="#999" stroke-width="1.1"/>
<rect x="289.4" y="804.6" width="97.2" height="96.9" fill="none" stroke="#9a9a9a" stroke-width="1.3"/>
<path d="M289.4 898.5h-4M289.4 892.4h-2.5M289.4 886.3h-2.5M289.4 880.2h-2.5M289.4 874.1h-4M289.4 868h-2.5M289.4 861.9h-2.5M289.4 855.8h-2.5M289.4 849.7h-4M289.4 843.6h-2.5M289.4 837.5h-2.5M289.4 831.4h-2.5M289.4 825.3h-4M289.4 819.2h-2.5M289.4 813.1h-2.5M289.4 807h-2.5M292.4 901.5v4M298.5 901.5v2.5M304.6 901.5v2.5M310.7 901.5v2.5M316.8 901.5v4M322.9 901.5v2.5M329 901.5v2.5M335.1 901.5v2.5M341.2 901.5v4M347.3 901.5v2.5M353.4 901.5v2.5M359.5 901.5v2.5M365.6 901.5v4M371.7 901.5v2.5M377.8 901.5v2.5M383.9 901.5v2.5" stroke="#b0b0b0" stroke-width="0.9" fill="none"/>
<text x="293.17" y="817.8" font-size="14.5" style="stroke-width:0.45px" fill="#000" stroke="#000" textLength="21.05" lengthAdjust="spacingAndGlyphs">4%</text>
<text x="357.85" y="817.8" font-size="14.5" style="stroke-width:0.45px" fill="#000" stroke="#000" textLength="29.07" lengthAdjust="spacingAndGlyphs">34%</text>
<text x="293.78" y="899" font-size="14.5" style="stroke-width:0.45px" fill="#000" stroke="#000" textLength="19.71" lengthAdjust="spacingAndGlyphs">3%</text>
<text x="357.33" y="899" font-size="14.5" style="stroke-width:0.45px" fill="#000" stroke="#000" textLength="28.27" lengthAdjust="spacingAndGlyphs">59%</text>
<clipPath id="c10"><rect x="403" y="804.5" width="96.8" height="97"/></clipPath>
<g clip-path="url(#c10)">
<path d="M453.6 824L482.1 821L483.1 853L480.1 880L479.1 887L463.1 888L457.1 878L457.6 853L453.6 840z" fill="#000" opacity="0.14" filter="url(#b2)"/>
<path d="M458.6 823L480.1 822L481.6 853L479.1 878L478.1 885L465.1 886L460.6 878L462.6 853L459.6 840z" fill="#000" opacity="0.5" filter="url(#b1)"/>
<path d="M464.6 828L476.1 828L476.1 878L469.1 882L464.1 878L464.6 850z" fill="#000" opacity="0.1" filter="url(#b2)"/>
<path d="M445 822.5L458.6 819.5L458.6 834L445 830.5z" fill="#000" opacity="0.48" filter="url(#b1)"/>
<path d="M427 824L447 822.5L447 830L427 828z" fill="#000" opacity="0.14" filter="url(#b2)"/>
<ellipse cx="461.6" cy="828" rx="9" ry="8" fill="#000" opacity="0.12" filter="url(#b2)"/>
<ellipse cx="430.6" cy="866" rx="30" ry="11" transform="rotate(-42 430.6 866)" fill="#000" opacity="0.1" filter="url(#b3)"/>
<ellipse cx="414.6" cy="888" rx="14" ry="9" transform="rotate(-30 414.6 888)" fill="#000" opacity="0.06" filter="url(#b3)"/>
<rect x="404.6" y="844" width="51" height="56" fill="#000" opacity="0.05" filter="url(#b3)"/>
<g filter="url(#b0)">
<path d="M435.4 863.3h1.7M438 856.1h1.7M450.3 842.7h1.7M413.9 867.6h1.7M437.4 854h1.7M427.8 870.1h1.7M428.3 873.1h1.7M434.1 869.2h1.7M437.3 852.7h1.7M419.2 866.7h1.7M431.9 870.3h1.7M450.9 837.1h1.7M441.6 853.1h1.7M452.4 844.1h1.7M426 866.6h1.7M433.2 884.4h1.7M407.6 861.3h1.7M406.7 891.7h1.7M439.1 875.2h1.7M419.8 868h1.7M456.1 895.1h1.7M442.7 896.1h1.7M441.4 862.4h1.7M455.2 886.6h1.7M410.7 874.7h1.7M417 857.7h1.7M423.2 855.8h1.7M453.8 866.1h1.7M465.7 858.4h1.7M467.6 854.9h1.7" stroke="#d2d2d2" stroke-width="1.7" fill="none"/>
<path d="M424.1 867.4h1.7M438.3 862.5h1.7M431.5 865.7h1.7M434.1 858.1h1.7M429.2 873.7h1.7M438.5 855.1h1.7M441.8 863.9h1.7M440.3 852.5h1.7M429.2 879.4h1.7M453.5 856.9h1.7M432.9 875h1.7M416.9 858.6h1.7M432.2 882.9h1.7M415.4 870.8h1.7M439.3 863.4h1.7M454.2 855.7h1.7M425.7 894h1.7M435.5 894.2h1.7M405.2 869.3h1.7M445.7 862h1.7M451.2 856.8h1.7M418.2 887.6h1.7M443.1 894.8h1.7M420.4 854.8h1.7M442 855.8h1.7M432.9 862.1h1.7M407 855.3h1.7M434.4 887.8h1.7M451.4 853.8h1.7M451.5 893.8h1.7M447 855.1h1.7M414.2 860.7h1.7M414.3 890.8h1.7M410.1 857.5h1.7M462 862.2h1.7" stroke="#c8c8c8" stroke-width="1.7" fill="none"/>
<path d="M463.4 829.4h1.7M476.7 873.6h1.7M465.4 846.9h1.7M472.8 883.4h1.7M470.7 873.5h1.7M470.5 826.6h1.7M477.2 877.2h1.7M462.9 875.7h1.7M462.9 882.1h1.7M475.5 883.7h1.7M470 863.1h1.7M479.5 862.4h1.7M465.7 867.2h1.7M473.1 884.4h1.7M466.8 883.7h1.7M466.8 862.4h1.7M463.6 839.3h1.7M440 825.8h1.7M430.8 826.5h1.7M435 824.8h1.7M438.3 824.1h1.7M436.8 827.1h1.7M453.3 852.9h1.7M410.9 880.3h1.7M424.2 858.4h1.7M424.4 862.8h1.7M430.7 878.4h1.7M421.7 873.8h1.7M438.7 860.4h1.7M432.3 865.2h1.7M433.7 873.6h1.7M431.8 874.5h1.7M420.4 875h1.7M467.3 884.6h1.7M468.3 893.3h1.7M468.3 881.4h1.7M461.2 854.1h1.7M467.7 850.4h1.7" stroke="#c4c4c4" stroke-width="1.7" fill="none"/>
<path d="M428.8 854.5h1.7M424.3 882.6h1.7M437.1 837.1h1.7M441.1 854.1h1.7M406.9 884.3h1.7M414.2 877.4h1.7M440.8 860.8h1.7M442.9 868.7h1.7M439.5 866h1.7M444.2 866.6h1.7M413.6 870.9h1.7M438.2 855.4h1.7M457.3 855.3h1.7M427.3 864.3h1.7M436.2 876.4h1.7M423.8 863.4h1.7M413.4 884.5h1.7M415.7 871.3h1.7M433.3 863.3h1.7M446.9 891.5h1.7M410.2 844.3h1.7M441.8 861.7h1.7M404.8 882.7h1.7M436.7 862.6h1.7M444.6 884.9h1.7M408.1 847.9h1.7M443.2 844.7h1.7M454.6 862.7h1.7M456.3 859.6h1.7M408.5 873.4h1.7M414.4 862h1.7M425.5 845.4h1.7M451.1 861.9h1.7M443.9 864.9h1.7M424.9 862.5h1.7M428.6 845.1h1.7M436.7 883.3h1.7M417.2 881.2h1.7M453.2 873.1h1.7M446.2 869.2h1.7M424.5 869.3h1.7M463.9 853h1.7" stroke="#bdbdbd" stroke-width="1.7" fill="none"/>
<path d="M462 877.3h1.7M469.9 824.6h1.7M473.6 868.4h1.7M475 828.6h1.7M476.6 825.7h1.7M464.9 851.7h1.7M461.7 837.8h1.7M474.3 854.2h1.7M474.4 873.7h1.7M466 862.1h1.7M472.3 872.5h1.7M470.3 873.6h1.7M464.3 842.3h1.7M430.9 827.3h1.7M436.7 825.9h1.7M408.5 879h1.7M427.6 873.2h1.7M451.2 837.4h1.7M426.5 878.9h1.7M435.6 865.9h1.7M423 877.9h1.7M421.1 876.8h1.7M436.5 851.8h1.7M412.2 863.3h1.7M467 889.6h1.7M463.8 852.7h1.7M460.6 885.4h1.7" stroke="#b8b8b8" stroke-width="1.7" fill="none"/>
<path d="M475.3 842.7h1.7M464 875.6h1.7M470.9 842h1.7M478.6 835.9h1.7M463.8 864.3h1.7M463.1 838h1.7M476.8 877.8h1.7M474.3 882.7h1.7M463.7 878.6h1.7M475.4 843.4h1.7M473.9 868.1h1.7M479.2 869.5h1.7M470.2 848.1h1.7M478.2 846.2h1.7M478.7 874.6h1.7M471.9 852.3h1.7M454.6 820.4h1.7M448 825.1h1.7M455.4 832.7h1.7M446.2 827.7h1.7M449 827h1.7M453.1 828.8h1.7M429.2 828.1h1.7M435 826.1h1.7" stroke="#b5b5b5" stroke-width="1.7" fill="none"/>
<path d="M466.2 838.4h1.7M463.3 829.1h1.7M459.7 833h1.7M467.2 826.5h1.7M476 878.3h1.7M475.1 831.1h1.7M466.1 833.1h1.7M472.3 873.8h1.7M474.6 825.9h1.7M467.7 881.7h1.7M463.8 873.3h1.7M480.1 859.3h1.7M464.1 828.9h1.7M477.5 876.3h1.7M470 851h1.7M464.6 866.4h1.7M471.4 882.8h1.7M473.3 860.2h1.7M473.4 870.6h1.7M447 824.6h1.7M452.3 828.3h1.7M451.8 826.5h1.7M450.5 825.4h1.7M458 833.1h1.7M455.6 832.9h1.7M452.5 826.9h1.7M457.2 822.3h1.7M448.4 825h1.7M442.9 823.8h1.7M443.7 825.1h1.7" stroke="#aaaaaa" stroke-width="1.7" fill="none"/>
<path d="M479.8 854.8h1.7M465.5 849.3h1.7M478.2 883.4h1.7M468.6 830.5h1.7M471.5 848.7h1.7M462 874.1h1.7M475.6 846.2h1.7M473.3 864.2h1.7M472.4 822.9h1.7M469 845.3h1.7M472 885.4h1.7M472.9 885.3h1.7M474.4 869.4h1.7M442.8 828.4h1.7M434.8 823.7h1.7M435.3 824h1.7M443.4 825.9h1.7M427.6 874.2h1.7M425.2 855.1h1.7M418.2 863.3h1.7M435.1 866.4h1.7M429.5 878.6h1.7M415.4 892.7h1.7M425.8 854.1h1.7M434.1 875.9h1.7M468.6 876.9h1.7M460 895.6h1.7M459 883.6h1.7M462.2 876.9h1.7M461.1 881.7h1.7" stroke="#a8a8a8" stroke-width="1.7" fill="none"/>
<path d="M465.5 856h1.7M472 843.9h1.7M479.5 857h1.7M475.1 880.3h1.7M476.1 876.9h1.7M462.7 837.7h1.7M474.7 839.6h1.7M469.6 849.2h1.7M471 834.7h1.7M477.2 838.6h1.7M463.6 839.5h1.7M464.2 850.8h1.7M473.3 880.8h1.7M467.5 862.3h1.7M478 869h1.7M463.1 833.8h1.7M473.3 824.5h1.7M466.4 880.4h1.7M465.8 874.2h1.7M466.1 883.6h1.7M477.3 875.7h1.7M470.7 836.8h1.7M455.5 825.6h1.7M450.8 831.2h1.7M451 828.3h1.7M457.5 825.6h1.7M453.5 829.3h1.7M454 832.5h1.7M452.3 825.5h1.7M453.1 829.9h1.7M446 828.8h1.7M445.6 829h1.7M446.4 824.1h1.7M444.2 829.3h1.7M440.4 826.5h1.7M437.6 825.4h1.7M439 827.1h1.7M444.5 826h1.7M411.3 866.3h1.7M424.9 876.6h1.7M434.3 874.8h1.7M432.9 864.3h1.7M422.1 868.8h1.7M445.5 857.3h1.7M459.4 840.1h1.7" stroke="#9a9a9a" stroke-width="1.7" fill="none"/>
<path d="M478 851.7h1.7M480.5 852.6h1.7M468.1 876.2h1.7M465.2 857.3h1.7M479.9 862.7h1.7M461.1 872.4h1.7M473.8 866.4h1.7M479.5 828h1.7M466.7 865.3h1.7M470.4 880.1h1.7M463.6 833.9h1.7M476.3 870.5h1.7M477.8 862.9h1.7M463.9 868.1h1.7M477 831.2h1.7M479 870.4h1.7M471.5 843.2h1.7M468.2 860.8h1.7M474.5 861.3h1.7M466.2 880.6h1.7M476.4 866.9h1.7M472.2 823.5h1.7M476.2 828.1h1.7M472.4 858h1.7M474.8 840.7h1.7M450.1 828.5h1.7M453.7 825.5h1.7M452.4 822.3h1.7M457.9 826.3h1.7M450.2 825.5h1.7M450.6 826.5h1.7M455 821h1.7M454.2 832.1h1.7M448.4 825.9h1.7M452.9 825.1h1.7M456.7 826.8h1.7M457.3 828.7h1.7M452.8 822h1.7M458.2 830.6h1.7M454 827.3h1.7M446.7 829h1.7M449.8 823.2h1.7M445.7 824.8h1.7M454.7 821.3h1.7M445.5 823.6h1.7M448.8 831.2h1.7M446.1 824.5h1.7M445.2 826.2h1.7M427.8 825h1.7M441.4 826.2h1.7" stroke="#8a8a8a" stroke-width="1.7" fill="none"/>
<path d="M477.1 864.7h1.7M464.9 839.5h1.7M465.2 840.5h1.7M461.6 828.9h1.7M477.1 827.1h1.7M473.4 829.6h1.7M478.1 865.1h1.7M460.3 833.1h1.7M478.4 831.7h1.7M455.6 824.8h1.7M458.1 822.6h1.7M456.2 832.3h1.7M455.1 823.8h1.7M446.5 823.3h1.7M451.6 822.1h1.7M452.5 831.1h1.7M451.9 830.3h1.7" stroke="#7a7a7a" stroke-width="1.7" fill="none"/>
<path d="M468.8 857.2h1.7M460.6 829.7h1.7M462.7 869.3h1.7M465.5 824.4h1.7M467 847.2h1.7M460.1 832.1h1.7M463.4 823.3h1.7M478 884.5h1.7M479 844.7h1.7M474.8 834.2h1.7M477.3 823.4h1.7M466.1 849.2h1.7M464.8 828h1.7M477.2 878.2h1.7M465.9 825.6h1.7M464.7 859.3h1.7M468.4 874.4h1.7M469.9 836.8h1.7M455.7 823.5h1.7M458.3 832.3h1.7M449.4 826.2h1.7M451 826.8h1.7M450.3 831.8h1.7M446.2 825.8h1.7M445.8 824.2h1.7M450.1 822.8h1.7" stroke="#6a6a6a" stroke-width="1.7" fill="none"/>
<path d="M462.7 879.8h1.7M461.9 871.5h1.7M470.7 862.4h1.7M478.8 830.7h1.7M460.6 841.2h1.7M471.6 834.5h1.7M469 881.4h1.7M477 873.3h1.7M462.8 880.7h1.7M473.7 853.9h1.7M472.2 847.6h1.7M459.1 824.3h1.7M462.1 862.6h1.7M480.2 855.7h1.7M462.4 850.5h1.7M454.4 830.1h1.7M453.8 826.3h1.7M456.3 822.9h1.7M458.2 826.8h1.7M447.6 826.5h1.7M457.1 821.6h1.7M449.1 827.7h1.7M449.3 825h1.7" stroke="#5a5a5a" stroke-width="1.7" fill="none"/>
</g>
<path d="M455.4 849.6h1.5M440 840.3h1.5M443.4 851.9h1.5M431.6 871.4h1.5M417.3 881.3h1.5M436.9 850h1.5M427.6 861.8h1.5M422.4 858.6h1.5M419.6 886.5h1.5M443.3 867.8h1.5M404.6 854.8h1.5M428.7 879.6h1.5M430.7 868.4h1.5M426.2 872h1.5M424.1 862.4h1.5M423.1 865.3h1.5M437 852h1.5M428.8 885.5h1.5M432.7 870.2h1.5M433.5 853h1.5M419.5 877h1.5M420.8 868.5h1.5M419.7 863.1h1.5M419.2 869.1h1.5M410.1 878.9h1.5M450.2 848.3h1.5M415.2 870.8h1.5M435.3 875.1h1.5M433.7 876.9h1.5M427.4 866.5h1.5M440.2 866.7h1.5M434.3 872.6h1.5M404.9 888.3h1.5M438.4 892.7h1.5M437 865.9h1.5M416.2 884.3h1.5M427.7 897.2h1.5M450.6 853.3h1.5M432.4 858.5h1.5M414.2 855.4h1.5M426.2 856.4h1.5M456.4 859h1.5M426.3 891.5h1.5M406.2 868.2h1.5M408.1 865.4h1.5M433.3 872.7h1.5M440.5 859.2h1.5M427.6 850.3h1.5M423.4 874.4h1.5M441.4 849.9h1.5M409.9 870.1h1.5M454.4 852.4h1.5M447.4 893.4h1.5M443.9 854.9h1.5M413 878.5h1.5M405.5 889.6h1.5M411 891.8h1.5M428.9 872.4h1.5M442.5 865.2h1.5M415 872.5h1.5M432 873h1.5M450.1 880.3h1.5M457.1 870.1h1.5M464.7 876.5h1.5M462.7 890.8h1.5" stroke="#d2d2d2" stroke-width="1.5" fill="none"/>
<path d="M422.2 871.1h1.5M436 857.5h1.5M435.2 857.2h1.5M430.9 851.8h1.5M409.6 874h1.5M453.5 854.6h1.5M434 854.9h1.5M442.2 862.8h1.5M429.8 872.6h1.5M428.4 876.8h1.5M425.6 873.1h1.5M411.8 878.6h1.5M434.1 861.7h1.5M428.1 865.1h1.5M435.6 857.3h1.5M432.5 879.2h1.5M420.8 877.2h1.5M449.6 859.3h1.5M446.4 844.1h1.5M431.2 854.8h1.5M434.8 868.7h1.5M431.1 875.4h1.5M442 849.9h1.5M450.1 885.5h1.5M427.1 873.6h1.5M436.7 871.9h1.5M415.6 895.4h1.5M447.9 899.4h1.5M410.5 851.4h1.5M415.8 858.8h1.5M407.9 880.6h1.5M444.2 862.3h1.5M455.8 881.7h1.5M415.8 860h1.5M443.7 887.5h1.5M411.8 858.2h1.5M426.8 876.9h1.5M420.5 879.3h1.5M405.6 898h1.5M424 845.1h1.5M435.4 853.3h1.5M421.9 864.7h1.5M438.7 872.2h1.5M412 867.9h1.5M414.9 882.1h1.5M415.2 861.1h1.5M412.4 857.6h1.5M441.7 883.1h1.5M446.6 875.2h1.5M456.2 851.4h1.5M412.7 860.9h1.5M406 876.7h1.5M450.5 875.2h1.5M416.4 874.1h1.5M409.3 855.7h1.5M435.9 863h1.5M428 860.3h1.5M413.5 890.9h1.5M417.2 866.2h1.5M463 890.7h1.5M459.5 891h1.5" stroke="#c8c8c8" stroke-width="1.5" fill="none"/>
<path d="M477.7 878.8h1.5M477 866.6h1.5M468.4 844.5h1.5M473.2 825.2h1.5M463.5 882.1h1.5M464.8 866h1.5M473.3 855.3h1.5M475.1 822.3h1.5M463.9 857.9h1.5M478.8 875.6h1.5M466.7 872.2h1.5M468 841.1h1.5M475.6 862.2h1.5M473.2 842.8h1.5M472.3 826.4h1.5M478.4 844h1.5M437.8 829h1.5M435.1 824.1h1.5M442.9 827h1.5M428.4 827.3h1.5M441.7 828.2h1.5M438.3 824.6h1.5M436.2 827.6h1.5M433.4 823.5h1.5M441 874.1h1.5M436.7 855.1h1.5M461.8 847.7h1.5M433.2 853.2h1.5M425.1 859.8h1.5M407.9 868.1h1.5M425.4 876.9h1.5M434 853.3h1.5M415.5 861.3h1.5M413.1 883.2h1.5M421 874.6h1.5M417.7 872.5h1.5M430.7 861.2h1.5M431.7 874.9h1.5M445.9 853.8h1.5M467.6 878h1.5M459.4 892.4h1.5M460.6 844.3h1.5" stroke="#c4c4c4" stroke-width="1.5" fill="none"/>
<path d="M453 853.8h1.5M416.3 890h1.5M434.5 877.1h1.5M424.4 859.1h1.5M431.4 854.2h1.5M429.1 873.1h1.5M424.7 871.6h1.5M438.7 869.7h1.5M431.1 848.8h1.5M455 845.1h1.5M446 853.1h1.5M431.7 876.3h1.5M428 873.6h1.5M445.4 840.8h1.5M411.8 877.6h1.5M421.4 870.3h1.5M437.1 862.3h1.5M414.6 880.3h1.5M421.2 886.3h1.5M444.9 893.8h1.5M438 861.2h1.5M450.8 877.4h1.5M451.9 892h1.5M437.1 893.6h1.5M430.7 866.5h1.5M437.1 884.8h1.5M424.2 871.6h1.5M427.9 862.2h1.5M416.7 866h1.5M418.4 880.3h1.5M404.8 885.1h1.5M441.3 884.1h1.5M410 866.5h1.5M429.9 850.7h1.5M429.8 888.3h1.5M419.8 861.9h1.5M440.5 894.1h1.5M446.1 879.1h1.5M407.3 884h1.5M438.1 866h1.5M456.8 866.9h1.5M466.3 866h1.5M458.4 850.2h1.5M460.1 887.2h1.5M457.9 849.3h1.5M463.2 854h1.5" stroke="#bdbdbd" stroke-width="1.5" fill="none"/>
<path d="M464.8 826.2h1.5M467 874.8h1.5M480.2 840.9h1.5M476.1 857.2h1.5M471.9 831.6h1.5M476.5 829.4h1.5M462 828.2h1.5M468.3 841.9h1.5M462.3 843.6h1.5M473.1 828.5h1.5M465.2 853.6h1.5M465.2 880.3h1.5M467.6 875.2h1.5M478.1 845.6h1.5M474.6 846.6h1.5M468.5 881.6h1.5M444.7 828.3h1.5M428.9 825.1h1.5M435.1 823.7h1.5M442.9 828.4h1.5M437 824.4h1.5M435.7 828.6h1.5M428.4 872.1h1.5M443 870.1h1.5M441.2 861h1.5M427.3 883.3h1.5M445.8 859.7h1.5M416.4 879.2h1.5M429.1 855.4h1.5M426.6 857.7h1.5M410.2 891.8h1.5M420.7 883.1h1.5M438.7 850.1h1.5M451.6 853.8h1.5M459.2 846.8h1.5" stroke="#b8b8b8" stroke-width="1.5" fill="none"/>
<path d="M467.9 876.3h1.5M471.8 885.5h1.5M477.4 829.1h1.5M476.2 867.1h1.5M462.2 873.6h1.5M474.9 865.7h1.5M465.7 857.6h1.5M469.3 876.8h1.5M472.2 825.2h1.5M472.8 840.1h1.5M469.4 852h1.5M475.5 844.5h1.5M464 828.6h1.5M479.6 852.9h1.5M468.5 884.7h1.5M466.8 878.9h1.5M463.8 838.5h1.5M468.3 853h1.5M472.3 871h1.5M479.1 856.7h1.5M476.1 850.4h1.5M477.5 863.7h1.5M474 842.1h1.5M469.5 865h1.5M449.9 824.4h1.5M445.5 830.1h1.5M453.7 828.4h1.5M453.2 827.4h1.5M454.8 822.3h1.5M455.3 822.2h1.5M448.1 825.6h1.5M446.1 828.2h1.5M450.6 823.9h1.5M457.4 820.5h1.5M450.5 827.5h1.5M458.6 828.4h1.5M452.1 831.1h1.5M446.9 825h1.5M449.3 830.2h1.5M454.6 830.2h1.5M450.9 822.9h1.5M444 823h1.5M445.7 825.3h1.5M446.7 825.7h1.5M430.6 825.6h1.5M439.5 826.5h1.5M431.5 827.6h1.5M438.6 824.5h1.5" stroke="#b5b5b5" stroke-width="1.5" fill="none"/>
<path d="M470.7 883.6h1.5M464.5 873h1.5M461.8 825.6h1.5M469.3 843.8h1.5M475 847.5h1.5M470.9 857.3h1.5M475 872.6h1.5M465.3 884.2h1.5M477.6 849.3h1.5M479.1 858.4h1.5M474.8 880.2h1.5M466.1 862h1.5M461.4 840.4h1.5M474.9 851.9h1.5M463.2 838.8h1.5M470.1 869.9h1.5M465.4 859.3h1.5M462.5 822.9h1.5M466.4 869.2h1.5M464.2 847h1.5M465 849.1h1.5M456.6 832.3h1.5M445.7 823.2h1.5M455.7 830.1h1.5M445.6 829.5h1.5M456.5 826.9h1.5M445.1 826.6h1.5M450.7 826.8h1.5M453.5 828h1.5M451 824.5h1.5M454.6 827.5h1.5M456.2 831.5h1.5M446.9 829.6h1.5M458.1 826.3h1.5M455.2 829.1h1.5M447.1 829.6h1.5M456 821.8h1.5M457 828.5h1.5M458.3 827.9h1.5M458 831.4h1.5M458.5 821.3h1.5M457.4 826.9h1.5M448.7 828.1h1.5M428.1 825.1h1.5M435.4 824.5h1.5" stroke="#aaaaaa" stroke-width="1.5" fill="none"/>
<path d="M458.7 824h1.5M470.2 835h1.5M460.8 836h1.5M477.7 832.2h1.5M476.4 872.3h1.5M468.9 860.5h1.5M472.4 877.7h1.5M472.2 865.7h1.5M458.8 824.8h1.5M476 875.6h1.5M470.9 866.5h1.5M472.6 859h1.5M476.9 861.3h1.5M468.8 874.4h1.5M477.7 832.9h1.5M474.5 857.4h1.5M463.4 862.8h1.5M469.3 876.4h1.5M469.4 836.5h1.5M432.9 824.8h1.5M433.9 827.5h1.5M436.7 871.9h1.5M438.6 860.7h1.5M431.1 855.8h1.5M432 868.1h1.5M447.8 855h1.5M435.1 858h1.5M430.7 867.1h1.5M434.1 858.5h1.5M431.4 869.2h1.5M425.1 877.5h1.5M440.1 856.3h1.5M421 874.6h1.5M428.3 866.2h1.5M462.5 868.4h1.5M461.8 860.8h1.5M457.5 869.6h1.5M460.4 864.7h1.5" stroke="#a8a8a8" stroke-width="1.5" fill="none"/>
<path d="M463.1 863.1h1.5M467.8 866.9h1.5M465.2 870.5h1.5M467.4 839.5h1.5M470.3 855.7h1.5M476.9 825.6h1.5M472.8 842.1h1.5M473.1 835h1.5M468.1 827.8h1.5M471.7 845.6h1.5M476.6 883.2h1.5M474.7 883.6h1.5M463.1 870.8h1.5M469.4 871.2h1.5M480 847.8h1.5M475.2 875h1.5M468.6 877.9h1.5M468.9 853.6h1.5M462.1 843.7h1.5M461 823.1h1.5M472.9 842.7h1.5M468.5 879.4h1.5M474.3 834.6h1.5M466.1 858.5h1.5M472.2 868h1.5M465.5 866.2h1.5M469.2 852.8h1.5M471.3 866.6h1.5M471.4 855.5h1.5M467.2 825.5h1.5M477.6 842.5h1.5M480.4 843.9h1.5M465.9 860.2h1.5M476.7 853.3h1.5M468.9 878.9h1.5M465 823.5h1.5M468.7 844.7h1.5M469.9 844.2h1.5M461.5 838.3h1.5M468.1 873.5h1.5M473.3 834h1.5M463.7 834.8h1.5M468.8 839.8h1.5M469.3 823h1.5M476.9 875.2h1.5M461.3 847.4h1.5M463.7 863.3h1.5M449.8 824.2h1.5M448.2 828.1h1.5M447.1 826.3h1.5M450.2 821.7h1.5M451.5 825.7h1.5M456.8 831.7h1.5M458.1 822.5h1.5M453.3 829.8h1.5M458.1 825.3h1.5M446.1 824.1h1.5M454 824.6h1.5M451.8 823.4h1.5M453.9 822.3h1.5M454.8 820.9h1.5M440.1 827.6h1.5M429.5 824.2h1.5M427.3 826.6h1.5M435.6 825.8h1.5M435 824.3h1.5M436.7 825.8h1.5M432.6 826.1h1.5M415.6 859.9h1.5M437.2 858.9h1.5M454.9 856.8h1.5M414.8 887.1h1.5M445.8 876.6h1.5M448.2 860h1.5M425 867.7h1.5M446.9 857.6h1.5M431.8 885.1h1.5M443.7 858.7h1.5M423.6 865.1h1.5M460.1 854.8h1.5M461.5 875.9h1.5M464.3 879.4h1.5M465.7 895.6h1.5" stroke="#9a9a9a" stroke-width="1.5" fill="none"/>
<path d="M464.7 862.2h1.5M472.5 838.6h1.5M479.9 860h1.5M477.4 846h1.5M479.3 852.3h1.5M474.1 881.1h1.5M467.7 868.3h1.5M480.5 842.8h1.5M477.3 822.2h1.5M465.4 847.3h1.5M463.9 874.5h1.5M478.3 871.1h1.5M476.1 857.4h1.5M478.7 823.5h1.5M465.3 827.6h1.5M466.2 874h1.5M473.2 853.6h1.5M469 826.3h1.5M480.3 841.5h1.5M470 882.1h1.5M478.8 828.6h1.5M468.9 832.8h1.5M462.7 847.9h1.5M471.1 830.9h1.5M480 861.1h1.5M463.5 834.9h1.5M472.8 879.7h1.5M478.4 833.8h1.5M474.3 840.2h1.5M471.5 828.4h1.5M480.2 834.7h1.5M475 868.7h1.5M479.4 847.7h1.5M476 883.8h1.5M464.7 869.3h1.5M469.6 823.7h1.5M475.5 881.4h1.5M476.7 836.4h1.5M477.3 866.9h1.5M475.7 859.2h1.5M462.9 855.2h1.5M464.6 863.6h1.5M475.1 860.9h1.5M470.5 859.4h1.5M453.1 824.7h1.5M458 822.3h1.5M458.6 824.8h1.5M457.6 830.3h1.5M450.2 827.5h1.5M454.7 829.2h1.5M457.4 820.9h1.5M453.2 831.3h1.5M452.9 827.7h1.5M448.3 829.2h1.5M447.8 822.3h1.5M446.6 825.4h1.5M449.7 828.4h1.5M457.5 831.4h1.5M457.2 823.6h1.5M453.6 832.2h1.5M452.8 829h1.5M448.2 831.3h1.5M451.9 828.3h1.5M449.6 828.3h1.5M450.9 825.4h1.5M448.5 828.6h1.5M447.2 827.6h1.5M451.7 824.3h1.5M451.9 832h1.5M458.6 826.5h1.5M450.7 821.7h1.5M427.3 825.1h1.5M434.3 825.8h1.5M441.1 829.1h1.5" stroke="#8a8a8a" stroke-width="1.5" fill="none"/>
<path d="M478.8 867.3h1.5M462.3 867h1.5M478.9 825h1.5M460.3 840.6h1.5M473.6 847.7h1.5M478.7 850.4h1.5M470.8 884.7h1.5M466.3 859.4h1.5M469.3 882.3h1.5M472.4 828.5h1.5M466.4 839.1h1.5M471 870.5h1.5M478.8 870.8h1.5M466.5 824.4h1.5M478.2 868.3h1.5M468.3 823.4h1.5M471.3 835h1.5M480.3 847.3h1.5M466.9 833.2h1.5M457.1 823.9h1.5M456.5 828.3h1.5M453.3 831.9h1.5M454 832h1.5M454.2 829.8h1.5M458.2 821.5h1.5M448.9 824h1.5M453 823.7h1.5M450.6 827.5h1.5M447.8 822.6h1.5M451 829h1.5M456 831.6h1.5M453.1 825.3h1.5M455 821.4h1.5M447 824.7h1.5M454.9 827.6h1.5" stroke="#7a7a7a" stroke-width="1.5" fill="none"/>
<path d="M468 863.7h1.5M472.1 851.1h1.5M459.8 838.4h1.5M472.5 823.3h1.5M473 854.9h1.5M470.8 857.5h1.5M476.1 881.9h1.5M464.4 876.4h1.5M479.4 869.4h1.5M470.4 871.3h1.5M475.8 853.9h1.5M476.7 845.9h1.5M469.5 847h1.5M472.5 849.6h1.5M460.8 835.4h1.5M471.6 882.2h1.5M462.9 827.3h1.5M480.7 835.1h1.5M470.9 832.9h1.5M465.8 837h1.5M476.3 822.4h1.5M462.2 880.7h1.5M464.9 876.5h1.5M481.1 854.8h1.5M453.5 827.9h1.5M455.8 820.1h1.5M457.2 828.9h1.5M455.1 832.6h1.5M456.7 830.3h1.5M445.7 825.5h1.5M452.6 823.1h1.5M458.4 831h1.5M448.8 827.1h1.5M451 829.2h1.5M451.3 824.4h1.5M449.3 830.9h1.5M453.2 831.6h1.5M455.5 832.7h1.5" stroke="#6a6a6a" stroke-width="1.5" fill="none"/>
<path d="M472.1 855.2h1.5M469.3 864.2h1.5M474 837.7h1.5M473 865.4h1.5M464.3 857h1.5M464.3 823.7h1.5M474.3 862.6h1.5M474.4 830.9h1.5M478.1 861.4h1.5M468.1 864.8h1.5M471.7 869.4h1.5M474.3 830.1h1.5M470.9 864.9h1.5M461.7 823.7h1.5M471 838.9h1.5M467.5 861.9h1.5M478 870.8h1.5M476.6 827.5h1.5M471.8 847.6h1.5M465.8 881.8h1.5M476.2 860h1.5M465.2 844.3h1.5M472 834.3h1.5M453.6 826.1h1.5M450.8 827h1.5M456.2 831.5h1.5M445.8 828.6h1.5M445.9 825.7h1.5M447.7 828.7h1.5M456.3 827.3h1.5M447 822.7h1.5M446.9 825.4h1.5M447.1 823.3h1.5M447.4 830.4h1.5M454.8 825h1.5M455.5 829.3h1.5M449.1 830.8h1.5M447.7 823.1h1.5M458.2 819.7h1.5M456.7 824h1.5M450.6 827.4h1.5M455 829.1h1.5M445.8 830.7h1.5" stroke="#5a5a5a" stroke-width="1.5" fill="none"/>
</g>
<line x1="456.6" y1="804.5" x2="456.6" y2="901.5" stroke="#999" stroke-width="1.1"/>
<line x1="403" y1="842" x2="499.8" y2="842" stroke="#999" stroke-width="1.1"/>
<rect x="403" y="804.5" width="96.8" height="97" fill="none" stroke="#9a9a9a" stroke-width="1.3"/>
<path d="M403 898.5h-4M403 892.4h-2.5M403 886.3h-2.5M403 880.2h-2.5M403 874.1h-4M403 868h-2.5M403 861.9h-2.5M403 855.8h-2.5M403 849.7h-4M403 843.6h-2.5M403 837.5h-2.5M403 831.4h-2.5M403 825.3h-4M403 819.2h-2.5M403 813.1h-2.5M403 807h-2.5M406 901.5v4M412.1 901.5v2.5M418.2 901.5v2.5M424.3 901.5v2.5M430.4 901.5v4M436.5 901.5v2.5M442.6 901.5v2.5M448.7 901.5v2.5M454.8 901.5v4M460.9 901.5v2.5M467 901.5v2.5M473.1 901.5v2.5M479.2 901.5v4M485.3 901.5v2.5M491.4 901.5v2.5M497.5 901.5v2.5" stroke="#b0b0b0" stroke-width="0.9" fill="none"/>
<text x="407.17" y="817.8" font-size="14.5" style="stroke-width:0.45px" fill="#000" stroke="#000" textLength="20.85" lengthAdjust="spacingAndGlyphs">4%</text>
<text x="471.46" y="817.8" font-size="14.5" style="stroke-width:0.45px" fill="#000" stroke="#000" textLength="28.29" lengthAdjust="spacingAndGlyphs">32%</text>
<text x="406.93" y="899" font-size="14.5" style="stroke-width:0.45px" fill="#000" stroke="#000" textLength="20.58" lengthAdjust="spacingAndGlyphs">5%</text>
<text x="470.68" y="899" font-size="14.5" style="stroke-width:0.45px" fill="#000" stroke="#000" textLength="28.58" lengthAdjust="spacingAndGlyphs">58%</text>
<text x="10.34" y="24.2" font-size="24.5" font-weight="bold" fill="#000" stroke="#000" textLength="19.16" lengthAdjust="spacingAndGlyphs">A</text>
<text x="10.39" y="299" font-size="24.5" font-weight="bold" fill="#000" stroke="#000" textLength="18.47" lengthAdjust="spacingAndGlyphs">B</text>
<text x="10.8" y="705.6" font-size="24.5" font-weight="bold" fill="#000" stroke="#000" textLength="17.56" lengthAdjust="spacingAndGlyphs">C</text>
<text x="12.7" y="979.2" font-size="24.5" font-weight="bold" fill="#000" stroke="#000" textLength="18.37" lengthAdjust="spacingAndGlyphs">D</text>
<text x="128.71" y="40.2" font-size="23" fill="#000" stroke="#000" textLength="43.55" lengthAdjust="spacingAndGlyphs">HD1</text>
<text x="175.52" y="28.5" font-size="17" style="stroke-width:0.45px" fill="#000" stroke="#000" textLength="49.05" lengthAdjust="spacingAndGlyphs">Δ2/WT</text>
<text x="129.13" y="73.5" font-size="23" fill="#000" stroke="#000" textLength="45.51" lengthAdjust="spacingAndGlyphs">HD2</text>
<text x="177.51" y="61.7" font-size="17" style="stroke-width:0.45px" fill="#000" stroke="#000" textLength="44.4" lengthAdjust="spacingAndGlyphs">Δ2/Δ2</text>
<text x="355.41" y="40.2" font-size="23" fill="#000" stroke="#000" textLength="43.55" lengthAdjust="spacingAndGlyphs">HD1</text>
<text x="403.01" y="27.4" font-size="17" style="stroke-width:0.45px" fill="#000" stroke="#000" textLength="45.02" lengthAdjust="spacingAndGlyphs">Δ2/Δ2</text>
<text x="355.81" y="73.8" font-size="23" fill="#000" stroke="#000" textLength="46.15" lengthAdjust="spacingAndGlyphs">HD2</text>
<text x="403.72" y="61.1" font-size="17" style="stroke-width:0.45px" fill="#000" stroke="#000" textLength="48.84" lengthAdjust="spacingAndGlyphs">Δ2/WT</text>
<path d="M110.4 212.5 L120.4 209 L126.5 204 L131.9 199 L137.3 184 L141.9 166 L146.5 146 L149.6 135 L155 128 L156.5 132.7 L163.5 112 L166 93 L168.5 95 L171 115.8 L174.2 138.8 L175.5 153 L177.8 170 L180 186 L182 197 L186.5 203 L192 206.5 L197.3 207 L202 204 L207.3 200 L211 206 L215.8 211.5 L221 215" fill="none" stroke="#8c8c8c" stroke-width="1.9" stroke-linejoin="round"/>
<path d="M110.4 211.9 L120.4 208 L126.5 203.5 L131.9 200.4 L137.3 185 L141.9 168 L146.5 146.5 L149.6 134.2 L155 122.7 L158 124.2 L163.5 108 L165.8 91.9 L168 94 L171 115.8 L174.2 138.8 L175 153 L177.3 169.6 L179.6 185.4 L182 196 L186.5 203.8 L192 207.7 L197.3 208.5 L202 206 L205.8 204.6 L211 208.5 L215.8 212.3 L221 215" fill="none" stroke="#000" stroke-width="1.6" stroke-linejoin="round"/>
<line x1="170.5" y1="166" x2="170.5" y2="215" stroke="#7a7a7a" stroke-width="3.2"/>
<line x1="232" y1="166" x2="232" y2="215" stroke="#7a7a7a" stroke-width="3.2"/>
<line x1="170.5" y1="186.5" x2="232" y2="186.5" stroke="#7a7a7a" stroke-width="3"/>
<text x="183.53" y="157.5" font-size="14.2" style="stroke-width:0.45px" fill="#8a8a8a" stroke="#8a8a8a" textLength="52.51" lengthAdjust="spacingAndGlyphs">int-high</text>
<line x1="182" y1="101.5" x2="211" y2="101.5" stroke="#000" stroke-width="3"/>
<line x1="182" y1="119.5" x2="211" y2="119.5" stroke="#8a8a8a" stroke-width="3"/>
<text x="213.94" y="106.5" font-size="14.5" style="stroke-width:0.45px" fill="#000" stroke="#000" textLength="22.9" lengthAdjust="spacingAndGlyphs">WT</text>
<text x="213.69" y="124.8" font-size="14.5" style="stroke-width:0.45px" fill="#000" stroke="#000" textLength="23.07" lengthAdjust="spacingAndGlyphs">KO</text>
<rect x="108" y="90" width="135" height="125" fill="none" stroke="#000" stroke-width="2"/>
<text transform="translate(90.5 210.57) rotate(-90)" font-size="23" fill="#000" stroke="#000" textLength="118.56" lengthAdjust="spacingAndGlyphs">cell number</text>
<text x="70.49" y="244.5" font-size="23" fill="#000" stroke="#000" textLength="59.61" lengthAdjust="spacingAndGlyphs">TCRβ</text>
<line x1="135.8" y1="237" x2="224.6" y2="237" stroke="#000" stroke-width="1.6"/><path d="M223.6 232.9L239.9 237L223.6 241.1z" fill="#000"/>
<path d="M339.1 203 L348.3 193.7 L356 181.4 L362.2 173.7 L366.8 153.7 L371.4 135.2 L376 116.8 L380.6 112.2 L385.2 121.4 L389.8 132.2 L394.5 144.5 L400 157.3 L402.9 164.5 L406.5 169.6 L410.8 170.3 L415.1 168.1 L419.5 170.3 L423 174.6 L426.7 181.8 L431 187.6 L434.6 193.4 L438.9 202 L443.3 209.2 L447.6 212.8 L452 214.5" fill="none" stroke="#8c8c8c" stroke-width="1.9" stroke-linejoin="round"/>
<path d="M339.1 201.4 L343.7 196.8 L348.3 192.2 L352.9 181.4 L357.5 173.7 L362.2 158.3 L366.8 141.4 L370.6 122.9 L374.5 109.1 L376.8 106.8 L379.8 99.8 L382.2 95.2 L385.2 94.5 L387.5 91.4 L389.8 96.8 L392.2 116.8 L394.5 136.8 L396.8 150.6 L399.1 169 L401.4 186 L402.9 192 L406.5 200.6 L410.8 204.2 L417.3 203.5 L421.6 199.9 L426 197 L430.3 194.8 L433.9 193.4 L437.5 197.7 L441.8 206.3 L445.4 211.4 L449.8 214" fill="none" stroke="#000" stroke-width="1.6" stroke-linejoin="round"/>
<line x1="392.5" y1="166" x2="392.5" y2="215" stroke="#7a7a7a" stroke-width="3.2"/>
<line x1="457.5" y1="166" x2="457.5" y2="215" stroke="#7a7a7a" stroke-width="3.2"/>
<line x1="392.5" y1="186.5" x2="457.5" y2="186.5" stroke="#7a7a7a" stroke-width="3"/>
<text x="410.53" y="157.5" font-size="14.2" style="stroke-width:0.45px" fill="#8a8a8a" stroke="#8a8a8a" textLength="52.51" lengthAdjust="spacingAndGlyphs">int-high</text>
<line x1="410" y1="101.5" x2="439" y2="101.5" stroke="#000" stroke-width="3"/>
<line x1="410" y1="119.5" x2="439" y2="119.5" stroke="#8a8a8a" stroke-width="3"/>
<text x="440.94" y="106.5" font-size="14.5" style="stroke-width:0.45px" fill="#000" stroke="#000" textLength="22.9" lengthAdjust="spacingAndGlyphs">WT</text>
<text x="440.69" y="124.8" font-size="14.5" style="stroke-width:0.45px" fill="#000" stroke="#000" textLength="23.07" lengthAdjust="spacingAndGlyphs">KO</text>
<rect x="339" y="89.5" width="132" height="126" fill="none" stroke="#000" stroke-width="2"/>
<text transform="translate(321.9 210.57) rotate(-90)" font-size="23" fill="#000" stroke="#000" textLength="118.56" lengthAdjust="spacingAndGlyphs">cell number</text>
<text x="300.9" y="244.5" font-size="23" fill="#000" stroke="#000" textLength="58.73" lengthAdjust="spacingAndGlyphs">TCRβ</text>
<line x1="366.25" y1="237.5" x2="454.75" y2="237.5" stroke="#000" stroke-width="1.6"/><path d="M453.75 233.4L470 237.5L453.75 241.6z" fill="#000"/>
<text x="115.5" y="335.2" font-size="23" fill="#000" stroke="#000" textLength="35.22" lengthAdjust="spacingAndGlyphs">WT</text>
<text x="229.21" y="302.1" font-size="23" fill="#000" stroke="#000" textLength="43.55" lengthAdjust="spacingAndGlyphs">HD1</text>
<text x="277.72" y="290.4" font-size="17" style="stroke-width:0.45px" fill="#000" stroke="#000" textLength="48.84" lengthAdjust="spacingAndGlyphs">Δ2/WT</text>
<text x="229.63" y="335.6" font-size="23" fill="#000" stroke="#000" textLength="45.51" lengthAdjust="spacingAndGlyphs">HD2</text>
<text x="277.5" y="323.75" font-size="17" style="stroke-width:0.45px" fill="#000" stroke="#000" textLength="45.33" lengthAdjust="spacingAndGlyphs">Δ2/Δ2</text>
<text x="375.17" y="302" font-size="23" fill="#000" stroke="#000" textLength="44.67" lengthAdjust="spacingAndGlyphs">HD1</text>
<text x="424" y="290" font-size="17" style="stroke-width:0.45px" fill="#000" stroke="#000" textLength="45.59" lengthAdjust="spacingAndGlyphs">Δ2/Δ2</text>
<text x="375.61" y="333.75" font-size="23" fill="#000" stroke="#000" textLength="46.05" lengthAdjust="spacingAndGlyphs">HD2</text>
<text x="423.26" y="323" font-size="17" style="stroke-width:0.45px" fill="#000" stroke="#000" textLength="50.11" lengthAdjust="spacingAndGlyphs">Δ2/WT</text>
<text transform="translate(60 446.51) rotate(-90)" font-size="23" fill="#000" stroke="#000" textLength="60.22" lengthAdjust="spacingAndGlyphs">TCRβ</text>
<text x="25.02" y="495.4" font-size="23" fill="#000" stroke="#000" textLength="59.48" lengthAdjust="spacingAndGlyphs">CD69</text>
<line x1="92.6" y1="488.5" x2="462.2" y2="488.5" stroke="#000" stroke-width="1.6"/><path d="M461.2 484.35L476.5 488.5L461.2 492.65z" fill="#000"/>
<text transform="translate(60 602.57) rotate(-90)" font-size="23" fill="#000" stroke="#000" textLength="46.04" lengthAdjust="spacingAndGlyphs">CD4</text>
<text x="31.94" y="658" font-size="23" fill="#000" stroke="#000" textLength="45.65" lengthAdjust="spacingAndGlyphs">CD8</text>
<line x1="84.4" y1="651.2" x2="462.2" y2="651.2" stroke="#000" stroke-width="1.6"/><path d="M461.2 647.1L476.3 651.2L461.2 655.3z" fill="#000"/>
<text x="204.4" y="709.4" font-size="23" fill="#000" stroke="#000" textLength="134.13" lengthAdjust="spacingAndGlyphs">Tg OT-II TCR</text>
<line x1="62" y1="721.7" x2="490.5" y2="721.7" stroke="#000" stroke-width="1.8"/>
<text x="90.2" y="755.4" font-size="23" fill="#000" stroke="#000" textLength="34.1" lengthAdjust="spacingAndGlyphs">WT</text>
<line x1="60" y1="770.2" x2="145.4" y2="770.2" stroke="#000" stroke-width="2"/>
<line x1="182.7" y1="769.7" x2="492.8" y2="769.7" stroke="#000" stroke-width="2"/>
<text x="233.91" y="756.8" font-size="23" fill="#000" stroke="#000" textLength="43.66" lengthAdjust="spacingAndGlyphs">HD1</text>
<text x="280.71" y="743.5" font-size="17" style="stroke-width:0.45px" fill="#000" stroke="#000" textLength="45.13" lengthAdjust="spacingAndGlyphs">Δ2/Δ2</text>
<text x="327.43" y="756.8" font-size="23" fill="#000" stroke="#000">;</text>
<text x="338.43" y="756.8" font-size="23" fill="#000" stroke="#000" textLength="45.51" lengthAdjust="spacingAndGlyphs">HD2</text>
<text x="387.52" y="743.9" font-size="17" style="stroke-width:0.45px" fill="#000" stroke="#000" textLength="49.35" lengthAdjust="spacingAndGlyphs">Δ2/WT</text>
<text x="53.3" y="794.8" font-size="16.5" style="stroke-width:0.45px" fill="#000" stroke="#000" textLength="103.19" lengthAdjust="spacingAndGlyphs">51 +/- 16 x10</text>
<text x="155.32" y="787.5" font-size="17" style="stroke-width:0.45px" fill="#000" stroke="#000" textLength="10.73" lengthAdjust="spacingAndGlyphs">6</text>
<text x="285.37" y="795" font-size="16.5" style="stroke-width:0.45px" fill="#000" stroke="#000" textLength="101.56" lengthAdjust="spacingAndGlyphs">61 +/- 27 x10</text>
<text x="387.79" y="787.5" font-size="17" style="stroke-width:0.45px" fill="#000" stroke="#000" textLength="10.55" lengthAdjust="spacingAndGlyphs">6</text>
<text transform="translate(35.7 876.56) rotate(-90)" font-size="23" fill="#000" stroke="#000" textLength="45.63" lengthAdjust="spacingAndGlyphs">CD4</text>
<text x="6.94" y="925.9" font-size="23" fill="#000" stroke="#000" textLength="45.86" lengthAdjust="spacingAndGlyphs">CD8</text>
<line x1="61.9" y1="918.7" x2="481.5" y2="918.7" stroke="#000" stroke-width="1.6"/><path d="M480.5 914.55L497 918.7L480.5 922.85z" fill="#000"/>
<rect x="157.7" y="966.6" width="16.7" height="13" fill="#fff" stroke="#000" stroke-width="2"/>
<text x="181.26" y="979.6" font-size="20" fill="#000" stroke="#000" textLength="74.36" lengthAdjust="spacingAndGlyphs">Total SP</text>
<rect x="267.9" y="966.6" width="16.9" height="13.4" fill="#999" stroke="#000" stroke-width="2"/>
<text x="286.65" y="979.6" font-size="20" fill="#000" stroke="#000" textLength="69.04" lengthAdjust="spacingAndGlyphs">CD4SP</text>
<rect x="370" y="966.7" width="16.8" height="13.3" fill="#444" stroke="#000" stroke-width="2"/>
<text x="391.1" y="979.6" font-size="20" fill="#000" stroke="#000" textLength="65.53" lengthAdjust="spacingAndGlyphs">CD8SP</text>
<line x1="139.6" y1="1139.08" x2="484.4" y2="1139.08" stroke="#8a8a8a" stroke-width="1.8" stroke-dasharray="1.2 1"/>
<line x1="139.6" y1="1116.56" x2="484.4" y2="1116.56" stroke="#8a8a8a" stroke-width="1.8" stroke-dasharray="1.2 1"/>
<line x1="139.6" y1="1094.04" x2="484.4" y2="1094.04" stroke="#8a8a8a" stroke-width="1.8" stroke-dasharray="1.2 1"/>
<line x1="139.6" y1="1071.52" x2="484.4" y2="1071.52" stroke="#8a8a8a" stroke-width="1.8" stroke-dasharray="1.2 1"/>
<line x1="139.6" y1="1049" x2="484.4" y2="1049" stroke="#8a8a8a" stroke-width="1.8" stroke-dasharray="1.2 1"/>
<line x1="139.6" y1="1026.48" x2="484.4" y2="1026.48" stroke="#8a8a8a" stroke-width="1.8" stroke-dasharray="1.2 1"/>
<line x1="139.6" y1="1003.96" x2="484.4" y2="1003.96" stroke="#8a8a8a" stroke-width="1.8" stroke-dasharray="1.2 1"/>
<line x1="134.8" y1="1161.6" x2="139" y2="1161.6" stroke="#000" stroke-width="2"/>
<line x1="134.8" y1="1139.08" x2="139" y2="1139.08" stroke="#000" stroke-width="2"/>
<line x1="134.8" y1="1116.56" x2="139" y2="1116.56" stroke="#000" stroke-width="2"/>
<line x1="134.8" y1="1094.04" x2="139" y2="1094.04" stroke="#000" stroke-width="2"/>
<line x1="134.8" y1="1071.52" x2="139" y2="1071.52" stroke="#000" stroke-width="2"/>
<line x1="134.8" y1="1049" x2="139" y2="1049" stroke="#000" stroke-width="2"/>
<line x1="134.8" y1="1026.48" x2="139" y2="1026.48" stroke="#000" stroke-width="2"/>
<line x1="134.8" y1="1003.96" x2="139" y2="1003.96" stroke="#000" stroke-width="2"/>
<text x="110.75" y="1032.48" font-size="17" style="stroke-width:0.45px" fill="#000" stroke="#000" textLength="18.91" lengthAdjust="spacingAndGlyphs">12</text>
<text x="120.08" y="1077.52" font-size="17" style="stroke-width:0.45px" fill="#000" stroke="#000" textLength="9.45" lengthAdjust="spacingAndGlyphs">8</text>
<text x="119.84" y="1122.56" font-size="17" style="stroke-width:0.45px" fill="#000" stroke="#000" textLength="9.45" lengthAdjust="spacingAndGlyphs">4</text>
<text x="120.01" y="1167.6" font-size="17" style="stroke-width:0.45px" fill="#000" stroke="#000" textLength="9.45" lengthAdjust="spacingAndGlyphs">0</text>
<line x1="158.4" y1="1061.2" x2="158.4" y2="1072.2" stroke="#000" stroke-width="1.6"/>
<line x1="154.9" y1="1062" x2="161.9" y2="1062" stroke="#000" stroke-width="1.8"/>
<rect x="145.7" y="1072.2" width="25.3" height="89.4" fill="#fff" stroke="#000" stroke-width="1.8"/>
<line x1="183.5" y1="1066.4" x2="183.5" y2="1078.6" stroke="#000" stroke-width="1.6"/>
<line x1="180" y1="1067.2" x2="187" y2="1067.2" stroke="#000" stroke-width="1.8"/>
<rect x="171" y="1078.6" width="23.7" height="83" fill="#999" stroke="#000" stroke-width="1.8"/>
<line x1="207.3" y1="1138.6" x2="207.3" y2="1143.5" stroke="#000" stroke-width="1.6"/>
<line x1="203.8" y1="1139.4" x2="210.8" y2="1139.4" stroke="#000" stroke-width="1.8"/>
<rect x="194.7" y="1143.5" width="25.1" height="18.1" fill="#444" stroke="#000" stroke-width="1.8"/>
<line x1="244" y1="1017.7" x2="244" y2="1057.1" stroke="#000" stroke-width="1.6"/>
<line x1="240.5" y1="1018.5" x2="247.5" y2="1018.5" stroke="#000" stroke-width="1.8"/>
<rect x="231.5" y="1057.1" width="25" height="104.5" fill="#fff" stroke="#000" stroke-width="1.8"/>
<line x1="269" y1="1026" x2="269" y2="1066.3" stroke="#000" stroke-width="1.6"/>
<line x1="265.5" y1="1026.8" x2="272.5" y2="1026.8" stroke="#000" stroke-width="1.8"/>
<rect x="256.5" y="1066.3" width="25" height="95.3" fill="#999" stroke="#000" stroke-width="1.8"/>
<line x1="330.1" y1="1125.1" x2="330.1" y2="1137.2" stroke="#000" stroke-width="1.6"/>
<line x1="326.6" y1="1125.9" x2="333.6" y2="1125.9" stroke="#000" stroke-width="1.8"/>
<rect x="317.5" y="1137.2" width="25.1" height="24.4" fill="#fff" stroke="#000" stroke-width="1.8"/>
<line x1="355.2" y1="1142.4" x2="355.2" y2="1149.8" stroke="#000" stroke-width="1.6"/>
<line x1="351.7" y1="1143.2" x2="358.7" y2="1143.2" stroke="#000" stroke-width="1.8"/>
<rect x="342.6" y="1149.8" width="24.4" height="11.8" fill="#999" stroke="#000" stroke-width="1.8"/>
<line x1="379.4" y1="1144.7" x2="379.4" y2="1151.1" stroke="#000" stroke-width="1.6"/>
<line x1="375.9" y1="1145.5" x2="382.9" y2="1145.5" stroke="#000" stroke-width="1.8"/>
<rect x="367" y="1151.1" width="24.5" height="10.5" fill="#444" stroke="#000" stroke-width="1.8"/>
<line x1="416" y1="1111.8" x2="416" y2="1128.2" stroke="#000" stroke-width="1.6"/>
<line x1="412.5" y1="1112.6" x2="419.5" y2="1112.6" stroke="#000" stroke-width="1.8"/>
<rect x="404.7" y="1128.2" width="23.4" height="33.4" fill="#fff" stroke="#000" stroke-width="1.8"/>
<line x1="440.5" y1="1133.4" x2="440.5" y2="1143.3" stroke="#000" stroke-width="1.6"/>
<line x1="437" y1="1134.2" x2="444" y2="1134.2" stroke="#000" stroke-width="1.8"/>
<rect x="428.1" y="1143.3" width="24.6" height="18.3" fill="#999" stroke="#000" stroke-width="1.8"/>
<line x1="465.3" y1="1136.7" x2="465.3" y2="1149" stroke="#000" stroke-width="1.6"/>
<line x1="461.8" y1="1137.5" x2="468.8" y2="1137.5" stroke="#000" stroke-width="1.8"/>
<rect x="452.7" y="1149" width="24.7" height="12.6" fill="#444" stroke="#000" stroke-width="1.8"/>
<line x1="138.5" y1="1003.5" x2="138.5" y2="1163.6" stroke="#000" stroke-width="2.5"/>
<line x1="137" y1="1161.6" x2="484.5" y2="1161.6" stroke="#000" stroke-width="3"/>
<line x1="225.8" y1="1161.6" x2="225.8" y2="1166.1" stroke="#000" stroke-width="2.5"/>
<line x1="311.3" y1="1161.6" x2="311.3" y2="1166.1" stroke="#000" stroke-width="2.5"/>
<line x1="396.9" y1="1161.6" x2="396.9" y2="1166.1" stroke="#000" stroke-width="2.5"/>
<line x1="483.5" y1="1161.6" x2="483.5" y2="1166.1" stroke="#000" stroke-width="2.5"/>
<text transform="translate(97.5 1152.66) rotate(-90)" font-size="23" fill="#000" stroke="#000" textLength="144.06" lengthAdjust="spacingAndGlyphs">Cellularity x10</text>
<text transform="translate(87 1010.16) rotate(-90)" font-size="17" style="stroke-width:0.45px" fill="#000" stroke="#000" textLength="12.6" lengthAdjust="spacingAndGlyphs">7</text>
<text x="11.01" y="1197.5" font-size="23" fill="#000" stroke="#000" textLength="25.39" lengthAdjust="spacingAndGlyphs">Tg</text>
<text x="39.58" y="1190.4" font-size="15.5" style="stroke-width:0.45px" fill="#000" stroke="#000" textLength="39.31" lengthAdjust="spacingAndGlyphs">OT-II</text>
<text x="81.27" y="1198" font-size="23" fill="#000" stroke="#000" textLength="55.2" lengthAdjust="spacingAndGlyphs">-TCR</text>
<line x1="175.5" y1="1188.3" x2="190.9" y2="1188.3" stroke="#000" stroke-width="2"/>
<line x1="347" y1="1188.3" x2="362.4" y2="1188.3" stroke="#000" stroke-width="2"/>
<line x1="262.4" y1="1188.8" x2="276" y2="1188.8" stroke="#000" stroke-width="2"/>
<line x1="269.2" y1="1182.5" x2="269.2" y2="1195" stroke="#000" stroke-width="2"/>
<line x1="434.4" y1="1188.8" x2="448" y2="1188.8" stroke="#000" stroke-width="2"/>
<line x1="441.2" y1="1182.5" x2="441.2" y2="1195" stroke="#000" stroke-width="2"/>
<line x1="155.4" y1="1210.9" x2="288.7" y2="1210.9" stroke="#000" stroke-width="2.6"/>
<line x1="330.8" y1="1211" x2="463.8" y2="1211" stroke="#000" stroke-width="2.6"/>
<text x="199.1" y="1253.5" font-size="23" fill="#000" stroke="#000" textLength="35.22" lengthAdjust="spacingAndGlyphs">WT</text>
<text x="356.04" y="1253.3" font-size="23" fill="#000" stroke="#000" textLength="42.91" lengthAdjust="spacingAndGlyphs">HD1</text>
<text x="405.01" y="1238" font-size="17" style="stroke-width:0.45px" fill="#000" stroke="#000" textLength="44.56" lengthAdjust="spacingAndGlyphs">Δ2/Δ2</text>
<text x="355.91" y="1292.5" font-size="23" fill="#000" stroke="#000" textLength="46.05" lengthAdjust="spacingAndGlyphs">HD2</text>
<text x="404.99" y="1280" font-size="17" style="stroke-width:0.45px" fill="#000" stroke="#000" textLength="52.4" lengthAdjust="spacingAndGlyphs">Δ2/WT</text>
</g>
</svg></body></html>
